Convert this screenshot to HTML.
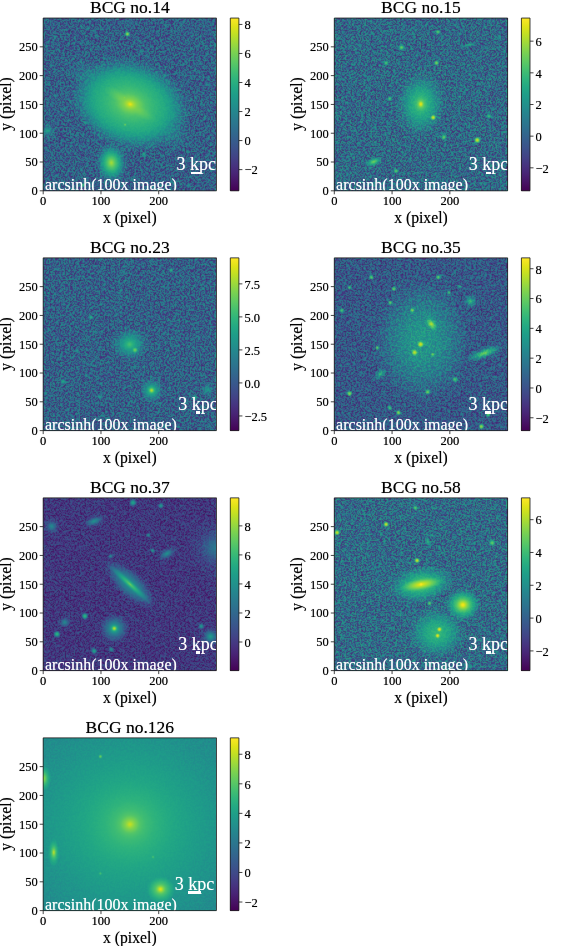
<!DOCTYPE html>
<html><head><meta charset="utf-8"><title>BCG</title><style>
*{margin:0;padding:0;box-sizing:border-box}
html,body{width:561px;height:946px;background:#fff;overflow:hidden}
body{position:relative;font-family:"Liberation Serif","DejaVu Serif",serif;color:#000}
.title,.ytl,.xtl,.ctl,.xl,.yl{text-shadow:0 0 0.7px rgba(0,0,0,0.55)}
.ann,.kpc{text-shadow:0 0 0.7px rgba(255,255,255,0.6)}
div,svg{position:absolute}
.title{font-size:17.5px;line-height:20px;text-align:center;white-space:nowrap}
.frame{border:0.8px solid #333}
.axclip{overflow:hidden}
.ann{font-size:16px;line-height:18px;color:#fff;white-space:nowrap}
.kpc{font-size:18px;line-height:20px;width:100px;text-align:center;color:#fff;white-space:nowrap}
.bar{height:2.6px;background:#fff}
.yt{width:3.5px;height:0.8px;background:#333}
.xt{width:0.8px;height:3.5px;background:#333}
.ct{width:3.5px;height:0.8px;background:#333}
.ytl{width:50px;text-align:right;font-size:12.5px;line-height:14px;white-space:nowrap}
.xtl{width:60px;text-align:center;font-size:12.5px;line-height:14px;white-space:nowrap}
.ctl{font-size:12.5px;line-height:14px;white-space:nowrap}
.xl{font-size:15.7px;line-height:18px;text-align:center;white-space:nowrap}
.yl{font-size:15.7px;line-height:18px;white-space:nowrap;transform:translate(-50%,-50%) rotate(-90deg)}
</style></head><body>
<div class="title" style="left:43.20px;top:-3.15px;width:173.30px">BCG no.14</div>
<svg class="im" style="left:43.20px;top:18.05px" width="173.30" height="172.75" viewBox="0 0 173.30 173.30" preserveAspectRatio="none"><defs><filter id="f0" x="0" y="0" width="173.30" height="173.30" filterUnits="userSpaceOnUse" color-interpolation-filters="sRGB">
<feTurbulence type="fractalNoise" baseFrequency="0.8" numOctaves="2" seed="3" result="t"/>
<feColorMatrix in="t" type="matrix" values="1 0 0 0 0  1 0 0 0 0  1 0 0 0 0  0 0 0 0 1" result="n0"/>
<feComponentTransfer in="n0" result="n"><feFuncR type="table" tableValues="0.0000 0.0042 0.0086 0.0131 0.0178 0.0227 0.0277 0.0330 0.0384 0.0441 0.0500 0.0562 0.0627 0.0696 0.0768 0.0844 0.0925 0.1011 0.1102 0.1201 0.1307 0.1423 0.1549 0.1688 0.1843 0.2018 0.2218 0.2453 0.2736 0.3088 0.3547 0.4175 0.5000 0.5825 0.6453 0.6912 0.7264 0.7547 0.7782 0.7982 0.8157 0.8312 0.8451 0.8577 0.8693 0.8799 0.8898 0.8989 0.9075 0.9156 0.9232 0.9304 0.9373 0.9438 0.9500 0.9559 0.9616 0.9670 0.9723 0.9773 0.9822 0.9869 0.9914 0.9958 1.0000"/><feFuncG type="table" tableValues="0.0000 0.0042 0.0086 0.0131 0.0178 0.0227 0.0277 0.0330 0.0384 0.0441 0.0500 0.0562 0.0627 0.0696 0.0768 0.0844 0.0925 0.1011 0.1102 0.1201 0.1307 0.1423 0.1549 0.1688 0.1843 0.2018 0.2218 0.2453 0.2736 0.3088 0.3547 0.4175 0.5000 0.5825 0.6453 0.6912 0.7264 0.7547 0.7782 0.7982 0.8157 0.8312 0.8451 0.8577 0.8693 0.8799 0.8898 0.8989 0.9075 0.9156 0.9232 0.9304 0.9373 0.9438 0.9500 0.9559 0.9616 0.9670 0.9723 0.9773 0.9822 0.9869 0.9914 0.9958 1.0000"/><feFuncB type="table" tableValues="0.0000 0.0042 0.0086 0.0131 0.0178 0.0227 0.0277 0.0330 0.0384 0.0441 0.0500 0.0562 0.0627 0.0696 0.0768 0.0844 0.0925 0.1011 0.1102 0.1201 0.1307 0.1423 0.1549 0.1688 0.1843 0.2018 0.2218 0.2453 0.2736 0.3088 0.3547 0.4175 0.5000 0.5825 0.6453 0.6912 0.7264 0.7547 0.7782 0.7982 0.8157 0.8312 0.8451 0.8577 0.8693 0.8799 0.8898 0.8989 0.9075 0.9156 0.9232 0.9304 0.9373 0.9438 0.9500 0.9559 0.9616 0.9670 0.9723 0.9773 0.9822 0.9869 0.9914 0.9958 1.0000"/></feComponentTransfer>
<feComponentTransfer in="SourceGraphic" result="a"><feFuncR type="table" tableValues="0.1336 0.1598 0.1905 0.2262 0.2673 0.3139 0.3658 0.4224 0.4832 0.5469 0.6123 0.6781 0.7427 0.8045 0.8614 0.9114 0.9521 0.9813 0.9973 0.9989 0.9860 0.9595 0.9211 0.8729 0.8173 0.7564 0.6923 0.6266 0.5609 0.4968 0.4353 0.3777 0.3247 0.2770 0.2347 0.1978 0.1660 0.1390 0.1160 0.0967 0.0805 0.0670 0.0557 0.0463 0.0385 0.0319 0.0265 0.0220 0.0183 0.0152 0.0126 0.0105 0.0087 0.0072 0.0060 0.0050 0.0041 0.0034 0.0029 0.0024 0.0020 0.0016 0.0014 0.0011 0.0009"/><feFuncG type="table" tableValues="0.1336 0.1598 0.1905 0.2262 0.2673 0.3139 0.3658 0.4224 0.4832 0.5469 0.6123 0.6781 0.7427 0.8045 0.8614 0.9114 0.9521 0.9813 0.9973 0.9989 0.9860 0.9595 0.9211 0.8729 0.8173 0.7564 0.6923 0.6266 0.5609 0.4968 0.4353 0.3777 0.3247 0.2770 0.2347 0.1978 0.1660 0.1390 0.1160 0.0967 0.0805 0.0670 0.0557 0.0463 0.0385 0.0319 0.0265 0.0220 0.0183 0.0152 0.0126 0.0105 0.0087 0.0072 0.0060 0.0050 0.0041 0.0034 0.0029 0.0024 0.0020 0.0016 0.0014 0.0011 0.0009"/><feFuncB type="table" tableValues="0.1336 0.1598 0.1905 0.2262 0.2673 0.3139 0.3658 0.4224 0.4832 0.5469 0.6123 0.6781 0.7427 0.8045 0.8614 0.9114 0.9521 0.9813 0.9973 0.9989 0.9860 0.9595 0.9211 0.8729 0.8173 0.7564 0.6923 0.6266 0.5609 0.4968 0.4353 0.3777 0.3247 0.2770 0.2347 0.1978 0.1660 0.1390 0.1160 0.0967 0.0805 0.0670 0.0557 0.0463 0.0385 0.0319 0.0265 0.0220 0.0183 0.0152 0.0126 0.0105 0.0087 0.0072 0.0060 0.0050 0.0041 0.0034 0.0029 0.0024 0.0020 0.0016 0.0014 0.0011 0.0009"/><feFuncA type="linear" slope="0" intercept="1"/></feComponentTransfer>
<feComposite in="a" in2="n" operator="arithmetic" k1="1" k2="-0.5" k3="0" k4="0.5" result="p"/>
<feComposite in="SourceGraphic" in2="p" operator="arithmetic" k1="0" k2="1" k3="0.6283" k4="-0.3142" result="d"/>
<feComponentTransfer in="d"><feFuncR type="table" tableValues="0.2670 0.2726 0.2770 0.2803 0.2823 0.2832 0.2829 0.2814 0.2788 0.2752 0.2706 0.2651 0.2590 0.2522 0.2450 0.2374 0.2278 0.2201 0.2124 0.2049 0.1976 0.1906 0.1839 0.1774 0.1712 0.1651 0.1592 0.1534 0.1476 0.1419 0.1364 0.1312 0.1254 0.1218 0.1197 0.1197 0.1223 0.1281 0.1373 0.1501 0.1664 0.1858 0.2080 0.2328 0.2599 0.2889 0.3198 0.3524 0.3952 0.4310 0.4681 0.5063 0.5455 0.5857 0.6266 0.6681 0.7099 0.7519 0.7938 0.8353 0.8762 0.9162 0.9553 0.9932"/><feFuncG type="table" tableValues="0.0049 0.0256 0.0503 0.0734 0.0950 0.1157 0.1359 0.1558 0.1755 0.1949 0.2141 0.2330 0.2515 0.2698 0.2877 0.3052 0.3266 0.3433 0.3597 0.3757 0.3915 0.4071 0.4224 0.4375 0.4525 0.4674 0.4822 0.4970 0.5117 0.5265 0.5412 0.5559 0.5743 0.5891 0.6038 0.6185 0.6332 0.6477 0.6623 0.6766 0.6909 0.7049 0.7187 0.7322 0.7455 0.7584 0.7709 0.7830 0.7975 0.8085 0.8189 0.8288 0.8380 0.8467 0.8546 0.8620 0.8688 0.8750 0.8807 0.8860 0.8911 0.8961 0.9011 0.9062"/><feFuncB type="table" tableValues="0.3294 0.3531 0.3757 0.3972 0.4173 0.4361 0.4534 0.4692 0.4834 0.4960 0.5071 0.5166 0.5247 0.5316 0.5373 0.5419 0.5465 0.5494 0.5517 0.5535 0.5550 0.5561 0.5569 0.5576 0.5580 0.5581 0.5581 0.5577 0.5570 0.5560 0.5545 0.5525 0.5491 0.5456 0.5414 0.5363 0.5304 0.5235 0.5156 0.5066 0.4965 0.4853 0.4729 0.4593 0.4445 0.4284 0.4112 0.3926 0.3678 0.3465 0.3240 0.3004 0.2756 0.2499 0.2234 0.1963 0.1693 0.1432 0.1200 0.1026 0.0953 0.1007 0.1181 0.1439"/><feFuncA type="linear" slope="0" intercept="1"/></feComponentTransfer>
<feConvolveMatrix order="3" kernelMatrix="1 2 1 2 12 2 1 2 1" edgeMode="duplicate"/>
</filter><radialGradient id="g0_0"><stop offset="0.000" stop-color="rgb(254,254,254)"/><stop offset="0.043" stop-color="rgb(224,224,224)"/><stop offset="0.100" stop-color="rgb(205,205,205)"/><stop offset="0.214" stop-color="rgb(183,183,183)"/><stop offset="0.357" stop-color="rgb(168,168,168)"/><stop offset="0.500" stop-color="rgb(156,156,156)"/><stop offset="0.600" stop-color="rgb(141,141,141)"/><stop offset="0.686" stop-color="rgb(119,119,119)"/><stop offset="0.786" stop-color="rgb(96,96,96)"/><stop offset="0.886" stop-color="rgb(81,81,81)"/><stop offset="1.000" stop-color="rgb(80,80,80)"/></radialGradient><radialGradient id="g0_1"><stop offset="0.000" stop-color="rgb(213,213,213)"/><stop offset="0.011" stop-color="rgb(213,213,213)"/><stop offset="0.033" stop-color="rgb(211,211,211)"/><stop offset="0.062" stop-color="rgb(207,207,207)"/><stop offset="0.099" stop-color="rgb(202,202,202)"/><stop offset="0.141" stop-color="rgb(196,196,196)"/><stop offset="0.189" stop-color="rgb(188,188,188)"/><stop offset="0.242" stop-color="rgb(179,179,179)"/><stop offset="0.299" stop-color="rgb(168,168,168)"/><stop offset="0.361" stop-color="rgb(156,156,156)"/><stop offset="0.428" stop-color="rgb(143,143,143)"/><stop offset="0.498" stop-color="rgb(128,128,128)"/><stop offset="0.573" stop-color="rgb(112,112,112)"/><stop offset="0.651" stop-color="rgb(97,97,97)"/><stop offset="0.733" stop-color="rgb(85,85,85)"/><stop offset="0.819" stop-color="rgb(80,80,80)"/><stop offset="0.908" stop-color="rgb(80,80,80)"/><stop offset="1.000" stop-color="rgb(80,80,80)"/></radialGradient><radialGradient id="g0_2"><stop offset="0.000" stop-color="rgb(224,224,224)"/><stop offset="0.083" stop-color="rgb(209,209,209)"/><stop offset="0.167" stop-color="rgb(192,192,192)"/><stop offset="0.292" stop-color="rgb(173,173,173)"/><stop offset="0.417" stop-color="rgb(151,151,151)"/><stop offset="0.542" stop-color="rgb(128,128,128)"/><stop offset="0.667" stop-color="rgb(104,104,104)"/><stop offset="0.833" stop-color="rgb(83,83,83)"/><stop offset="1.000" stop-color="rgb(80,80,80)"/></radialGradient><radialGradient id="g0_3"><stop offset="0.000" stop-color="rgb(220,220,220)"/><stop offset="0.011" stop-color="rgb(220,220,220)"/><stop offset="0.033" stop-color="rgb(220,220,220)"/><stop offset="0.062" stop-color="rgb(219,219,219)"/><stop offset="0.099" stop-color="rgb(218,218,218)"/><stop offset="0.141" stop-color="rgb(216,216,216)"/><stop offset="0.189" stop-color="rgb(213,213,213)"/><stop offset="0.242" stop-color="rgb(208,208,208)"/><stop offset="0.299" stop-color="rgb(202,202,202)"/><stop offset="0.361" stop-color="rgb(193,193,193)"/><stop offset="0.428" stop-color="rgb(183,183,183)"/><stop offset="0.498" stop-color="rgb(170,170,170)"/><stop offset="0.573" stop-color="rgb(154,154,154)"/><stop offset="0.651" stop-color="rgb(134,134,134)"/><stop offset="0.733" stop-color="rgb(112,112,112)"/><stop offset="0.819" stop-color="rgb(90,90,90)"/><stop offset="0.908" stop-color="rgb(80,80,80)"/><stop offset="1.000" stop-color="rgb(80,80,80)"/></radialGradient><radialGradient id="g0_4"><stop offset="0.000" stop-color="rgb(149,149,149)"/><stop offset="0.011" stop-color="rgb(148,148,148)"/><stop offset="0.033" stop-color="rgb(145,145,145)"/><stop offset="0.062" stop-color="rgb(141,141,141)"/><stop offset="0.099" stop-color="rgb(136,136,136)"/><stop offset="0.141" stop-color="rgb(131,131,131)"/><stop offset="0.189" stop-color="rgb(125,125,125)"/><stop offset="0.242" stop-color="rgb(118,118,118)"/><stop offset="0.299" stop-color="rgb(111,111,111)"/><stop offset="0.361" stop-color="rgb(103,103,103)"/><stop offset="0.428" stop-color="rgb(96,96,96)"/><stop offset="0.498" stop-color="rgb(90,90,90)"/><stop offset="0.573" stop-color="rgb(85,85,85)"/><stop offset="0.651" stop-color="rgb(81,81,81)"/><stop offset="0.733" stop-color="rgb(80,80,80)"/><stop offset="0.819" stop-color="rgb(80,80,80)"/><stop offset="0.908" stop-color="rgb(80,80,80)"/><stop offset="1.000" stop-color="rgb(80,80,80)"/></radialGradient><radialGradient id="g0_5"><stop offset="0.000" stop-color="rgb(216,216,216)"/><stop offset="0.011" stop-color="rgb(216,216,216)"/><stop offset="0.033" stop-color="rgb(215,215,215)"/><stop offset="0.062" stop-color="rgb(215,215,215)"/><stop offset="0.099" stop-color="rgb(214,214,214)"/><stop offset="0.141" stop-color="rgb(212,212,212)"/><stop offset="0.189" stop-color="rgb(208,208,208)"/><stop offset="0.242" stop-color="rgb(204,204,204)"/><stop offset="0.299" stop-color="rgb(197,197,197)"/><stop offset="0.361" stop-color="rgb(189,189,189)"/><stop offset="0.428" stop-color="rgb(179,179,179)"/><stop offset="0.498" stop-color="rgb(165,165,165)"/><stop offset="0.573" stop-color="rgb(149,149,149)"/><stop offset="0.651" stop-color="rgb(130,130,130)"/><stop offset="0.733" stop-color="rgb(108,108,108)"/><stop offset="0.819" stop-color="rgb(87,87,87)"/><stop offset="0.908" stop-color="rgb(80,80,80)"/><stop offset="1.000" stop-color="rgb(80,80,80)"/></radialGradient><radialGradient id="g0_6"><stop offset="0.000" stop-color="rgb(207,207,207)"/><stop offset="0.011" stop-color="rgb(207,207,207)"/><stop offset="0.033" stop-color="rgb(207,207,207)"/><stop offset="0.062" stop-color="rgb(206,206,206)"/><stop offset="0.099" stop-color="rgb(205,205,205)"/><stop offset="0.141" stop-color="rgb(203,203,203)"/><stop offset="0.189" stop-color="rgb(200,200,200)"/><stop offset="0.242" stop-color="rgb(195,195,195)"/><stop offset="0.299" stop-color="rgb(189,189,189)"/><stop offset="0.361" stop-color="rgb(181,181,181)"/><stop offset="0.428" stop-color="rgb(170,170,170)"/><stop offset="0.498" stop-color="rgb(157,157,157)"/><stop offset="0.573" stop-color="rgb(141,141,141)"/><stop offset="0.651" stop-color="rgb(122,122,122)"/><stop offset="0.733" stop-color="rgb(100,100,100)"/><stop offset="0.819" stop-color="rgb(83,83,83)"/><stop offset="0.908" stop-color="rgb(80,80,80)"/><stop offset="1.000" stop-color="rgb(80,80,80)"/></radialGradient><radialGradient id="g0_7"><stop offset="0.000" stop-color="rgb(160,160,160)"/><stop offset="0.011" stop-color="rgb(160,160,160)"/><stop offset="0.033" stop-color="rgb(160,160,160)"/><stop offset="0.062" stop-color="rgb(159,159,159)"/><stop offset="0.099" stop-color="rgb(158,158,158)"/><stop offset="0.141" stop-color="rgb(157,157,157)"/><stop offset="0.189" stop-color="rgb(154,154,154)"/><stop offset="0.242" stop-color="rgb(151,151,151)"/><stop offset="0.299" stop-color="rgb(146,146,146)"/><stop offset="0.361" stop-color="rgb(140,140,140)"/><stop offset="0.428" stop-color="rgb(132,132,132)"/><stop offset="0.498" stop-color="rgb(123,123,123)"/><stop offset="0.573" stop-color="rgb(111,111,111)"/><stop offset="0.651" stop-color="rgb(98,98,98)"/><stop offset="0.733" stop-color="rgb(87,87,87)"/><stop offset="0.819" stop-color="rgb(80,80,80)"/><stop offset="0.908" stop-color="rgb(80,80,80)"/><stop offset="1.000" stop-color="rgb(80,80,80)"/></radialGradient><radialGradient id="g0_8"><stop offset="0.000" stop-color="rgb(181,181,181)"/><stop offset="0.011" stop-color="rgb(181,181,181)"/><stop offset="0.033" stop-color="rgb(181,181,181)"/><stop offset="0.062" stop-color="rgb(181,181,181)"/><stop offset="0.099" stop-color="rgb(180,180,180)"/><stop offset="0.141" stop-color="rgb(178,178,178)"/><stop offset="0.189" stop-color="rgb(175,175,175)"/><stop offset="0.242" stop-color="rgb(172,172,172)"/><stop offset="0.299" stop-color="rgb(166,166,166)"/><stop offset="0.361" stop-color="rgb(160,160,160)"/><stop offset="0.428" stop-color="rgb(151,151,151)"/><stop offset="0.498" stop-color="rgb(140,140,140)"/><stop offset="0.573" stop-color="rgb(127,127,127)"/><stop offset="0.651" stop-color="rgb(111,111,111)"/><stop offset="0.733" stop-color="rgb(95,95,95)"/><stop offset="0.819" stop-color="rgb(83,83,83)"/><stop offset="0.908" stop-color="rgb(80,80,80)"/><stop offset="1.000" stop-color="rgb(80,80,80)"/></radialGradient></defs><g filter="url(#f0)" style="isolation:isolate"><rect x="0" y="0" width="173.30" height="173.30" fill="rgb(80,80,80)"/><ellipse cx="87.20" cy="86.50" rx="70.00" ry="51.80" transform="rotate(18.0 87.20 86.50)" fill="url(#g0_0)" style="mix-blend-mode:lighten"/><ellipse cx="87.20" cy="86.50" rx="91.22" ry="32.84" transform="rotate(33.0 87.20 86.50)" fill="url(#g0_1)" style="mix-blend-mode:lighten"/><ellipse cx="68.40" cy="145.30" rx="24.00" ry="18.72" transform="rotate(85.0 68.40 145.30)" fill="url(#g0_2)" style="mix-blend-mode:lighten"/><ellipse cx="84.40" cy="16.10" rx="3.32" ry="3.32" transform="rotate(0.0 84.40 16.10)" fill="url(#g0_3)" style="mix-blend-mode:lighten"/><ellipse cx="4.70" cy="113.00" rx="12.16" ry="12.16" transform="rotate(0.0 4.70 113.00)" fill="url(#g0_4)" style="mix-blend-mode:lighten"/><ellipse cx="81.30" cy="80.00" rx="2.90" ry="2.90" transform="rotate(0.0 81.30 80.00)" fill="url(#g0_5)" style="mix-blend-mode:lighten"/><ellipse cx="82.20" cy="107.00" rx="2.90" ry="2.90" transform="rotate(0.0 82.20 107.00)" fill="url(#g0_6)" style="mix-blend-mode:lighten"/><ellipse cx="100.80" cy="136.50" rx="2.87" ry="2.87" transform="rotate(0.0 100.80 136.50)" fill="url(#g0_7)" style="mix-blend-mode:lighten"/><ellipse cx="40.30" cy="167.50" rx="2.63" ry="2.63" transform="rotate(0.0 40.30 167.50)" fill="url(#g0_8)" style="mix-blend-mode:lighten"/></g></svg>
<div class="axclip" style="left:43.20px;top:18.05px;width:173.30px;height:172.75px"><div class="ann" style="left:1.80px;top:158.30px">arcsinh(100x image)</div><div class="kpc" style="left:103.00px;top:135.80px">3 kpc</div><div class="bar" style="left:148.00px;top:153.50px;width:10.00px"></div></div>
<div class="ytl" style="left:-12.30px;top:184.10px">0</div>
<div class="ytl" style="left:-12.30px;top:155.31px">50</div>
<div class="ytl" style="left:-12.30px;top:126.52px">100</div>
<div class="ytl" style="left:-12.30px;top:97.73px">150</div>
<div class="ytl" style="left:-12.30px;top:68.93px">200</div>
<div class="ytl" style="left:-12.30px;top:40.14px">250</div>
<div class="xtl" style="left:13.20px;top:193.80px">0</div>
<div class="xtl" style="left:70.97px;top:193.80px">100</div>
<div class="xtl" style="left:128.73px;top:193.80px">200</div>
<div class="xl" style="left:43.20px;top:209.10px;width:173.30px">x (pixel)</div>
<div class="yl" style="left:6.20px;top:104.42px">y (pixel)</div>
<div class="cb" style="left:230.30px;top:18.05px;width:8.60px;height:172.75px;background:linear-gradient(to top,#440154 0.0%,#471365 5.0%,#482475 10.0%,#463480 15.0%,#414487 20.0%,#3b528b 25.0%,#355f8d 30.0%,#2f6c8e 35.0%,#2a788e 40.0%,#25848e 45.0%,#21918c 50.0%,#1e9c89 55.0%,#22a884 60.0%,#2fb47c 65.0%,#44bf70 70.0%,#5ec962 75.0%,#7ad151 80.0%,#9bd93c 85.0%,#bddf26 90.0%,#dfe318 95.0%,#fde725 100.0%)"></div>
<div class="ctl" style="left:244.40px;top:163.41px">−2</div>
<div class="ctl" style="left:244.40px;top:134.37px">0</div>
<div class="ctl" style="left:244.40px;top:105.34px">2</div>
<div class="ctl" style="left:244.40px;top:76.30px">4</div>
<div class="ctl" style="left:244.40px;top:47.27px">6</div>
<div class="ctl" style="left:244.40px;top:18.24px">8</div>
<div class="title" style="left:334.30px;top:-3.15px;width:173.30px">BCG no.15</div>
<svg class="im" style="left:334.30px;top:18.05px" width="173.30" height="172.75" viewBox="0 0 173.30 173.30" preserveAspectRatio="none"><defs><filter id="f1" x="0" y="0" width="173.30" height="173.30" filterUnits="userSpaceOnUse" color-interpolation-filters="sRGB">
<feTurbulence type="fractalNoise" baseFrequency="0.8" numOctaves="2" seed="10" result="t"/>
<feColorMatrix in="t" type="matrix" values="1 0 0 0 0  1 0 0 0 0  1 0 0 0 0  0 0 0 0 1" result="n0"/>
<feComponentTransfer in="n0" result="n"><feFuncR type="table" tableValues="0.0000 0.0042 0.0086 0.0131 0.0178 0.0227 0.0277 0.0330 0.0384 0.0441 0.0500 0.0562 0.0627 0.0696 0.0768 0.0844 0.0925 0.1011 0.1102 0.1201 0.1307 0.1423 0.1549 0.1688 0.1843 0.2018 0.2218 0.2453 0.2736 0.3088 0.3547 0.4175 0.5000 0.5825 0.6453 0.6912 0.7264 0.7547 0.7782 0.7982 0.8157 0.8312 0.8451 0.8577 0.8693 0.8799 0.8898 0.8989 0.9075 0.9156 0.9232 0.9304 0.9373 0.9438 0.9500 0.9559 0.9616 0.9670 0.9723 0.9773 0.9822 0.9869 0.9914 0.9958 1.0000"/><feFuncG type="table" tableValues="0.0000 0.0042 0.0086 0.0131 0.0178 0.0227 0.0277 0.0330 0.0384 0.0441 0.0500 0.0562 0.0627 0.0696 0.0768 0.0844 0.0925 0.1011 0.1102 0.1201 0.1307 0.1423 0.1549 0.1688 0.1843 0.2018 0.2218 0.2453 0.2736 0.3088 0.3547 0.4175 0.5000 0.5825 0.6453 0.6912 0.7264 0.7547 0.7782 0.7982 0.8157 0.8312 0.8451 0.8577 0.8693 0.8799 0.8898 0.8989 0.9075 0.9156 0.9232 0.9304 0.9373 0.9438 0.9500 0.9559 0.9616 0.9670 0.9723 0.9773 0.9822 0.9869 0.9914 0.9958 1.0000"/><feFuncB type="table" tableValues="0.0000 0.0042 0.0086 0.0131 0.0178 0.0227 0.0277 0.0330 0.0384 0.0441 0.0500 0.0562 0.0627 0.0696 0.0768 0.0844 0.0925 0.1011 0.1102 0.1201 0.1307 0.1423 0.1549 0.1688 0.1843 0.2018 0.2218 0.2453 0.2736 0.3088 0.3547 0.4175 0.5000 0.5825 0.6453 0.6912 0.7264 0.7547 0.7782 0.7982 0.8157 0.8312 0.8451 0.8577 0.8693 0.8799 0.8898 0.8989 0.9075 0.9156 0.9232 0.9304 0.9373 0.9438 0.9500 0.9559 0.9616 0.9670 0.9723 0.9773 0.9822 0.9869 0.9914 0.9958 1.0000"/></feComponentTransfer>
<feComponentTransfer in="SourceGraphic" result="a"><feFuncR type="table" tableValues="0.1349 0.1590 0.1868 0.2188 0.2553 0.2964 0.3420 0.3919 0.4456 0.5023 0.5613 0.6214 0.6817 0.7410 0.7978 0.8508 0.8983 0.9386 0.9699 0.9906 0.9997 0.9964 0.9812 0.9547 0.9186 0.8743 0.8237 0.7685 0.7102 0.6502 0.5899 0.5302 0.4723 0.4171 0.3653 0.3176 0.2743 0.2357 0.2015 0.1717 0.1459 0.1238 0.1048 0.0886 0.0749 0.0633 0.0534 0.0451 0.0380 0.0321 0.0271 0.0228 0.0192 0.0162 0.0137 0.0115 0.0097 0.0082 0.0069 0.0058 0.0049 0.0042 0.0035 0.0030 0.0025"/><feFuncG type="table" tableValues="0.1349 0.1590 0.1868 0.2188 0.2553 0.2964 0.3420 0.3919 0.4456 0.5023 0.5613 0.6214 0.6817 0.7410 0.7978 0.8508 0.8983 0.9386 0.9699 0.9906 0.9997 0.9964 0.9812 0.9547 0.9186 0.8743 0.8237 0.7685 0.7102 0.6502 0.5899 0.5302 0.4723 0.4171 0.3653 0.3176 0.2743 0.2357 0.2015 0.1717 0.1459 0.1238 0.1048 0.0886 0.0749 0.0633 0.0534 0.0451 0.0380 0.0321 0.0271 0.0228 0.0192 0.0162 0.0137 0.0115 0.0097 0.0082 0.0069 0.0058 0.0049 0.0042 0.0035 0.0030 0.0025"/><feFuncB type="table" tableValues="0.1349 0.1590 0.1868 0.2188 0.2553 0.2964 0.3420 0.3919 0.4456 0.5023 0.5613 0.6214 0.6817 0.7410 0.7978 0.8508 0.8983 0.9386 0.9699 0.9906 0.9997 0.9964 0.9812 0.9547 0.9186 0.8743 0.8237 0.7685 0.7102 0.6502 0.5899 0.5302 0.4723 0.4171 0.3653 0.3176 0.2743 0.2357 0.2015 0.1717 0.1459 0.1238 0.1048 0.0886 0.0749 0.0633 0.0534 0.0451 0.0380 0.0321 0.0271 0.0228 0.0192 0.0162 0.0137 0.0115 0.0097 0.0082 0.0069 0.0058 0.0049 0.0042 0.0035 0.0030 0.0025"/><feFuncA type="linear" slope="0" intercept="1"/></feComponentTransfer>
<feComposite in="a" in2="n" operator="arithmetic" k1="1" k2="-0.5" k3="0" k4="0.5" result="p"/>
<feComposite in="SourceGraphic" in2="p" operator="arithmetic" k1="0" k2="1" k3="0.6854" k4="-0.3427" result="d"/>
<feComponentTransfer in="d"><feFuncR type="table" tableValues="0.2670 0.2726 0.2770 0.2803 0.2823 0.2832 0.2829 0.2814 0.2788 0.2752 0.2706 0.2651 0.2590 0.2522 0.2450 0.2374 0.2278 0.2201 0.2124 0.2049 0.1976 0.1906 0.1839 0.1774 0.1712 0.1651 0.1592 0.1534 0.1476 0.1419 0.1364 0.1312 0.1254 0.1218 0.1197 0.1197 0.1223 0.1281 0.1373 0.1501 0.1664 0.1858 0.2080 0.2328 0.2599 0.2889 0.3198 0.3524 0.3952 0.4310 0.4681 0.5063 0.5455 0.5857 0.6266 0.6681 0.7099 0.7519 0.7938 0.8353 0.8762 0.9162 0.9553 0.9932"/><feFuncG type="table" tableValues="0.0049 0.0256 0.0503 0.0734 0.0950 0.1157 0.1359 0.1558 0.1755 0.1949 0.2141 0.2330 0.2515 0.2698 0.2877 0.3052 0.3266 0.3433 0.3597 0.3757 0.3915 0.4071 0.4224 0.4375 0.4525 0.4674 0.4822 0.4970 0.5117 0.5265 0.5412 0.5559 0.5743 0.5891 0.6038 0.6185 0.6332 0.6477 0.6623 0.6766 0.6909 0.7049 0.7187 0.7322 0.7455 0.7584 0.7709 0.7830 0.7975 0.8085 0.8189 0.8288 0.8380 0.8467 0.8546 0.8620 0.8688 0.8750 0.8807 0.8860 0.8911 0.8961 0.9011 0.9062"/><feFuncB type="table" tableValues="0.3294 0.3531 0.3757 0.3972 0.4173 0.4361 0.4534 0.4692 0.4834 0.4960 0.5071 0.5166 0.5247 0.5316 0.5373 0.5419 0.5465 0.5494 0.5517 0.5535 0.5550 0.5561 0.5569 0.5576 0.5580 0.5581 0.5581 0.5577 0.5570 0.5560 0.5545 0.5525 0.5491 0.5456 0.5414 0.5363 0.5304 0.5235 0.5156 0.5066 0.4965 0.4853 0.4729 0.4593 0.4445 0.4284 0.4112 0.3926 0.3678 0.3465 0.3240 0.3004 0.2756 0.2499 0.2234 0.1963 0.1693 0.1432 0.1200 0.1026 0.0953 0.1007 0.1181 0.1439"/><feFuncA type="linear" slope="0" intercept="1"/></feComponentTransfer>
<feConvolveMatrix order="3" kernelMatrix="1 2 1 2 12 2 1 2 1" edgeMode="duplicate"/>
</filter><radialGradient id="g1_0"><stop offset="0.000" stop-color="rgb(255,255,255)"/><stop offset="0.042" stop-color="rgb(235,235,235)"/><stop offset="0.083" stop-color="rgb(198,198,198)"/><stop offset="0.167" stop-color="rgb(174,174,174)"/><stop offset="0.278" stop-color="rgb(158,158,158)"/><stop offset="0.417" stop-color="rgb(145,145,145)"/><stop offset="0.556" stop-color="rgb(127,127,127)"/><stop offset="0.694" stop-color="rgb(109,109,109)"/><stop offset="0.833" stop-color="rgb(92,92,92)"/><stop offset="1.000" stop-color="rgb(88,88,88)"/></radialGradient><radialGradient id="g1_1"><stop offset="0.000" stop-color="rgb(244,244,244)"/><stop offset="0.011" stop-color="rgb(244,244,244)"/><stop offset="0.033" stop-color="rgb(244,244,244)"/><stop offset="0.062" stop-color="rgb(243,243,243)"/><stop offset="0.099" stop-color="rgb(242,242,242)"/><stop offset="0.141" stop-color="rgb(239,239,239)"/><stop offset="0.189" stop-color="rgb(236,236,236)"/><stop offset="0.242" stop-color="rgb(230,230,230)"/><stop offset="0.299" stop-color="rgb(222,222,222)"/><stop offset="0.361" stop-color="rgb(212,212,212)"/><stop offset="0.428" stop-color="rgb(200,200,200)"/><stop offset="0.498" stop-color="rgb(184,184,184)"/><stop offset="0.573" stop-color="rgb(165,165,165)"/><stop offset="0.651" stop-color="rgb(141,141,141)"/><stop offset="0.733" stop-color="rgb(115,115,115)"/><stop offset="0.819" stop-color="rgb(92,92,92)"/><stop offset="0.908" stop-color="rgb(88,88,88)"/><stop offset="1.000" stop-color="rgb(88,88,88)"/></radialGradient><radialGradient id="g1_2"><stop offset="0.000" stop-color="rgb(240,240,240)"/><stop offset="0.011" stop-color="rgb(240,240,240)"/><stop offset="0.033" stop-color="rgb(239,239,239)"/><stop offset="0.062" stop-color="rgb(239,239,239)"/><stop offset="0.099" stop-color="rgb(237,237,237)"/><stop offset="0.141" stop-color="rgb(235,235,235)"/><stop offset="0.189" stop-color="rgb(232,232,232)"/><stop offset="0.242" stop-color="rgb(227,227,227)"/><stop offset="0.299" stop-color="rgb(220,220,220)"/><stop offset="0.361" stop-color="rgb(211,211,211)"/><stop offset="0.428" stop-color="rgb(199,199,199)"/><stop offset="0.498" stop-color="rgb(185,185,185)"/><stop offset="0.573" stop-color="rgb(167,167,167)"/><stop offset="0.651" stop-color="rgb(146,146,146)"/><stop offset="0.733" stop-color="rgb(122,122,122)"/><stop offset="0.819" stop-color="rgb(98,98,98)"/><stop offset="0.908" stop-color="rgb(88,88,88)"/><stop offset="1.000" stop-color="rgb(88,88,88)"/></radialGradient><radialGradient id="g1_3"><stop offset="0.000" stop-color="rgb(198,198,198)"/><stop offset="0.011" stop-color="rgb(197,197,197)"/><stop offset="0.033" stop-color="rgb(197,197,197)"/><stop offset="0.062" stop-color="rgb(197,197,197)"/><stop offset="0.099" stop-color="rgb(196,196,196)"/><stop offset="0.141" stop-color="rgb(194,194,194)"/><stop offset="0.189" stop-color="rgb(191,191,191)"/><stop offset="0.242" stop-color="rgb(187,187,187)"/><stop offset="0.299" stop-color="rgb(181,181,181)"/><stop offset="0.361" stop-color="rgb(174,174,174)"/><stop offset="0.428" stop-color="rgb(164,164,164)"/><stop offset="0.498" stop-color="rgb(153,153,153)"/><stop offset="0.573" stop-color="rgb(138,138,138)"/><stop offset="0.651" stop-color="rgb(121,121,121)"/><stop offset="0.733" stop-color="rgb(104,104,104)"/><stop offset="0.819" stop-color="rgb(90,90,90)"/><stop offset="0.908" stop-color="rgb(88,88,88)"/><stop offset="1.000" stop-color="rgb(88,88,88)"/></radialGradient><radialGradient id="g1_4"><stop offset="0.000" stop-color="rgb(212,212,212)"/><stop offset="0.011" stop-color="rgb(209,209,209)"/><stop offset="0.033" stop-color="rgb(205,205,205)"/><stop offset="0.062" stop-color="rgb(200,200,200)"/><stop offset="0.099" stop-color="rgb(193,193,193)"/><stop offset="0.141" stop-color="rgb(185,185,185)"/><stop offset="0.189" stop-color="rgb(176,176,176)"/><stop offset="0.242" stop-color="rgb(165,165,165)"/><stop offset="0.299" stop-color="rgb(155,155,155)"/><stop offset="0.361" stop-color="rgb(143,143,143)"/><stop offset="0.428" stop-color="rgb(130,130,130)"/><stop offset="0.498" stop-color="rgb(118,118,118)"/><stop offset="0.573" stop-color="rgb(105,105,105)"/><stop offset="0.651" stop-color="rgb(95,95,95)"/><stop offset="0.733" stop-color="rgb(89,89,89)"/><stop offset="0.819" stop-color="rgb(88,88,88)"/><stop offset="0.908" stop-color="rgb(88,88,88)"/><stop offset="1.000" stop-color="rgb(88,88,88)"/></radialGradient><radialGradient id="g1_5"><stop offset="0.000" stop-color="rgb(205,205,205)"/><stop offset="0.011" stop-color="rgb(204,204,204)"/><stop offset="0.033" stop-color="rgb(204,204,204)"/><stop offset="0.062" stop-color="rgb(204,204,204)"/><stop offset="0.099" stop-color="rgb(203,203,203)"/><stop offset="0.141" stop-color="rgb(201,201,201)"/><stop offset="0.189" stop-color="rgb(197,197,197)"/><stop offset="0.242" stop-color="rgb(193,193,193)"/><stop offset="0.299" stop-color="rgb(187,187,187)"/><stop offset="0.361" stop-color="rgb(178,178,178)"/><stop offset="0.428" stop-color="rgb(168,168,168)"/><stop offset="0.498" stop-color="rgb(155,155,155)"/><stop offset="0.573" stop-color="rgb(139,139,139)"/><stop offset="0.651" stop-color="rgb(121,121,121)"/><stop offset="0.733" stop-color="rgb(101,101,101)"/><stop offset="0.819" stop-color="rgb(88,88,88)"/><stop offset="0.908" stop-color="rgb(88,88,88)"/><stop offset="1.000" stop-color="rgb(88,88,88)"/></radialGradient><radialGradient id="g1_6"><stop offset="0.000" stop-color="rgb(209,209,209)"/><stop offset="0.011" stop-color="rgb(209,209,209)"/><stop offset="0.033" stop-color="rgb(209,209,209)"/><stop offset="0.062" stop-color="rgb(208,208,208)"/><stop offset="0.099" stop-color="rgb(207,207,207)"/><stop offset="0.141" stop-color="rgb(205,205,205)"/><stop offset="0.189" stop-color="rgb(202,202,202)"/><stop offset="0.242" stop-color="rgb(197,197,197)"/><stop offset="0.299" stop-color="rgb(191,191,191)"/><stop offset="0.361" stop-color="rgb(183,183,183)"/><stop offset="0.428" stop-color="rgb(173,173,173)"/><stop offset="0.498" stop-color="rgb(160,160,160)"/><stop offset="0.573" stop-color="rgb(144,144,144)"/><stop offset="0.651" stop-color="rgb(125,125,125)"/><stop offset="0.733" stop-color="rgb(105,105,105)"/><stop offset="0.819" stop-color="rgb(90,90,90)"/><stop offset="0.908" stop-color="rgb(88,88,88)"/><stop offset="1.000" stop-color="rgb(88,88,88)"/></radialGradient><radialGradient id="g1_7"><stop offset="0.000" stop-color="rgb(188,188,188)"/><stop offset="0.011" stop-color="rgb(188,188,188)"/><stop offset="0.033" stop-color="rgb(188,188,188)"/><stop offset="0.062" stop-color="rgb(187,187,187)"/><stop offset="0.099" stop-color="rgb(186,186,186)"/><stop offset="0.141" stop-color="rgb(185,185,185)"/><stop offset="0.189" stop-color="rgb(182,182,182)"/><stop offset="0.242" stop-color="rgb(178,178,178)"/><stop offset="0.299" stop-color="rgb(172,172,172)"/><stop offset="0.361" stop-color="rgb(164,164,164)"/><stop offset="0.428" stop-color="rgb(155,155,155)"/><stop offset="0.498" stop-color="rgb(143,143,143)"/><stop offset="0.573" stop-color="rgb(129,129,129)"/><stop offset="0.651" stop-color="rgb(113,113,113)"/><stop offset="0.733" stop-color="rgb(97,97,97)"/><stop offset="0.819" stop-color="rgb(88,88,88)"/><stop offset="0.908" stop-color="rgb(88,88,88)"/><stop offset="1.000" stop-color="rgb(88,88,88)"/></radialGradient><radialGradient id="g1_8"><stop offset="0.000" stop-color="rgb(188,188,188)"/><stop offset="0.011" stop-color="rgb(188,188,188)"/><stop offset="0.033" stop-color="rgb(188,188,188)"/><stop offset="0.062" stop-color="rgb(187,187,187)"/><stop offset="0.099" stop-color="rgb(186,186,186)"/><stop offset="0.141" stop-color="rgb(185,185,185)"/><stop offset="0.189" stop-color="rgb(182,182,182)"/><stop offset="0.242" stop-color="rgb(178,178,178)"/><stop offset="0.299" stop-color="rgb(172,172,172)"/><stop offset="0.361" stop-color="rgb(164,164,164)"/><stop offset="0.428" stop-color="rgb(155,155,155)"/><stop offset="0.498" stop-color="rgb(143,143,143)"/><stop offset="0.573" stop-color="rgb(129,129,129)"/><stop offset="0.651" stop-color="rgb(113,113,113)"/><stop offset="0.733" stop-color="rgb(97,97,97)"/><stop offset="0.819" stop-color="rgb(88,88,88)"/><stop offset="0.908" stop-color="rgb(88,88,88)"/><stop offset="1.000" stop-color="rgb(88,88,88)"/></radialGradient><radialGradient id="g1_9"><stop offset="0.000" stop-color="rgb(193,193,193)"/><stop offset="0.011" stop-color="rgb(193,193,193)"/><stop offset="0.033" stop-color="rgb(193,193,193)"/><stop offset="0.062" stop-color="rgb(192,192,192)"/><stop offset="0.099" stop-color="rgb(191,191,191)"/><stop offset="0.141" stop-color="rgb(189,189,189)"/><stop offset="0.189" stop-color="rgb(186,186,186)"/><stop offset="0.242" stop-color="rgb(182,182,182)"/><stop offset="0.299" stop-color="rgb(177,177,177)"/><stop offset="0.361" stop-color="rgb(169,169,169)"/><stop offset="0.428" stop-color="rgb(160,160,160)"/><stop offset="0.498" stop-color="rgb(148,148,148)"/><stop offset="0.573" stop-color="rgb(134,134,134)"/><stop offset="0.651" stop-color="rgb(117,117,117)"/><stop offset="0.733" stop-color="rgb(100,100,100)"/><stop offset="0.819" stop-color="rgb(88,88,88)"/><stop offset="0.908" stop-color="rgb(88,88,88)"/><stop offset="1.000" stop-color="rgb(88,88,88)"/></radialGradient><radialGradient id="g1_10"><stop offset="0.000" stop-color="rgb(165,165,165)"/><stop offset="0.011" stop-color="rgb(163,163,163)"/><stop offset="0.033" stop-color="rgb(160,160,160)"/><stop offset="0.062" stop-color="rgb(155,155,155)"/><stop offset="0.099" stop-color="rgb(150,150,150)"/><stop offset="0.141" stop-color="rgb(144,144,144)"/><stop offset="0.189" stop-color="rgb(137,137,137)"/><stop offset="0.242" stop-color="rgb(129,129,129)"/><stop offset="0.299" stop-color="rgb(121,121,121)"/><stop offset="0.361" stop-color="rgb(112,112,112)"/><stop offset="0.428" stop-color="rgb(104,104,104)"/><stop offset="0.498" stop-color="rgb(97,97,97)"/><stop offset="0.573" stop-color="rgb(91,91,91)"/><stop offset="0.651" stop-color="rgb(88,88,88)"/><stop offset="0.733" stop-color="rgb(88,88,88)"/><stop offset="0.819" stop-color="rgb(88,88,88)"/><stop offset="0.908" stop-color="rgb(88,88,88)"/><stop offset="1.000" stop-color="rgb(88,88,88)"/></radialGradient><radialGradient id="g1_11"><stop offset="0.000" stop-color="rgb(193,193,193)"/><stop offset="0.011" stop-color="rgb(193,193,193)"/><stop offset="0.033" stop-color="rgb(193,193,193)"/><stop offset="0.062" stop-color="rgb(192,192,192)"/><stop offset="0.099" stop-color="rgb(191,191,191)"/><stop offset="0.141" stop-color="rgb(189,189,189)"/><stop offset="0.189" stop-color="rgb(186,186,186)"/><stop offset="0.242" stop-color="rgb(182,182,182)"/><stop offset="0.299" stop-color="rgb(177,177,177)"/><stop offset="0.361" stop-color="rgb(169,169,169)"/><stop offset="0.428" stop-color="rgb(160,160,160)"/><stop offset="0.498" stop-color="rgb(148,148,148)"/><stop offset="0.573" stop-color="rgb(134,134,134)"/><stop offset="0.651" stop-color="rgb(117,117,117)"/><stop offset="0.733" stop-color="rgb(100,100,100)"/><stop offset="0.819" stop-color="rgb(88,88,88)"/><stop offset="0.908" stop-color="rgb(88,88,88)"/><stop offset="1.000" stop-color="rgb(88,88,88)"/></radialGradient><radialGradient id="g1_12"><stop offset="0.000" stop-color="rgb(183,183,183)"/><stop offset="0.011" stop-color="rgb(183,183,183)"/><stop offset="0.033" stop-color="rgb(183,183,183)"/><stop offset="0.062" stop-color="rgb(183,183,183)"/><stop offset="0.099" stop-color="rgb(182,182,182)"/><stop offset="0.141" stop-color="rgb(180,180,180)"/><stop offset="0.189" stop-color="rgb(178,178,178)"/><stop offset="0.242" stop-color="rgb(174,174,174)"/><stop offset="0.299" stop-color="rgb(169,169,169)"/><stop offset="0.361" stop-color="rgb(162,162,162)"/><stop offset="0.428" stop-color="rgb(153,153,153)"/><stop offset="0.498" stop-color="rgb(143,143,143)"/><stop offset="0.573" stop-color="rgb(130,130,130)"/><stop offset="0.651" stop-color="rgb(115,115,115)"/><stop offset="0.733" stop-color="rgb(100,100,100)"/><stop offset="0.819" stop-color="rgb(89,89,89)"/><stop offset="0.908" stop-color="rgb(88,88,88)"/><stop offset="1.000" stop-color="rgb(88,88,88)"/></radialGradient><radialGradient id="g1_13"><stop offset="0.000" stop-color="rgb(193,193,193)"/><stop offset="0.011" stop-color="rgb(193,193,193)"/><stop offset="0.033" stop-color="rgb(193,193,193)"/><stop offset="0.062" stop-color="rgb(192,192,192)"/><stop offset="0.099" stop-color="rgb(191,191,191)"/><stop offset="0.141" stop-color="rgb(189,189,189)"/><stop offset="0.189" stop-color="rgb(186,186,186)"/><stop offset="0.242" stop-color="rgb(182,182,182)"/><stop offset="0.299" stop-color="rgb(177,177,177)"/><stop offset="0.361" stop-color="rgb(169,169,169)"/><stop offset="0.428" stop-color="rgb(160,160,160)"/><stop offset="0.498" stop-color="rgb(148,148,148)"/><stop offset="0.573" stop-color="rgb(134,134,134)"/><stop offset="0.651" stop-color="rgb(117,117,117)"/><stop offset="0.733" stop-color="rgb(100,100,100)"/><stop offset="0.819" stop-color="rgb(88,88,88)"/><stop offset="0.908" stop-color="rgb(88,88,88)"/><stop offset="1.000" stop-color="rgb(88,88,88)"/></radialGradient></defs><g filter="url(#f1)" style="isolation:isolate"><rect x="0" y="0" width="173.30" height="173.30" fill="rgb(88,88,88)"/><ellipse cx="86.80" cy="86.40" rx="36.00" ry="28.08" transform="rotate(90.0 86.80 86.40)" fill="url(#g1_0)" style="mix-blend-mode:lighten"/><ellipse cx="99.20" cy="99.80" rx="3.92" ry="3.92" transform="rotate(0.0 99.20 99.80)" fill="url(#g1_1)" style="mix-blend-mode:lighten"/><ellipse cx="143.30" cy="122.50" rx="4.15" ry="4.15" transform="rotate(0.0 143.30 122.50)" fill="url(#g1_2)" style="mix-blend-mode:lighten"/><ellipse cx="110.10" cy="119.40" rx="3.38" ry="3.38" transform="rotate(0.0 110.10 119.40)" fill="url(#g1_3)" style="mix-blend-mode:lighten"/><ellipse cx="39.70" cy="144.20" rx="14.67" ry="6.60" transform="rotate(-20.0 39.70 144.20)" fill="url(#g1_4)" style="mix-blend-mode:lighten"/><ellipse cx="67.60" cy="29.50" rx="3.55" ry="3.55" transform="rotate(0.0 67.60 29.50)" fill="url(#g1_5)" style="mix-blend-mode:lighten"/><ellipse cx="102.50" cy="45.10" rx="3.55" ry="3.55" transform="rotate(0.0 102.50 45.10)" fill="url(#g1_6)" style="mix-blend-mode:lighten"/><ellipse cx="52.10" cy="45.10" rx="3.38" ry="3.38" transform="rotate(0.0 52.10 45.10)" fill="url(#g1_7)" style="mix-blend-mode:lighten"/><ellipse cx="55.70" cy="80.80" rx="3.38" ry="3.38" transform="rotate(0.0 55.70 80.80)" fill="url(#g1_8)" style="mix-blend-mode:lighten"/><ellipse cx="103.90" cy="14.00" rx="3.38" ry="3.38" transform="rotate(0.0 103.90 14.00)" fill="url(#g1_9)" style="mix-blend-mode:lighten"/><ellipse cx="135.90" cy="27.00" rx="12.77" ry="3.83" transform="rotate(-15.0 135.90 27.00)" fill="url(#g1_10)" style="mix-blend-mode:lighten"/><ellipse cx="62.00" cy="153.50" rx="3.38" ry="3.38" transform="rotate(0.0 62.00 153.50)" fill="url(#g1_11)" style="mix-blend-mode:lighten"/><ellipse cx="155.00" cy="98.60" rx="3.22" ry="3.22" transform="rotate(0.0 155.00 98.60)" fill="url(#g1_12)" style="mix-blend-mode:lighten"/><ellipse cx="109.60" cy="120.00" rx="3.38" ry="3.38" transform="rotate(0.0 109.60 120.00)" fill="url(#g1_13)" style="mix-blend-mode:lighten"/></g></svg>
<div class="axclip" style="left:334.30px;top:18.05px;width:173.30px;height:172.75px"><div class="ann" style="left:1.80px;top:158.30px">arcsinh(100x image)</div><div class="kpc" style="left:104.10px;top:135.80px">3 kpc</div><div class="bar" style="left:151.50px;top:153.50px;width:5.20px"></div></div>
<div class="ytl" style="left:278.80px;top:184.10px">0</div>
<div class="ytl" style="left:278.80px;top:155.31px">50</div>
<div class="ytl" style="left:278.80px;top:126.52px">100</div>
<div class="ytl" style="left:278.80px;top:97.73px">150</div>
<div class="ytl" style="left:278.80px;top:68.93px">200</div>
<div class="ytl" style="left:278.80px;top:40.14px">250</div>
<div class="xtl" style="left:304.30px;top:193.80px">0</div>
<div class="xtl" style="left:362.07px;top:193.80px">100</div>
<div class="xtl" style="left:419.83px;top:193.80px">200</div>
<div class="xl" style="left:334.30px;top:209.10px;width:173.30px">x (pixel)</div>
<div class="yl" style="left:297.30px;top:104.42px">y (pixel)</div>
<div class="cb" style="left:521.40px;top:18.05px;width:8.60px;height:172.75px;background:linear-gradient(to top,#440154 0.0%,#471365 5.0%,#482475 10.0%,#463480 15.0%,#414487 20.0%,#3b528b 25.0%,#355f8d 30.0%,#2f6c8e 35.0%,#2a788e 40.0%,#25848e 45.0%,#21918c 50.0%,#1e9c89 55.0%,#22a884 60.0%,#2fb47c 65.0%,#44bf70 70.0%,#5ec962 75.0%,#7ad151 80.0%,#9bd93c 85.0%,#bddf26 90.0%,#dfe318 95.0%,#fde725 100.0%)"></div>
<div class="ctl" style="left:535.50px;top:161.64px">−2</div>
<div class="ctl" style="left:535.50px;top:129.97px">0</div>
<div class="ctl" style="left:535.50px;top:98.30px">2</div>
<div class="ctl" style="left:535.50px;top:66.64px">4</div>
<div class="ctl" style="left:535.50px;top:34.97px">6</div>
<div class="title" style="left:43.20px;top:236.65px;width:173.30px">BCG no.23</div>
<svg class="im" style="left:43.20px;top:257.85px" width="173.30" height="172.75" viewBox="0 0 173.30 173.30" preserveAspectRatio="none"><defs><filter id="f2" x="0" y="0" width="173.30" height="173.30" filterUnits="userSpaceOnUse" color-interpolation-filters="sRGB">
<feTurbulence type="fractalNoise" baseFrequency="0.8" numOctaves="2" seed="17" result="t"/>
<feColorMatrix in="t" type="matrix" values="1 0 0 0 0  1 0 0 0 0  1 0 0 0 0  0 0 0 0 1" result="n0"/>
<feComponentTransfer in="n0" result="n"><feFuncR type="table" tableValues="0.0000 0.0039 0.0079 0.0121 0.0164 0.0208 0.0255 0.0303 0.0353 0.0405 0.0459 0.0516 0.0576 0.0639 0.0705 0.0775 0.0849 0.0928 0.1013 0.1104 0.1201 0.1308 0.1424 0.1552 0.1696 0.1858 0.2044 0.2264 0.2530 0.2866 0.3320 0.3990 0.5000 0.6010 0.6680 0.7134 0.7470 0.7736 0.7956 0.8142 0.8304 0.8448 0.8576 0.8692 0.8799 0.8896 0.8987 0.9072 0.9151 0.9225 0.9295 0.9361 0.9424 0.9484 0.9541 0.9595 0.9647 0.9697 0.9745 0.9792 0.9836 0.9879 0.9921 0.9961 1.0000"/><feFuncG type="table" tableValues="0.0000 0.0039 0.0079 0.0121 0.0164 0.0208 0.0255 0.0303 0.0353 0.0405 0.0459 0.0516 0.0576 0.0639 0.0705 0.0775 0.0849 0.0928 0.1013 0.1104 0.1201 0.1308 0.1424 0.1552 0.1696 0.1858 0.2044 0.2264 0.2530 0.2866 0.3320 0.3990 0.5000 0.6010 0.6680 0.7134 0.7470 0.7736 0.7956 0.8142 0.8304 0.8448 0.8576 0.8692 0.8799 0.8896 0.8987 0.9072 0.9151 0.9225 0.9295 0.9361 0.9424 0.9484 0.9541 0.9595 0.9647 0.9697 0.9745 0.9792 0.9836 0.9879 0.9921 0.9961 1.0000"/><feFuncB type="table" tableValues="0.0000 0.0039 0.0079 0.0121 0.0164 0.0208 0.0255 0.0303 0.0353 0.0405 0.0459 0.0516 0.0576 0.0639 0.0705 0.0775 0.0849 0.0928 0.1013 0.1104 0.1201 0.1308 0.1424 0.1552 0.1696 0.1858 0.2044 0.2264 0.2530 0.2866 0.3320 0.3990 0.5000 0.6010 0.6680 0.7134 0.7470 0.7736 0.7956 0.8142 0.8304 0.8448 0.8576 0.8692 0.8799 0.8896 0.8987 0.9072 0.9151 0.9225 0.9295 0.9361 0.9424 0.9484 0.9541 0.9595 0.9647 0.9697 0.9745 0.9792 0.9836 0.9879 0.9921 0.9961 1.0000"/></feComponentTransfer>
<feComponentTransfer in="SourceGraphic" result="a"><feFuncR type="table" tableValues="0.1399 0.1698 0.2050 0.2460 0.2930 0.3456 0.4032 0.4650 0.5298 0.5963 0.6632 0.7292 0.7926 0.8516 0.9039 0.9471 0.9788 0.9966 0.9991 0.9862 0.9589 0.9192 0.8695 0.8125 0.7503 0.6850 0.6182 0.5514 0.4859 0.4230 0.3639 0.3096 0.2608 0.2178 0.1807 0.1491 0.1226 0.1005 0.0823 0.0673 0.0549 0.0448 0.0366 0.0298 0.0243 0.0198 0.0162 0.0132 0.0107 0.0088 0.0071 0.0058 0.0047 0.0039 0.0032 0.0026 0.0021 0.0017 0.0014 0.0011 0.0009 0.0008 0.0006 0.0005 0.0004"/><feFuncG type="table" tableValues="0.1399 0.1698 0.2050 0.2460 0.2930 0.3456 0.4032 0.4650 0.5298 0.5963 0.6632 0.7292 0.7926 0.8516 0.9039 0.9471 0.9788 0.9966 0.9991 0.9862 0.9589 0.9192 0.8695 0.8125 0.7503 0.6850 0.6182 0.5514 0.4859 0.4230 0.3639 0.3096 0.2608 0.2178 0.1807 0.1491 0.1226 0.1005 0.0823 0.0673 0.0549 0.0448 0.0366 0.0298 0.0243 0.0198 0.0162 0.0132 0.0107 0.0088 0.0071 0.0058 0.0047 0.0039 0.0032 0.0026 0.0021 0.0017 0.0014 0.0011 0.0009 0.0008 0.0006 0.0005 0.0004"/><feFuncB type="table" tableValues="0.1399 0.1698 0.2050 0.2460 0.2930 0.3456 0.4032 0.4650 0.5298 0.5963 0.6632 0.7292 0.7926 0.8516 0.9039 0.9471 0.9788 0.9966 0.9991 0.9862 0.9589 0.9192 0.8695 0.8125 0.7503 0.6850 0.6182 0.5514 0.4859 0.4230 0.3639 0.3096 0.2608 0.2178 0.1807 0.1491 0.1226 0.1005 0.0823 0.0673 0.0549 0.0448 0.0366 0.0298 0.0243 0.0198 0.0162 0.0132 0.0107 0.0088 0.0071 0.0058 0.0047 0.0039 0.0032 0.0026 0.0021 0.0017 0.0014 0.0011 0.0009 0.0008 0.0006 0.0005 0.0004"/><feFuncA type="linear" slope="0" intercept="1"/></feComponentTransfer>
<feComposite in="a" in2="n" operator="arithmetic" k1="1" k2="-0.5" k3="0" k4="0.5" result="p"/>
<feComposite in="SourceGraphic" in2="p" operator="arithmetic" k1="0" k2="1" k3="0.6231" k4="-0.3115" result="d"/>
<feComponentTransfer in="d"><feFuncR type="table" tableValues="0.2670 0.2726 0.2770 0.2803 0.2823 0.2832 0.2829 0.2814 0.2788 0.2752 0.2706 0.2651 0.2590 0.2522 0.2450 0.2374 0.2278 0.2201 0.2124 0.2049 0.1976 0.1906 0.1839 0.1774 0.1712 0.1651 0.1592 0.1534 0.1476 0.1419 0.1364 0.1312 0.1254 0.1218 0.1197 0.1197 0.1223 0.1281 0.1373 0.1501 0.1664 0.1858 0.2080 0.2328 0.2599 0.2889 0.3198 0.3524 0.3952 0.4310 0.4681 0.5063 0.5455 0.5857 0.6266 0.6681 0.7099 0.7519 0.7938 0.8353 0.8762 0.9162 0.9553 0.9932"/><feFuncG type="table" tableValues="0.0049 0.0256 0.0503 0.0734 0.0950 0.1157 0.1359 0.1558 0.1755 0.1949 0.2141 0.2330 0.2515 0.2698 0.2877 0.3052 0.3266 0.3433 0.3597 0.3757 0.3915 0.4071 0.4224 0.4375 0.4525 0.4674 0.4822 0.4970 0.5117 0.5265 0.5412 0.5559 0.5743 0.5891 0.6038 0.6185 0.6332 0.6477 0.6623 0.6766 0.6909 0.7049 0.7187 0.7322 0.7455 0.7584 0.7709 0.7830 0.7975 0.8085 0.8189 0.8288 0.8380 0.8467 0.8546 0.8620 0.8688 0.8750 0.8807 0.8860 0.8911 0.8961 0.9011 0.9062"/><feFuncB type="table" tableValues="0.3294 0.3531 0.3757 0.3972 0.4173 0.4361 0.4534 0.4692 0.4834 0.4960 0.5071 0.5166 0.5247 0.5316 0.5373 0.5419 0.5465 0.5494 0.5517 0.5535 0.5550 0.5561 0.5569 0.5576 0.5580 0.5581 0.5581 0.5577 0.5570 0.5560 0.5545 0.5525 0.5491 0.5456 0.5414 0.5363 0.5304 0.5235 0.5156 0.5066 0.4965 0.4853 0.4729 0.4593 0.4445 0.4284 0.4112 0.3926 0.3678 0.3465 0.3240 0.3004 0.2756 0.2499 0.2234 0.1963 0.1693 0.1432 0.1200 0.1026 0.0953 0.1007 0.1181 0.1439"/><feFuncA type="linear" slope="0" intercept="1"/></feComponentTransfer>
<feConvolveMatrix order="3" kernelMatrix="1 2 1 2 12 2 1 2 1" edgeMode="duplicate"/>
</filter><radialGradient id="g2_0"><stop offset="0.000" stop-color="rgb(182,182,182)"/><stop offset="0.068" stop-color="rgb(174,174,174)"/><stop offset="0.136" stop-color="rgb(162,162,162)"/><stop offset="0.273" stop-color="rgb(144,144,144)"/><stop offset="0.409" stop-color="rgb(127,127,127)"/><stop offset="0.545" stop-color="rgb(109,109,109)"/><stop offset="0.682" stop-color="rgb(92,92,92)"/><stop offset="0.864" stop-color="rgb(80,80,80)"/><stop offset="1.000" stop-color="rgb(80,80,80)"/></radialGradient><radialGradient id="g2_1"><stop offset="0.000" stop-color="rgb(201,201,201)"/><stop offset="0.011" stop-color="rgb(201,201,201)"/><stop offset="0.033" stop-color="rgb(201,201,201)"/><stop offset="0.062" stop-color="rgb(200,200,200)"/><stop offset="0.099" stop-color="rgb(199,199,199)"/><stop offset="0.141" stop-color="rgb(197,197,197)"/><stop offset="0.189" stop-color="rgb(194,194,194)"/><stop offset="0.242" stop-color="rgb(190,190,190)"/><stop offset="0.299" stop-color="rgb(185,185,185)"/><stop offset="0.361" stop-color="rgb(177,177,177)"/><stop offset="0.428" stop-color="rgb(167,167,167)"/><stop offset="0.498" stop-color="rgb(155,155,155)"/><stop offset="0.573" stop-color="rgb(141,141,141)"/><stop offset="0.651" stop-color="rgb(123,123,123)"/><stop offset="0.733" stop-color="rgb(103,103,103)"/><stop offset="0.819" stop-color="rgb(84,84,84)"/><stop offset="0.908" stop-color="rgb(80,80,80)"/><stop offset="1.000" stop-color="rgb(80,80,80)"/></radialGradient><radialGradient id="g2_2"><stop offset="0.000" stop-color="rgb(236,236,236)"/><stop offset="0.071" stop-color="rgb(219,219,219)"/><stop offset="0.143" stop-color="rgb(185,185,185)"/><stop offset="0.214" stop-color="rgb(160,160,160)"/><stop offset="0.321" stop-color="rgb(141,141,141)"/><stop offset="0.464" stop-color="rgb(121,121,121)"/><stop offset="0.643" stop-color="rgb(102,102,102)"/><stop offset="0.857" stop-color="rgb(82,82,82)"/><stop offset="1.000" stop-color="rgb(80,80,80)"/></radialGradient><radialGradient id="g2_3"><stop offset="0.000" stop-color="rgb(168,168,168)"/><stop offset="0.011" stop-color="rgb(168,168,168)"/><stop offset="0.033" stop-color="rgb(168,168,168)"/><stop offset="0.062" stop-color="rgb(167,167,167)"/><stop offset="0.099" stop-color="rgb(166,166,166)"/><stop offset="0.141" stop-color="rgb(165,165,165)"/><stop offset="0.189" stop-color="rgb(162,162,162)"/><stop offset="0.242" stop-color="rgb(159,159,159)"/><stop offset="0.299" stop-color="rgb(154,154,154)"/><stop offset="0.361" stop-color="rgb(148,148,148)"/><stop offset="0.428" stop-color="rgb(140,140,140)"/><stop offset="0.498" stop-color="rgb(130,130,130)"/><stop offset="0.573" stop-color="rgb(118,118,118)"/><stop offset="0.651" stop-color="rgb(104,104,104)"/><stop offset="0.733" stop-color="rgb(90,90,90)"/><stop offset="0.819" stop-color="rgb(80,80,80)"/><stop offset="0.908" stop-color="rgb(80,80,80)"/><stop offset="1.000" stop-color="rgb(80,80,80)"/></radialGradient><radialGradient id="g2_4"><stop offset="0.000" stop-color="rgb(168,168,168)"/><stop offset="0.011" stop-color="rgb(168,168,168)"/><stop offset="0.033" stop-color="rgb(168,168,168)"/><stop offset="0.062" stop-color="rgb(167,167,167)"/><stop offset="0.099" stop-color="rgb(166,166,166)"/><stop offset="0.141" stop-color="rgb(165,165,165)"/><stop offset="0.189" stop-color="rgb(162,162,162)"/><stop offset="0.242" stop-color="rgb(159,159,159)"/><stop offset="0.299" stop-color="rgb(154,154,154)"/><stop offset="0.361" stop-color="rgb(148,148,148)"/><stop offset="0.428" stop-color="rgb(140,140,140)"/><stop offset="0.498" stop-color="rgb(130,130,130)"/><stop offset="0.573" stop-color="rgb(118,118,118)"/><stop offset="0.651" stop-color="rgb(104,104,104)"/><stop offset="0.733" stop-color="rgb(90,90,90)"/><stop offset="0.819" stop-color="rgb(80,80,80)"/><stop offset="0.908" stop-color="rgb(80,80,80)"/><stop offset="1.000" stop-color="rgb(80,80,80)"/></radialGradient><radialGradient id="g2_5"><stop offset="0.000" stop-color="rgb(139,139,139)"/><stop offset="0.011" stop-color="rgb(137,137,137)"/><stop offset="0.033" stop-color="rgb(135,135,135)"/><stop offset="0.062" stop-color="rgb(131,131,131)"/><stop offset="0.099" stop-color="rgb(127,127,127)"/><stop offset="0.141" stop-color="rgb(122,122,122)"/><stop offset="0.189" stop-color="rgb(116,116,116)"/><stop offset="0.242" stop-color="rgb(110,110,110)"/><stop offset="0.299" stop-color="rgb(104,104,104)"/><stop offset="0.361" stop-color="rgb(97,97,97)"/><stop offset="0.428" stop-color="rgb(91,91,91)"/><stop offset="0.498" stop-color="rgb(85,85,85)"/><stop offset="0.573" stop-color="rgb(80,80,80)"/><stop offset="0.651" stop-color="rgb(80,80,80)"/><stop offset="0.733" stop-color="rgb(80,80,80)"/><stop offset="0.819" stop-color="rgb(80,80,80)"/><stop offset="0.908" stop-color="rgb(80,80,80)"/><stop offset="1.000" stop-color="rgb(80,80,80)"/></radialGradient><radialGradient id="g2_6"><stop offset="0.000" stop-color="rgb(158,158,158)"/><stop offset="0.011" stop-color="rgb(158,158,158)"/><stop offset="0.033" stop-color="rgb(158,158,158)"/><stop offset="0.062" stop-color="rgb(158,158,158)"/><stop offset="0.099" stop-color="rgb(157,157,157)"/><stop offset="0.141" stop-color="rgb(155,155,155)"/><stop offset="0.189" stop-color="rgb(153,153,153)"/><stop offset="0.242" stop-color="rgb(150,150,150)"/><stop offset="0.299" stop-color="rgb(146,146,146)"/><stop offset="0.361" stop-color="rgb(140,140,140)"/><stop offset="0.428" stop-color="rgb(133,133,133)"/><stop offset="0.498" stop-color="rgb(124,124,124)"/><stop offset="0.573" stop-color="rgb(113,113,113)"/><stop offset="0.651" stop-color="rgb(101,101,101)"/><stop offset="0.733" stop-color="rgb(88,88,88)"/><stop offset="0.819" stop-color="rgb(80,80,80)"/><stop offset="0.908" stop-color="rgb(80,80,80)"/><stop offset="1.000" stop-color="rgb(80,80,80)"/></radialGradient><radialGradient id="g2_7"><stop offset="0.000" stop-color="rgb(148,148,148)"/><stop offset="0.011" stop-color="rgb(148,148,148)"/><stop offset="0.033" stop-color="rgb(148,148,148)"/><stop offset="0.062" stop-color="rgb(148,148,148)"/><stop offset="0.099" stop-color="rgb(147,147,147)"/><stop offset="0.141" stop-color="rgb(146,146,146)"/><stop offset="0.189" stop-color="rgb(143,143,143)"/><stop offset="0.242" stop-color="rgb(140,140,140)"/><stop offset="0.299" stop-color="rgb(136,136,136)"/><stop offset="0.361" stop-color="rgb(130,130,130)"/><stop offset="0.428" stop-color="rgb(123,123,123)"/><stop offset="0.498" stop-color="rgb(114,114,114)"/><stop offset="0.573" stop-color="rgb(104,104,104)"/><stop offset="0.651" stop-color="rgb(92,92,92)"/><stop offset="0.733" stop-color="rgb(82,82,82)"/><stop offset="0.819" stop-color="rgb(80,80,80)"/><stop offset="0.908" stop-color="rgb(80,80,80)"/><stop offset="1.000" stop-color="rgb(80,80,80)"/></radialGradient><radialGradient id="g2_8"><stop offset="0.000" stop-color="rgb(148,148,148)"/><stop offset="0.011" stop-color="rgb(148,148,148)"/><stop offset="0.033" stop-color="rgb(148,148,148)"/><stop offset="0.062" stop-color="rgb(148,148,148)"/><stop offset="0.099" stop-color="rgb(147,147,147)"/><stop offset="0.141" stop-color="rgb(146,146,146)"/><stop offset="0.189" stop-color="rgb(143,143,143)"/><stop offset="0.242" stop-color="rgb(140,140,140)"/><stop offset="0.299" stop-color="rgb(136,136,136)"/><stop offset="0.361" stop-color="rgb(130,130,130)"/><stop offset="0.428" stop-color="rgb(123,123,123)"/><stop offset="0.498" stop-color="rgb(114,114,114)"/><stop offset="0.573" stop-color="rgb(104,104,104)"/><stop offset="0.651" stop-color="rgb(92,92,92)"/><stop offset="0.733" stop-color="rgb(82,82,82)"/><stop offset="0.819" stop-color="rgb(80,80,80)"/><stop offset="0.908" stop-color="rgb(80,80,80)"/><stop offset="1.000" stop-color="rgb(80,80,80)"/></radialGradient><radialGradient id="g2_9"><stop offset="0.000" stop-color="rgb(139,139,139)"/><stop offset="0.011" stop-color="rgb(139,139,139)"/><stop offset="0.033" stop-color="rgb(138,138,138)"/><stop offset="0.062" stop-color="rgb(138,138,138)"/><stop offset="0.099" stop-color="rgb(137,137,137)"/><stop offset="0.141" stop-color="rgb(136,136,136)"/><stop offset="0.189" stop-color="rgb(134,134,134)"/><stop offset="0.242" stop-color="rgb(131,131,131)"/><stop offset="0.299" stop-color="rgb(127,127,127)"/><stop offset="0.361" stop-color="rgb(122,122,122)"/><stop offset="0.428" stop-color="rgb(116,116,116)"/><stop offset="0.498" stop-color="rgb(108,108,108)"/><stop offset="0.573" stop-color="rgb(99,99,99)"/><stop offset="0.651" stop-color="rgb(89,89,89)"/><stop offset="0.733" stop-color="rgb(80,80,80)"/><stop offset="0.819" stop-color="rgb(80,80,80)"/><stop offset="0.908" stop-color="rgb(80,80,80)"/><stop offset="1.000" stop-color="rgb(80,80,80)"/></radialGradient></defs><g filter="url(#f2)" style="isolation:isolate"><rect x="0" y="0" width="173.30" height="173.30" fill="rgb(80,80,80)"/><ellipse cx="86.70" cy="86.70" rx="22.00" ry="19.80" transform="rotate(0.0 86.70 86.70)" fill="url(#g2_0)" style="mix-blend-mode:lighten"/><ellipse cx="92.00" cy="92.30" rx="4.56" ry="4.56" transform="rotate(0.0 92.00 92.30)" fill="url(#g2_1)" style="mix-blend-mode:lighten"/><ellipse cx="108.60" cy="132.80" rx="14.00" ry="14.00" transform="rotate(0.0 108.60 132.80)" fill="url(#g2_2)" style="mix-blend-mode:lighten"/><ellipse cx="48.00" cy="59.50" rx="3.01" ry="3.01" transform="rotate(0.0 48.00 59.50)" fill="url(#g2_3)" style="mix-blend-mode:lighten"/><ellipse cx="128.00" cy="12.40" rx="3.01" ry="3.01" transform="rotate(0.0 128.00 12.40)" fill="url(#g2_4)" style="mix-blend-mode:lighten"/><ellipse cx="164.40" cy="131.80" rx="12.16" ry="12.16" transform="rotate(0.0 164.40 131.80)" fill="url(#g2_5)" style="mix-blend-mode:lighten"/><ellipse cx="152.00" cy="139.60" rx="3.58" ry="3.58" transform="rotate(0.0 152.00 139.60)" fill="url(#g2_6)" style="mix-blend-mode:lighten"/><ellipse cx="20.00" cy="124.00" rx="4.30" ry="4.30" transform="rotate(0.0 20.00 124.00)" fill="url(#g2_7)" style="mix-blend-mode:lighten"/><ellipse cx="34.00" cy="93.00" rx="2.87" ry="2.87" transform="rotate(0.0 34.00 93.00)" fill="url(#g2_8)" style="mix-blend-mode:lighten"/><ellipse cx="57.40" cy="139.60" rx="3.41" ry="3.41" transform="rotate(0.0 57.40 139.60)" fill="url(#g2_9)" style="mix-blend-mode:lighten"/></g></svg>
<div class="axclip" style="left:43.20px;top:257.85px;width:173.30px;height:172.75px"><div class="ann" style="left:1.80px;top:158.30px">arcsinh(100x image)</div><div class="kpc" style="left:104.85px;top:135.80px">3 kpc</div><div class="bar" style="left:152.60px;top:153.50px;width:4.50px"></div></div>
<div class="ytl" style="left:-12.30px;top:423.90px">0</div>
<div class="ytl" style="left:-12.30px;top:395.11px">50</div>
<div class="ytl" style="left:-12.30px;top:366.32px">100</div>
<div class="ytl" style="left:-12.30px;top:337.53px">150</div>
<div class="ytl" style="left:-12.30px;top:308.73px">200</div>
<div class="ytl" style="left:-12.30px;top:279.94px">250</div>
<div class="xtl" style="left:13.20px;top:433.60px">0</div>
<div class="xtl" style="left:70.97px;top:433.60px">100</div>
<div class="xtl" style="left:128.73px;top:433.60px">200</div>
<div class="xl" style="left:43.20px;top:448.90px;width:173.30px">x (pixel)</div>
<div class="yl" style="left:6.20px;top:344.23px">y (pixel)</div>
<div class="cb" style="left:230.30px;top:257.85px;width:8.60px;height:172.75px;background:linear-gradient(to top,#440154 0.0%,#471365 5.0%,#482475 10.0%,#463480 15.0%,#414487 20.0%,#3b528b 25.0%,#355f8d 30.0%,#2f6c8e 35.0%,#2a788e 40.0%,#25848e 45.0%,#21918c 50.0%,#1e9c89 55.0%,#22a884 60.0%,#2fb47c 65.0%,#44bf70 70.0%,#5ec962 75.0%,#7ad151 80.0%,#9bd93c 85.0%,#bddf26 90.0%,#dfe318 95.0%,#fde725 100.0%)"></div>
<div class="ctl" style="left:244.40px;top:409.74px">−2.5</div>
<div class="ctl" style="left:244.40px;top:376.72px">0.0</div>
<div class="ctl" style="left:244.40px;top:343.70px">2.5</div>
<div class="ctl" style="left:244.40px;top:310.69px">5.0</div>
<div class="ctl" style="left:244.40px;top:277.67px">7.5</div>
<div class="title" style="left:334.30px;top:236.65px;width:173.30px">BCG no.35</div>
<svg class="im" style="left:334.30px;top:257.85px" width="173.30" height="172.75" viewBox="0 0 173.30 173.30" preserveAspectRatio="none"><defs><filter id="f3" x="0" y="0" width="173.30" height="173.30" filterUnits="userSpaceOnUse" color-interpolation-filters="sRGB">
<feTurbulence type="fractalNoise" baseFrequency="0.8" numOctaves="2" seed="24" result="t"/>
<feColorMatrix in="t" type="matrix" values="1 0 0 0 0  1 0 0 0 0  1 0 0 0 0  0 0 0 0 1" result="n0"/>
<feComponentTransfer in="n0" result="n"><feFuncR type="table" tableValues="0.0000 0.0046 0.0094 0.0144 0.0195 0.0248 0.0304 0.0361 0.0420 0.0483 0.0548 0.0615 0.0687 0.0761 0.0840 0.0923 0.1011 0.1105 0.1205 0.1313 0.1428 0.1554 0.1691 0.1841 0.2009 0.2197 0.2412 0.2661 0.2957 0.3316 0.3765 0.4331 0.5000 0.5669 0.6235 0.6684 0.7043 0.7339 0.7588 0.7803 0.7991 0.8159 0.8309 0.8446 0.8572 0.8687 0.8795 0.8895 0.8989 0.9077 0.9160 0.9239 0.9313 0.9385 0.9452 0.9517 0.9580 0.9639 0.9696 0.9752 0.9805 0.9856 0.9906 0.9954 1.0000"/><feFuncG type="table" tableValues="0.0000 0.0046 0.0094 0.0144 0.0195 0.0248 0.0304 0.0361 0.0420 0.0483 0.0548 0.0615 0.0687 0.0761 0.0840 0.0923 0.1011 0.1105 0.1205 0.1313 0.1428 0.1554 0.1691 0.1841 0.2009 0.2197 0.2412 0.2661 0.2957 0.3316 0.3765 0.4331 0.5000 0.5669 0.6235 0.6684 0.7043 0.7339 0.7588 0.7803 0.7991 0.8159 0.8309 0.8446 0.8572 0.8687 0.8795 0.8895 0.8989 0.9077 0.9160 0.9239 0.9313 0.9385 0.9452 0.9517 0.9580 0.9639 0.9696 0.9752 0.9805 0.9856 0.9906 0.9954 1.0000"/><feFuncB type="table" tableValues="0.0000 0.0046 0.0094 0.0144 0.0195 0.0248 0.0304 0.0361 0.0420 0.0483 0.0548 0.0615 0.0687 0.0761 0.0840 0.0923 0.1011 0.1105 0.1205 0.1313 0.1428 0.1554 0.1691 0.1841 0.2009 0.2197 0.2412 0.2661 0.2957 0.3316 0.3765 0.4331 0.5000 0.5669 0.6235 0.6684 0.7043 0.7339 0.7588 0.7803 0.7991 0.8159 0.8309 0.8446 0.8572 0.8687 0.8795 0.8895 0.8989 0.9077 0.9160 0.9239 0.9313 0.9385 0.9452 0.9517 0.9580 0.9639 0.9696 0.9752 0.9805 0.9856 0.9906 0.9954 1.0000"/></feComponentTransfer>
<feComponentTransfer in="SourceGraphic" result="a"><feFuncR type="table" tableValues="0.6346 0.6691 0.7034 0.7373 0.7704 0.8025 0.8332 0.8624 0.8895 0.9144 0.9367 0.9560 0.9721 0.9847 0.9937 0.9988 0.9999 0.9971 0.9904 0.9799 0.9658 0.9484 0.9278 0.9044 0.8785 0.8505 0.8207 0.7893 0.7568 0.7233 0.6892 0.6548 0.6203 0.5859 0.5519 0.5184 0.4857 0.4539 0.4232 0.3937 0.3654 0.3386 0.3131 0.2891 0.2666 0.2454 0.2257 0.2074 0.1904 0.1747 0.1601 0.1467 0.1344 0.1230 0.1125 0.1030 0.0942 0.0861 0.0787 0.0720 0.0658 0.0601 0.0549 0.0502 0.0459"/><feFuncG type="table" tableValues="0.6346 0.6691 0.7034 0.7373 0.7704 0.8025 0.8332 0.8624 0.8895 0.9144 0.9367 0.9560 0.9721 0.9847 0.9937 0.9988 0.9999 0.9971 0.9904 0.9799 0.9658 0.9484 0.9278 0.9044 0.8785 0.8505 0.8207 0.7893 0.7568 0.7233 0.6892 0.6548 0.6203 0.5859 0.5519 0.5184 0.4857 0.4539 0.4232 0.3937 0.3654 0.3386 0.3131 0.2891 0.2666 0.2454 0.2257 0.2074 0.1904 0.1747 0.1601 0.1467 0.1344 0.1230 0.1125 0.1030 0.0942 0.0861 0.0787 0.0720 0.0658 0.0601 0.0549 0.0502 0.0459"/><feFuncB type="table" tableValues="0.6346 0.6691 0.7034 0.7373 0.7704 0.8025 0.8332 0.8624 0.8895 0.9144 0.9367 0.9560 0.9721 0.9847 0.9937 0.9988 0.9999 0.9971 0.9904 0.9799 0.9658 0.9484 0.9278 0.9044 0.8785 0.8505 0.8207 0.7893 0.7568 0.7233 0.6892 0.6548 0.6203 0.5859 0.5519 0.5184 0.4857 0.4539 0.4232 0.3937 0.3654 0.3386 0.3131 0.2891 0.2666 0.2454 0.2257 0.2074 0.1904 0.1747 0.1601 0.1467 0.1344 0.1230 0.1125 0.1030 0.0942 0.0861 0.0787 0.0720 0.0658 0.0601 0.0549 0.0502 0.0459"/><feFuncA type="linear" slope="0" intercept="1"/></feComponentTransfer>
<feComposite in="a" in2="n" operator="arithmetic" k1="1" k2="-0.5" k3="0" k4="0.5" result="p"/>
<feComposite in="SourceGraphic" in2="p" operator="arithmetic" k1="0" k2="1" k3="0.5886" k4="-0.2943" result="d"/>
<feComponentTransfer in="d"><feFuncR type="table" tableValues="0.2670 0.2726 0.2770 0.2803 0.2823 0.2832 0.2829 0.2814 0.2788 0.2752 0.2706 0.2651 0.2590 0.2522 0.2450 0.2374 0.2278 0.2201 0.2124 0.2049 0.1976 0.1906 0.1839 0.1774 0.1712 0.1651 0.1592 0.1534 0.1476 0.1419 0.1364 0.1312 0.1254 0.1218 0.1197 0.1197 0.1223 0.1281 0.1373 0.1501 0.1664 0.1858 0.2080 0.2328 0.2599 0.2889 0.3198 0.3524 0.3952 0.4310 0.4681 0.5063 0.5455 0.5857 0.6266 0.6681 0.7099 0.7519 0.7938 0.8353 0.8762 0.9162 0.9553 0.9932"/><feFuncG type="table" tableValues="0.0049 0.0256 0.0503 0.0734 0.0950 0.1157 0.1359 0.1558 0.1755 0.1949 0.2141 0.2330 0.2515 0.2698 0.2877 0.3052 0.3266 0.3433 0.3597 0.3757 0.3915 0.4071 0.4224 0.4375 0.4525 0.4674 0.4822 0.4970 0.5117 0.5265 0.5412 0.5559 0.5743 0.5891 0.6038 0.6185 0.6332 0.6477 0.6623 0.6766 0.6909 0.7049 0.7187 0.7322 0.7455 0.7584 0.7709 0.7830 0.7975 0.8085 0.8189 0.8288 0.8380 0.8467 0.8546 0.8620 0.8688 0.8750 0.8807 0.8860 0.8911 0.8961 0.9011 0.9062"/><feFuncB type="table" tableValues="0.3294 0.3531 0.3757 0.3972 0.4173 0.4361 0.4534 0.4692 0.4834 0.4960 0.5071 0.5166 0.5247 0.5316 0.5373 0.5419 0.5465 0.5494 0.5517 0.5535 0.5550 0.5561 0.5569 0.5576 0.5580 0.5581 0.5581 0.5577 0.5570 0.5560 0.5545 0.5525 0.5491 0.5456 0.5414 0.5363 0.5304 0.5235 0.5156 0.5066 0.4965 0.4853 0.4729 0.4593 0.4445 0.4284 0.4112 0.3926 0.3678 0.3465 0.3240 0.3004 0.2756 0.2499 0.2234 0.1963 0.1693 0.1432 0.1200 0.1026 0.0953 0.1007 0.1181 0.1439"/><feFuncA type="linear" slope="0" intercept="1"/></feComponentTransfer>
<feConvolveMatrix order="3" kernelMatrix="1 2 1 2 12 2 1 2 1" edgeMode="duplicate"/>
</filter><radialGradient id="g3_0"><stop offset="0.000" stop-color="rgb(138,138,138)"/><stop offset="0.143" stop-color="rgb(133,133,133)"/><stop offset="0.286" stop-color="rgb(125,125,125)"/><stop offset="0.429" stop-color="rgb(114,114,114)"/><stop offset="0.571" stop-color="rgb(100,100,100)"/><stop offset="0.714" stop-color="rgb(87,87,87)"/><stop offset="0.857" stop-color="rgb(74,74,74)"/><stop offset="1.000" stop-color="rgb(72,72,72)"/></radialGradient><radialGradient id="g3_1"><stop offset="0.000" stop-color="rgb(241,241,241)"/><stop offset="0.011" stop-color="rgb(241,241,241)"/><stop offset="0.033" stop-color="rgb(241,241,241)"/><stop offset="0.062" stop-color="rgb(240,240,240)"/><stop offset="0.099" stop-color="rgb(239,239,239)"/><stop offset="0.141" stop-color="rgb(236,236,236)"/><stop offset="0.189" stop-color="rgb(232,232,232)"/><stop offset="0.242" stop-color="rgb(226,226,226)"/><stop offset="0.299" stop-color="rgb(219,219,219)"/><stop offset="0.361" stop-color="rgb(208,208,208)"/><stop offset="0.428" stop-color="rgb(195,195,195)"/><stop offset="0.498" stop-color="rgb(178,178,178)"/><stop offset="0.573" stop-color="rgb(158,158,158)"/><stop offset="0.651" stop-color="rgb(134,134,134)"/><stop offset="0.733" stop-color="rgb(106,106,106)"/><stop offset="0.819" stop-color="rgb(78,78,78)"/><stop offset="0.908" stop-color="rgb(72,72,72)"/><stop offset="1.000" stop-color="rgb(72,72,72)"/></radialGradient><radialGradient id="g3_2"><stop offset="0.000" stop-color="rgb(235,235,235)"/><stop offset="0.011" stop-color="rgb(235,235,235)"/><stop offset="0.033" stop-color="rgb(234,234,234)"/><stop offset="0.062" stop-color="rgb(234,234,234)"/><stop offset="0.099" stop-color="rgb(232,232,232)"/><stop offset="0.141" stop-color="rgb(230,230,230)"/><stop offset="0.189" stop-color="rgb(226,226,226)"/><stop offset="0.242" stop-color="rgb(221,221,221)"/><stop offset="0.299" stop-color="rgb(214,214,214)"/><stop offset="0.361" stop-color="rgb(205,205,205)"/><stop offset="0.428" stop-color="rgb(193,193,193)"/><stop offset="0.498" stop-color="rgb(178,178,178)"/><stop offset="0.573" stop-color="rgb(159,159,159)"/><stop offset="0.651" stop-color="rgb(138,138,138)"/><stop offset="0.733" stop-color="rgb(112,112,112)"/><stop offset="0.819" stop-color="rgb(85,85,85)"/><stop offset="0.908" stop-color="rgb(72,72,72)"/><stop offset="1.000" stop-color="rgb(72,72,72)"/></radialGradient><radialGradient id="g3_3"><stop offset="0.000" stop-color="rgb(237,237,237)"/><stop offset="0.011" stop-color="rgb(234,234,234)"/><stop offset="0.033" stop-color="rgb(229,229,229)"/><stop offset="0.062" stop-color="rgb(222,222,222)"/><stop offset="0.099" stop-color="rgb(213,213,213)"/><stop offset="0.141" stop-color="rgb(203,203,203)"/><stop offset="0.189" stop-color="rgb(191,191,191)"/><stop offset="0.242" stop-color="rgb(179,179,179)"/><stop offset="0.299" stop-color="rgb(165,165,165)"/><stop offset="0.361" stop-color="rgb(150,150,150)"/><stop offset="0.428" stop-color="rgb(134,134,134)"/><stop offset="0.498" stop-color="rgb(117,117,117)"/><stop offset="0.573" stop-color="rgb(100,100,100)"/><stop offset="0.651" stop-color="rgb(84,84,84)"/><stop offset="0.733" stop-color="rgb(73,73,73)"/><stop offset="0.819" stop-color="rgb(72,72,72)"/><stop offset="0.908" stop-color="rgb(72,72,72)"/><stop offset="1.000" stop-color="rgb(72,72,72)"/></radialGradient><radialGradient id="g3_4"><stop offset="0.000" stop-color="rgb(206,206,206)"/><stop offset="0.011" stop-color="rgb(206,206,206)"/><stop offset="0.033" stop-color="rgb(206,206,206)"/><stop offset="0.062" stop-color="rgb(205,205,205)"/><stop offset="0.099" stop-color="rgb(204,204,204)"/><stop offset="0.141" stop-color="rgb(202,202,202)"/><stop offset="0.189" stop-color="rgb(199,199,199)"/><stop offset="0.242" stop-color="rgb(194,194,194)"/><stop offset="0.299" stop-color="rgb(187,187,187)"/><stop offset="0.361" stop-color="rgb(179,179,179)"/><stop offset="0.428" stop-color="rgb(168,168,168)"/><stop offset="0.498" stop-color="rgb(154,154,154)"/><stop offset="0.573" stop-color="rgb(138,138,138)"/><stop offset="0.651" stop-color="rgb(118,118,118)"/><stop offset="0.733" stop-color="rgb(96,96,96)"/><stop offset="0.819" stop-color="rgb(75,75,75)"/><stop offset="0.908" stop-color="rgb(72,72,72)"/><stop offset="1.000" stop-color="rgb(72,72,72)"/></radialGradient><radialGradient id="g3_5"><stop offset="0.000" stop-color="rgb(208,208,208)"/><stop offset="0.011" stop-color="rgb(206,206,206)"/><stop offset="0.033" stop-color="rgb(201,201,201)"/><stop offset="0.062" stop-color="rgb(195,195,195)"/><stop offset="0.099" stop-color="rgb(188,188,188)"/><stop offset="0.141" stop-color="rgb(179,179,179)"/><stop offset="0.189" stop-color="rgb(169,169,169)"/><stop offset="0.242" stop-color="rgb(158,158,158)"/><stop offset="0.299" stop-color="rgb(146,146,146)"/><stop offset="0.361" stop-color="rgb(133,133,133)"/><stop offset="0.428" stop-color="rgb(119,119,119)"/><stop offset="0.498" stop-color="rgb(105,105,105)"/><stop offset="0.573" stop-color="rgb(91,91,91)"/><stop offset="0.651" stop-color="rgb(79,79,79)"/><stop offset="0.733" stop-color="rgb(72,72,72)"/><stop offset="0.819" stop-color="rgb(72,72,72)"/><stop offset="0.908" stop-color="rgb(72,72,72)"/><stop offset="1.000" stop-color="rgb(72,72,72)"/></radialGradient><radialGradient id="g3_6"><stop offset="0.000" stop-color="rgb(199,199,199)"/><stop offset="0.011" stop-color="rgb(199,199,199)"/><stop offset="0.033" stop-color="rgb(199,199,199)"/><stop offset="0.062" stop-color="rgb(199,199,199)"/><stop offset="0.099" stop-color="rgb(197,197,197)"/><stop offset="0.141" stop-color="rgb(195,195,195)"/><stop offset="0.189" stop-color="rgb(192,192,192)"/><stop offset="0.242" stop-color="rgb(187,187,187)"/><stop offset="0.299" stop-color="rgb(181,181,181)"/><stop offset="0.361" stop-color="rgb(172,172,172)"/><stop offset="0.428" stop-color="rgb(161,161,161)"/><stop offset="0.498" stop-color="rgb(148,148,148)"/><stop offset="0.573" stop-color="rgb(131,131,131)"/><stop offset="0.651" stop-color="rgb(112,112,112)"/><stop offset="0.733" stop-color="rgb(90,90,90)"/><stop offset="0.819" stop-color="rgb(72,72,72)"/><stop offset="0.908" stop-color="rgb(72,72,72)"/><stop offset="1.000" stop-color="rgb(72,72,72)"/></radialGradient><radialGradient id="g3_7"><stop offset="0.000" stop-color="rgb(199,199,199)"/><stop offset="0.011" stop-color="rgb(199,199,199)"/><stop offset="0.033" stop-color="rgb(199,199,199)"/><stop offset="0.062" stop-color="rgb(199,199,199)"/><stop offset="0.099" stop-color="rgb(197,197,197)"/><stop offset="0.141" stop-color="rgb(195,195,195)"/><stop offset="0.189" stop-color="rgb(192,192,192)"/><stop offset="0.242" stop-color="rgb(187,187,187)"/><stop offset="0.299" stop-color="rgb(181,181,181)"/><stop offset="0.361" stop-color="rgb(172,172,172)"/><stop offset="0.428" stop-color="rgb(161,161,161)"/><stop offset="0.498" stop-color="rgb(148,148,148)"/><stop offset="0.573" stop-color="rgb(131,131,131)"/><stop offset="0.651" stop-color="rgb(112,112,112)"/><stop offset="0.733" stop-color="rgb(90,90,90)"/><stop offset="0.819" stop-color="rgb(72,72,72)"/><stop offset="0.908" stop-color="rgb(72,72,72)"/><stop offset="1.000" stop-color="rgb(72,72,72)"/></radialGradient><radialGradient id="g3_8"><stop offset="0.000" stop-color="rgb(199,199,199)"/><stop offset="0.011" stop-color="rgb(199,199,199)"/><stop offset="0.033" stop-color="rgb(199,199,199)"/><stop offset="0.062" stop-color="rgb(199,199,199)"/><stop offset="0.099" stop-color="rgb(197,197,197)"/><stop offset="0.141" stop-color="rgb(195,195,195)"/><stop offset="0.189" stop-color="rgb(192,192,192)"/><stop offset="0.242" stop-color="rgb(187,187,187)"/><stop offset="0.299" stop-color="rgb(181,181,181)"/><stop offset="0.361" stop-color="rgb(172,172,172)"/><stop offset="0.428" stop-color="rgb(161,161,161)"/><stop offset="0.498" stop-color="rgb(148,148,148)"/><stop offset="0.573" stop-color="rgb(131,131,131)"/><stop offset="0.651" stop-color="rgb(112,112,112)"/><stop offset="0.733" stop-color="rgb(90,90,90)"/><stop offset="0.819" stop-color="rgb(72,72,72)"/><stop offset="0.908" stop-color="rgb(72,72,72)"/><stop offset="1.000" stop-color="rgb(72,72,72)"/></radialGradient><radialGradient id="g3_9"><stop offset="0.000" stop-color="rgb(184,184,184)"/><stop offset="0.011" stop-color="rgb(184,184,184)"/><stop offset="0.033" stop-color="rgb(184,184,184)"/><stop offset="0.062" stop-color="rgb(183,183,183)"/><stop offset="0.099" stop-color="rgb(182,182,182)"/><stop offset="0.141" stop-color="rgb(180,180,180)"/><stop offset="0.189" stop-color="rgb(177,177,177)"/><stop offset="0.242" stop-color="rgb(173,173,173)"/><stop offset="0.299" stop-color="rgb(167,167,167)"/><stop offset="0.361" stop-color="rgb(159,159,159)"/><stop offset="0.428" stop-color="rgb(149,149,149)"/><stop offset="0.498" stop-color="rgb(137,137,137)"/><stop offset="0.573" stop-color="rgb(122,122,122)"/><stop offset="0.651" stop-color="rgb(105,105,105)"/><stop offset="0.733" stop-color="rgb(86,86,86)"/><stop offset="0.819" stop-color="rgb(72,72,72)"/><stop offset="0.908" stop-color="rgb(72,72,72)"/><stop offset="1.000" stop-color="rgb(72,72,72)"/></radialGradient><radialGradient id="g3_10"><stop offset="0.000" stop-color="rgb(213,213,213)"/><stop offset="0.011" stop-color="rgb(213,213,213)"/><stop offset="0.033" stop-color="rgb(212,212,212)"/><stop offset="0.062" stop-color="rgb(212,212,212)"/><stop offset="0.099" stop-color="rgb(211,211,211)"/><stop offset="0.141" stop-color="rgb(208,208,208)"/><stop offset="0.189" stop-color="rgb(205,205,205)"/><stop offset="0.242" stop-color="rgb(200,200,200)"/><stop offset="0.299" stop-color="rgb(194,194,194)"/><stop offset="0.361" stop-color="rgb(185,185,185)"/><stop offset="0.428" stop-color="rgb(175,175,175)"/><stop offset="0.498" stop-color="rgb(161,161,161)"/><stop offset="0.573" stop-color="rgb(144,144,144)"/><stop offset="0.651" stop-color="rgb(125,125,125)"/><stop offset="0.733" stop-color="rgb(102,102,102)"/><stop offset="0.819" stop-color="rgb(79,79,79)"/><stop offset="0.908" stop-color="rgb(72,72,72)"/><stop offset="1.000" stop-color="rgb(72,72,72)"/></radialGradient><radialGradient id="g3_11"><stop offset="0.000" stop-color="rgb(195,195,195)"/><stop offset="0.011" stop-color="rgb(195,195,195)"/><stop offset="0.033" stop-color="rgb(195,195,195)"/><stop offset="0.062" stop-color="rgb(194,194,194)"/><stop offset="0.099" stop-color="rgb(193,193,193)"/><stop offset="0.141" stop-color="rgb(191,191,191)"/><stop offset="0.189" stop-color="rgb(188,188,188)"/><stop offset="0.242" stop-color="rgb(184,184,184)"/><stop offset="0.299" stop-color="rgb(178,178,178)"/><stop offset="0.361" stop-color="rgb(170,170,170)"/><stop offset="0.428" stop-color="rgb(160,160,160)"/><stop offset="0.498" stop-color="rgb(148,148,148)"/><stop offset="0.573" stop-color="rgb(133,133,133)"/><stop offset="0.651" stop-color="rgb(115,115,115)"/><stop offset="0.733" stop-color="rgb(95,95,95)"/><stop offset="0.819" stop-color="rgb(76,76,76)"/><stop offset="0.908" stop-color="rgb(72,72,72)"/><stop offset="1.000" stop-color="rgb(72,72,72)"/></radialGradient><radialGradient id="g3_12"><stop offset="0.000" stop-color="rgb(195,195,195)"/><stop offset="0.011" stop-color="rgb(195,195,195)"/><stop offset="0.033" stop-color="rgb(195,195,195)"/><stop offset="0.062" stop-color="rgb(194,194,194)"/><stop offset="0.099" stop-color="rgb(193,193,193)"/><stop offset="0.141" stop-color="rgb(191,191,191)"/><stop offset="0.189" stop-color="rgb(188,188,188)"/><stop offset="0.242" stop-color="rgb(184,184,184)"/><stop offset="0.299" stop-color="rgb(178,178,178)"/><stop offset="0.361" stop-color="rgb(170,170,170)"/><stop offset="0.428" stop-color="rgb(160,160,160)"/><stop offset="0.498" stop-color="rgb(148,148,148)"/><stop offset="0.573" stop-color="rgb(133,133,133)"/><stop offset="0.651" stop-color="rgb(115,115,115)"/><stop offset="0.733" stop-color="rgb(95,95,95)"/><stop offset="0.819" stop-color="rgb(76,76,76)"/><stop offset="0.908" stop-color="rgb(72,72,72)"/><stop offset="1.000" stop-color="rgb(72,72,72)"/></radialGradient><radialGradient id="g3_13"><stop offset="0.000" stop-color="rgb(184,184,184)"/><stop offset="0.011" stop-color="rgb(184,184,184)"/><stop offset="0.033" stop-color="rgb(184,184,184)"/><stop offset="0.062" stop-color="rgb(183,183,183)"/><stop offset="0.099" stop-color="rgb(182,182,182)"/><stop offset="0.141" stop-color="rgb(180,180,180)"/><stop offset="0.189" stop-color="rgb(177,177,177)"/><stop offset="0.242" stop-color="rgb(173,173,173)"/><stop offset="0.299" stop-color="rgb(167,167,167)"/><stop offset="0.361" stop-color="rgb(159,159,159)"/><stop offset="0.428" stop-color="rgb(149,149,149)"/><stop offset="0.498" stop-color="rgb(137,137,137)"/><stop offset="0.573" stop-color="rgb(122,122,122)"/><stop offset="0.651" stop-color="rgb(105,105,105)"/><stop offset="0.733" stop-color="rgb(86,86,86)"/><stop offset="0.819" stop-color="rgb(72,72,72)"/><stop offset="0.908" stop-color="rgb(72,72,72)"/><stop offset="1.000" stop-color="rgb(72,72,72)"/></radialGradient><radialGradient id="g3_14"><stop offset="0.000" stop-color="rgb(169,169,169)"/><stop offset="0.011" stop-color="rgb(167,167,167)"/><stop offset="0.033" stop-color="rgb(163,163,163)"/><stop offset="0.062" stop-color="rgb(158,158,158)"/><stop offset="0.099" stop-color="rgb(152,152,152)"/><stop offset="0.141" stop-color="rgb(146,146,146)"/><stop offset="0.189" stop-color="rgb(138,138,138)"/><stop offset="0.242" stop-color="rgb(129,129,129)"/><stop offset="0.299" stop-color="rgb(120,120,120)"/><stop offset="0.361" stop-color="rgb(110,110,110)"/><stop offset="0.428" stop-color="rgb(100,100,100)"/><stop offset="0.498" stop-color="rgb(90,90,90)"/><stop offset="0.573" stop-color="rgb(80,80,80)"/><stop offset="0.651" stop-color="rgb(73,73,73)"/><stop offset="0.733" stop-color="rgb(72,72,72)"/><stop offset="0.819" stop-color="rgb(72,72,72)"/><stop offset="0.908" stop-color="rgb(72,72,72)"/><stop offset="1.000" stop-color="rgb(72,72,72)"/></radialGradient><radialGradient id="g3_15"><stop offset="0.000" stop-color="rgb(173,173,173)"/><stop offset="0.011" stop-color="rgb(173,173,173)"/><stop offset="0.033" stop-color="rgb(173,173,173)"/><stop offset="0.062" stop-color="rgb(172,172,172)"/><stop offset="0.099" stop-color="rgb(171,171,171)"/><stop offset="0.141" stop-color="rgb(170,170,170)"/><stop offset="0.189" stop-color="rgb(167,167,167)"/><stop offset="0.242" stop-color="rgb(163,163,163)"/><stop offset="0.299" stop-color="rgb(158,158,158)"/><stop offset="0.361" stop-color="rgb(151,151,151)"/><stop offset="0.428" stop-color="rgb(142,142,142)"/><stop offset="0.498" stop-color="rgb(131,131,131)"/><stop offset="0.573" stop-color="rgb(117,117,117)"/><stop offset="0.651" stop-color="rgb(101,101,101)"/><stop offset="0.733" stop-color="rgb(85,85,85)"/><stop offset="0.819" stop-color="rgb(72,72,72)"/><stop offset="0.908" stop-color="rgb(72,72,72)"/><stop offset="1.000" stop-color="rgb(72,72,72)"/></radialGradient><radialGradient id="g3_16"><stop offset="0.000" stop-color="rgb(195,195,195)"/><stop offset="0.011" stop-color="rgb(195,195,195)"/><stop offset="0.033" stop-color="rgb(195,195,195)"/><stop offset="0.062" stop-color="rgb(194,194,194)"/><stop offset="0.099" stop-color="rgb(193,193,193)"/><stop offset="0.141" stop-color="rgb(191,191,191)"/><stop offset="0.189" stop-color="rgb(188,188,188)"/><stop offset="0.242" stop-color="rgb(184,184,184)"/><stop offset="0.299" stop-color="rgb(178,178,178)"/><stop offset="0.361" stop-color="rgb(170,170,170)"/><stop offset="0.428" stop-color="rgb(160,160,160)"/><stop offset="0.498" stop-color="rgb(148,148,148)"/><stop offset="0.573" stop-color="rgb(133,133,133)"/><stop offset="0.651" stop-color="rgb(115,115,115)"/><stop offset="0.733" stop-color="rgb(95,95,95)"/><stop offset="0.819" stop-color="rgb(76,76,76)"/><stop offset="0.908" stop-color="rgb(72,72,72)"/><stop offset="1.000" stop-color="rgb(72,72,72)"/></radialGradient><radialGradient id="g3_17"><stop offset="0.000" stop-color="rgb(177,177,177)"/><stop offset="0.011" stop-color="rgb(175,175,175)"/><stop offset="0.033" stop-color="rgb(172,172,172)"/><stop offset="0.062" stop-color="rgb(167,167,167)"/><stop offset="0.099" stop-color="rgb(160,160,160)"/><stop offset="0.141" stop-color="rgb(153,153,153)"/><stop offset="0.189" stop-color="rgb(145,145,145)"/><stop offset="0.242" stop-color="rgb(136,136,136)"/><stop offset="0.299" stop-color="rgb(126,126,126)"/><stop offset="0.361" stop-color="rgb(116,116,116)"/><stop offset="0.428" stop-color="rgb(105,105,105)"/><stop offset="0.498" stop-color="rgb(94,94,94)"/><stop offset="0.573" stop-color="rgb(83,83,83)"/><stop offset="0.651" stop-color="rgb(75,75,75)"/><stop offset="0.733" stop-color="rgb(72,72,72)"/><stop offset="0.819" stop-color="rgb(72,72,72)"/><stop offset="0.908" stop-color="rgb(72,72,72)"/><stop offset="1.000" stop-color="rgb(72,72,72)"/></radialGradient><radialGradient id="g3_18"><stop offset="0.000" stop-color="rgb(184,184,184)"/><stop offset="0.011" stop-color="rgb(184,184,184)"/><stop offset="0.033" stop-color="rgb(184,184,184)"/><stop offset="0.062" stop-color="rgb(183,183,183)"/><stop offset="0.099" stop-color="rgb(182,182,182)"/><stop offset="0.141" stop-color="rgb(180,180,180)"/><stop offset="0.189" stop-color="rgb(177,177,177)"/><stop offset="0.242" stop-color="rgb(173,173,173)"/><stop offset="0.299" stop-color="rgb(167,167,167)"/><stop offset="0.361" stop-color="rgb(159,159,159)"/><stop offset="0.428" stop-color="rgb(149,149,149)"/><stop offset="0.498" stop-color="rgb(137,137,137)"/><stop offset="0.573" stop-color="rgb(122,122,122)"/><stop offset="0.651" stop-color="rgb(105,105,105)"/><stop offset="0.733" stop-color="rgb(86,86,86)"/><stop offset="0.819" stop-color="rgb(72,72,72)"/><stop offset="0.908" stop-color="rgb(72,72,72)"/><stop offset="1.000" stop-color="rgb(72,72,72)"/></radialGradient><radialGradient id="g3_19"><stop offset="0.000" stop-color="rgb(213,213,213)"/><stop offset="0.011" stop-color="rgb(213,213,213)"/><stop offset="0.033" stop-color="rgb(212,212,212)"/><stop offset="0.062" stop-color="rgb(212,212,212)"/><stop offset="0.099" stop-color="rgb(211,211,211)"/><stop offset="0.141" stop-color="rgb(208,208,208)"/><stop offset="0.189" stop-color="rgb(205,205,205)"/><stop offset="0.242" stop-color="rgb(200,200,200)"/><stop offset="0.299" stop-color="rgb(194,194,194)"/><stop offset="0.361" stop-color="rgb(185,185,185)"/><stop offset="0.428" stop-color="rgb(175,175,175)"/><stop offset="0.498" stop-color="rgb(161,161,161)"/><stop offset="0.573" stop-color="rgb(144,144,144)"/><stop offset="0.651" stop-color="rgb(125,125,125)"/><stop offset="0.733" stop-color="rgb(102,102,102)"/><stop offset="0.819" stop-color="rgb(79,79,79)"/><stop offset="0.908" stop-color="rgb(72,72,72)"/><stop offset="1.000" stop-color="rgb(72,72,72)"/></radialGradient><radialGradient id="g3_20"><stop offset="0.000" stop-color="rgb(208,208,208)"/><stop offset="0.011" stop-color="rgb(208,208,208)"/><stop offset="0.033" stop-color="rgb(208,208,208)"/><stop offset="0.062" stop-color="rgb(207,207,207)"/><stop offset="0.099" stop-color="rgb(206,206,206)"/><stop offset="0.141" stop-color="rgb(204,204,204)"/><stop offset="0.189" stop-color="rgb(201,201,201)"/><stop offset="0.242" stop-color="rgb(196,196,196)"/><stop offset="0.299" stop-color="rgb(190,190,190)"/><stop offset="0.361" stop-color="rgb(181,181,181)"/><stop offset="0.428" stop-color="rgb(170,170,170)"/><stop offset="0.498" stop-color="rgb(157,157,157)"/><stop offset="0.573" stop-color="rgb(140,140,140)"/><stop offset="0.651" stop-color="rgb(120,120,120)"/><stop offset="0.733" stop-color="rgb(98,98,98)"/><stop offset="0.819" stop-color="rgb(77,77,77)"/><stop offset="0.908" stop-color="rgb(72,72,72)"/><stop offset="1.000" stop-color="rgb(72,72,72)"/></radialGradient><radialGradient id="g3_21"><stop offset="0.000" stop-color="rgb(195,195,195)"/><stop offset="0.011" stop-color="rgb(195,195,195)"/><stop offset="0.033" stop-color="rgb(195,195,195)"/><stop offset="0.062" stop-color="rgb(194,194,194)"/><stop offset="0.099" stop-color="rgb(193,193,193)"/><stop offset="0.141" stop-color="rgb(191,191,191)"/><stop offset="0.189" stop-color="rgb(188,188,188)"/><stop offset="0.242" stop-color="rgb(184,184,184)"/><stop offset="0.299" stop-color="rgb(178,178,178)"/><stop offset="0.361" stop-color="rgb(170,170,170)"/><stop offset="0.428" stop-color="rgb(160,160,160)"/><stop offset="0.498" stop-color="rgb(148,148,148)"/><stop offset="0.573" stop-color="rgb(133,133,133)"/><stop offset="0.651" stop-color="rgb(115,115,115)"/><stop offset="0.733" stop-color="rgb(95,95,95)"/><stop offset="0.819" stop-color="rgb(76,76,76)"/><stop offset="0.908" stop-color="rgb(72,72,72)"/><stop offset="1.000" stop-color="rgb(72,72,72)"/></radialGradient><radialGradient id="g3_22"><stop offset="0.000" stop-color="rgb(213,213,213)"/><stop offset="0.011" stop-color="rgb(213,213,213)"/><stop offset="0.033" stop-color="rgb(212,212,212)"/><stop offset="0.062" stop-color="rgb(212,212,212)"/><stop offset="0.099" stop-color="rgb(211,211,211)"/><stop offset="0.141" stop-color="rgb(208,208,208)"/><stop offset="0.189" stop-color="rgb(205,205,205)"/><stop offset="0.242" stop-color="rgb(200,200,200)"/><stop offset="0.299" stop-color="rgb(194,194,194)"/><stop offset="0.361" stop-color="rgb(185,185,185)"/><stop offset="0.428" stop-color="rgb(175,175,175)"/><stop offset="0.498" stop-color="rgb(161,161,161)"/><stop offset="0.573" stop-color="rgb(144,144,144)"/><stop offset="0.651" stop-color="rgb(125,125,125)"/><stop offset="0.733" stop-color="rgb(102,102,102)"/><stop offset="0.819" stop-color="rgb(79,79,79)"/><stop offset="0.908" stop-color="rgb(72,72,72)"/><stop offset="1.000" stop-color="rgb(72,72,72)"/></radialGradient><radialGradient id="g3_23"><stop offset="0.000" stop-color="rgb(195,195,195)"/><stop offset="0.011" stop-color="rgb(195,195,195)"/><stop offset="0.033" stop-color="rgb(195,195,195)"/><stop offset="0.062" stop-color="rgb(194,194,194)"/><stop offset="0.099" stop-color="rgb(193,193,193)"/><stop offset="0.141" stop-color="rgb(191,191,191)"/><stop offset="0.189" stop-color="rgb(188,188,188)"/><stop offset="0.242" stop-color="rgb(184,184,184)"/><stop offset="0.299" stop-color="rgb(178,178,178)"/><stop offset="0.361" stop-color="rgb(170,170,170)"/><stop offset="0.428" stop-color="rgb(160,160,160)"/><stop offset="0.498" stop-color="rgb(148,148,148)"/><stop offset="0.573" stop-color="rgb(133,133,133)"/><stop offset="0.651" stop-color="rgb(115,115,115)"/><stop offset="0.733" stop-color="rgb(95,95,95)"/><stop offset="0.819" stop-color="rgb(76,76,76)"/><stop offset="0.908" stop-color="rgb(72,72,72)"/><stop offset="1.000" stop-color="rgb(72,72,72)"/></radialGradient><radialGradient id="g3_24"><stop offset="0.000" stop-color="rgb(221,221,221)"/><stop offset="0.011" stop-color="rgb(221,221,221)"/><stop offset="0.033" stop-color="rgb(221,221,221)"/><stop offset="0.062" stop-color="rgb(220,220,220)"/><stop offset="0.099" stop-color="rgb(219,219,219)"/><stop offset="0.141" stop-color="rgb(217,217,217)"/><stop offset="0.189" stop-color="rgb(213,213,213)"/><stop offset="0.242" stop-color="rgb(208,208,208)"/><stop offset="0.299" stop-color="rgb(201,201,201)"/><stop offset="0.361" stop-color="rgb(191,191,191)"/><stop offset="0.428" stop-color="rgb(179,179,179)"/><stop offset="0.498" stop-color="rgb(165,165,165)"/><stop offset="0.573" stop-color="rgb(146,146,146)"/><stop offset="0.651" stop-color="rgb(124,124,124)"/><stop offset="0.733" stop-color="rgb(99,99,99)"/><stop offset="0.819" stop-color="rgb(76,76,76)"/><stop offset="0.908" stop-color="rgb(72,72,72)"/><stop offset="1.000" stop-color="rgb(72,72,72)"/></radialGradient></defs><g filter="url(#f3)" style="isolation:isolate"><rect x="0" y="0" width="173.30" height="173.30" fill="rgb(72,72,72)"/><ellipse cx="88.00" cy="83.00" rx="70.00" ry="56.00" transform="rotate(90.0 88.00 83.00)" fill="url(#g3_0)" style="mix-blend-mode:lighten"/><ellipse cx="86.60" cy="86.60" rx="5.03" ry="5.03" transform="rotate(0.0 86.60 86.60)" fill="url(#g3_1)" style="mix-blend-mode:lighten"/><ellipse cx="80.60" cy="94.80" rx="4.79" ry="4.79" transform="rotate(0.0 80.60 94.80)" fill="url(#g3_2)" style="mix-blend-mode:lighten"/><ellipse cx="97.30" cy="66.20" rx="16.38" ry="9.83" transform="rotate(50.0 97.30 66.20)" fill="url(#g3_3)" style="mix-blend-mode:lighten"/><ellipse cx="98.70" cy="96.90" rx="3.11" ry="3.11" transform="rotate(0.0 98.70 96.90)" fill="url(#g3_4)" style="mix-blend-mode:lighten"/><ellipse cx="150.40" cy="95.50" rx="30.19" ry="8.15" transform="rotate(-20.0 150.40 95.50)" fill="url(#g3_5)" style="mix-blend-mode:lighten"/><ellipse cx="37.20" cy="19.20" rx="3.32" ry="3.32" transform="rotate(0.0 37.20 19.20)" fill="url(#g3_6)" style="mix-blend-mode:lighten"/><ellipse cx="104.50" cy="19.20" rx="3.32" ry="3.32" transform="rotate(0.0 104.50 19.20)" fill="url(#g3_7)" style="mix-blend-mode:lighten"/><ellipse cx="59.90" cy="31.00" rx="3.32" ry="3.32" transform="rotate(0.0 59.90 31.00)" fill="url(#g3_8)" style="mix-blend-mode:lighten"/><ellipse cx="15.50" cy="29.50" rx="2.96" ry="2.96" transform="rotate(0.0 15.50 29.50)" fill="url(#g3_9)" style="mix-blend-mode:lighten"/><ellipse cx="78.20" cy="52.40" rx="3.32" ry="3.32" transform="rotate(0.0 78.20 52.40)" fill="url(#g3_10)" style="mix-blend-mode:lighten"/><ellipse cx="56.40" cy="44.80" rx="3.16" ry="3.16" transform="rotate(0.0 56.40 44.80)" fill="url(#g3_11)" style="mix-blend-mode:lighten"/><ellipse cx="7.80" cy="52.70" rx="3.16" ry="3.16" transform="rotate(0.0 7.80 52.70)" fill="url(#g3_12)" style="mix-blend-mode:lighten"/><ellipse cx="114.80" cy="34.70" rx="2.96" ry="2.96" transform="rotate(0.0 114.80 34.70)" fill="url(#g3_13)" style="mix-blend-mode:lighten"/><ellipse cx="136.50" cy="43.40" rx="11.83" ry="11.83" transform="rotate(0.0 136.50 43.40)" fill="url(#g3_14)" style="mix-blend-mode:lighten"/><ellipse cx="125.60" cy="28.50" rx="2.82" ry="2.82" transform="rotate(0.0 125.60 28.50)" fill="url(#g3_15)" style="mix-blend-mode:lighten"/><ellipse cx="43.40" cy="90.00" rx="2.96" ry="2.96" transform="rotate(0.0 43.40 90.00)" fill="url(#g3_16)" style="mix-blend-mode:lighten"/><ellipse cx="46.50" cy="116.30" rx="11.64" ry="6.99" transform="rotate(-40.0 46.50 116.30)" fill="url(#g3_17)" style="mix-blend-mode:lighten"/><ellipse cx="121.00" cy="121.90" rx="4.34" ry="4.34" transform="rotate(0.0 121.00 121.90)" fill="url(#g3_18)" style="mix-blend-mode:lighten"/><ellipse cx="15.50" cy="135.90" rx="3.52" ry="3.52" transform="rotate(0.0 15.50 135.90)" fill="url(#g3_19)" style="mix-blend-mode:lighten"/><ellipse cx="93.70" cy="134.30" rx="3.52" ry="3.52" transform="rotate(0.0 93.70 134.30)" fill="url(#g3_20)" style="mix-blend-mode:lighten"/><ellipse cx="55.80" cy="150.40" rx="3.16" ry="3.16" transform="rotate(0.0 55.80 150.40)" fill="url(#g3_21)" style="mix-blend-mode:lighten"/><ellipse cx="64.50" cy="155.10" rx="3.52" ry="3.52" transform="rotate(0.0 64.50 155.10)" fill="url(#g3_22)" style="mix-blend-mode:lighten"/><ellipse cx="154.20" cy="156.60" rx="3.36" ry="3.36" transform="rotate(0.0 154.20 156.60)" fill="url(#g3_23)" style="mix-blend-mode:lighten"/><ellipse cx="147.30" cy="169.00" rx="3.70" ry="3.70" transform="rotate(0.0 147.30 169.00)" fill="url(#g3_24)" style="mix-blend-mode:lighten"/></g></svg>
<div class="axclip" style="left:334.30px;top:257.85px;width:173.30px;height:172.75px"><div class="ann" style="left:1.80px;top:158.30px">arcsinh(100x image)</div><div class="kpc" style="left:103.95px;top:135.80px">3 kpc</div><div class="bar" style="left:151.20px;top:153.50px;width:5.50px"></div></div>
<div class="ytl" style="left:278.80px;top:423.90px">0</div>
<div class="ytl" style="left:278.80px;top:395.11px">50</div>
<div class="ytl" style="left:278.80px;top:366.32px">100</div>
<div class="ytl" style="left:278.80px;top:337.53px">150</div>
<div class="ytl" style="left:278.80px;top:308.73px">200</div>
<div class="ytl" style="left:278.80px;top:279.94px">250</div>
<div class="xtl" style="left:304.30px;top:433.60px">0</div>
<div class="xtl" style="left:362.07px;top:433.60px">100</div>
<div class="xtl" style="left:419.83px;top:433.60px">200</div>
<div class="xl" style="left:334.30px;top:448.90px;width:173.30px">x (pixel)</div>
<div class="yl" style="left:297.30px;top:344.23px">y (pixel)</div>
<div class="cb" style="left:521.40px;top:257.85px;width:8.60px;height:172.75px;background:linear-gradient(to top,#440154 0.0%,#471365 5.0%,#482475 10.0%,#463480 15.0%,#414487 20.0%,#3b528b 25.0%,#355f8d 30.0%,#2f6c8e 35.0%,#2a788e 40.0%,#25848e 45.0%,#21918c 50.0%,#1e9c89 55.0%,#22a884 60.0%,#2fb47c 65.0%,#44bf70 70.0%,#5ec962 75.0%,#7ad151 80.0%,#9bd93c 85.0%,#bddf26 90.0%,#dfe318 95.0%,#fde725 100.0%)"></div>
<div class="ctl" style="left:535.50px;top:411.58px">−2</div>
<div class="ctl" style="left:535.50px;top:381.77px">0</div>
<div class="ctl" style="left:535.50px;top:351.96px">2</div>
<div class="ctl" style="left:535.50px;top:322.15px">4</div>
<div class="ctl" style="left:535.50px;top:292.34px">6</div>
<div class="ctl" style="left:535.50px;top:262.53px">8</div>
<div class="title" style="left:43.20px;top:476.65px;width:173.30px">BCG no.37</div>
<svg class="im" style="left:43.20px;top:497.85px" width="173.30" height="172.75" viewBox="0 0 173.30 173.30" preserveAspectRatio="none"><defs><filter id="f4" x="0" y="0" width="173.30" height="173.30" filterUnits="userSpaceOnUse" color-interpolation-filters="sRGB">
<feTurbulence type="fractalNoise" baseFrequency="0.8" numOctaves="2" seed="31" result="t"/>
<feColorMatrix in="t" type="matrix" values="1 0 0 0 0  1 0 0 0 0  1 0 0 0 0  0 0 0 0 1" result="n0"/>
<feComponentTransfer in="n0" result="n"><feFuncR type="table" tableValues="0.0000 0.0058 0.0118 0.0179 0.0243 0.0309 0.0378 0.0449 0.0523 0.0600 0.0680 0.0764 0.0851 0.0944 0.1040 0.1143 0.1250 0.1365 0.1487 0.1617 0.1756 0.1906 0.2068 0.2245 0.2439 0.2652 0.2889 0.3155 0.3452 0.3787 0.4161 0.4570 0.5000 0.5430 0.5839 0.6213 0.6548 0.6845 0.7111 0.7348 0.7561 0.7755 0.7932 0.8094 0.8244 0.8383 0.8513 0.8635 0.8750 0.8857 0.8960 0.9056 0.9149 0.9236 0.9320 0.9400 0.9477 0.9551 0.9622 0.9691 0.9757 0.9821 0.9882 0.9942 1.0000"/><feFuncG type="table" tableValues="0.0000 0.0058 0.0118 0.0179 0.0243 0.0309 0.0378 0.0449 0.0523 0.0600 0.0680 0.0764 0.0851 0.0944 0.1040 0.1143 0.1250 0.1365 0.1487 0.1617 0.1756 0.1906 0.2068 0.2245 0.2439 0.2652 0.2889 0.3155 0.3452 0.3787 0.4161 0.4570 0.5000 0.5430 0.5839 0.6213 0.6548 0.6845 0.7111 0.7348 0.7561 0.7755 0.7932 0.8094 0.8244 0.8383 0.8513 0.8635 0.8750 0.8857 0.8960 0.9056 0.9149 0.9236 0.9320 0.9400 0.9477 0.9551 0.9622 0.9691 0.9757 0.9821 0.9882 0.9942 1.0000"/><feFuncB type="table" tableValues="0.0000 0.0058 0.0118 0.0179 0.0243 0.0309 0.0378 0.0449 0.0523 0.0600 0.0680 0.0764 0.0851 0.0944 0.1040 0.1143 0.1250 0.1365 0.1487 0.1617 0.1756 0.1906 0.2068 0.2245 0.2439 0.2652 0.2889 0.3155 0.3452 0.3787 0.4161 0.4570 0.5000 0.5430 0.5839 0.6213 0.6548 0.6845 0.7111 0.7348 0.7561 0.7755 0.7932 0.8094 0.8244 0.8383 0.8513 0.8635 0.8750 0.8857 0.8960 0.9056 0.9149 0.9236 0.9320 0.9400 0.9477 0.9551 0.9622 0.9691 0.9757 0.9821 0.9882 0.9942 1.0000"/></feComponentTransfer>
<feComponentTransfer in="SourceGraphic" result="a"><feFuncR type="table" tableValues="0.3513 0.4136 0.4830 0.5585 0.6382 0.7190 0.7973 0.8686 0.9284 0.9721 0.9961 0.9982 0.9782 0.9381 0.8810 0.8115 0.7342 0.6535 0.5734 0.4970 0.4263 0.3626 0.3064 0.2577 0.2159 0.1804 0.1505 0.1253 0.1043 0.0867 0.0721 0.0599 0.0498 0.0413 0.0343 0.0285 0.0237 0.0197 0.0163 0.0136 0.0113 0.0093 0.0078 0.0064 0.0053 0.0044 0.0037 0.0031 0.0025 0.0021 0.0018 0.0015 0.0012 0.0010 0.0008 0.0007 0.0006 0.0005 0.0004 0.0003 0.0003 0.0002 0.0002 0.0002 0.0001"/><feFuncG type="table" tableValues="0.3513 0.4136 0.4830 0.5585 0.6382 0.7190 0.7973 0.8686 0.9284 0.9721 0.9961 0.9982 0.9782 0.9381 0.8810 0.8115 0.7342 0.6535 0.5734 0.4970 0.4263 0.3626 0.3064 0.2577 0.2159 0.1804 0.1505 0.1253 0.1043 0.0867 0.0721 0.0599 0.0498 0.0413 0.0343 0.0285 0.0237 0.0197 0.0163 0.0136 0.0113 0.0093 0.0078 0.0064 0.0053 0.0044 0.0037 0.0031 0.0025 0.0021 0.0018 0.0015 0.0012 0.0010 0.0008 0.0007 0.0006 0.0005 0.0004 0.0003 0.0003 0.0002 0.0002 0.0002 0.0001"/><feFuncB type="table" tableValues="0.3513 0.4136 0.4830 0.5585 0.6382 0.7190 0.7973 0.8686 0.9284 0.9721 0.9961 0.9982 0.9782 0.9381 0.8810 0.8115 0.7342 0.6535 0.5734 0.4970 0.4263 0.3626 0.3064 0.2577 0.2159 0.1804 0.1505 0.1253 0.1043 0.0867 0.0721 0.0599 0.0498 0.0413 0.0343 0.0285 0.0237 0.0197 0.0163 0.0136 0.0113 0.0093 0.0078 0.0064 0.0053 0.0044 0.0037 0.0031 0.0025 0.0021 0.0018 0.0015 0.0012 0.0010 0.0008 0.0007 0.0006 0.0005 0.0004 0.0003 0.0003 0.0002 0.0002 0.0002 0.0001"/><feFuncA type="linear" slope="0" intercept="1"/></feComponentTransfer>
<feComposite in="a" in2="n" operator="arithmetic" k1="1" k2="-0.5" k3="0" k4="0.5" result="p"/>
<feComposite in="SourceGraphic" in2="p" operator="arithmetic" k1="0" k2="1" k3="0.4573" k4="-0.2286" result="d"/>
<feComponentTransfer in="d"><feFuncR type="table" tableValues="0.2670 0.2726 0.2770 0.2803 0.2823 0.2832 0.2829 0.2814 0.2788 0.2752 0.2706 0.2651 0.2590 0.2522 0.2450 0.2374 0.2278 0.2201 0.2124 0.2049 0.1976 0.1906 0.1839 0.1774 0.1712 0.1651 0.1592 0.1534 0.1476 0.1419 0.1364 0.1312 0.1254 0.1218 0.1197 0.1197 0.1223 0.1281 0.1373 0.1501 0.1664 0.1858 0.2080 0.2328 0.2599 0.2889 0.3198 0.3524 0.3952 0.4310 0.4681 0.5063 0.5455 0.5857 0.6266 0.6681 0.7099 0.7519 0.7938 0.8353 0.8762 0.9162 0.9553 0.9932"/><feFuncG type="table" tableValues="0.0049 0.0256 0.0503 0.0734 0.0950 0.1157 0.1359 0.1558 0.1755 0.1949 0.2141 0.2330 0.2515 0.2698 0.2877 0.3052 0.3266 0.3433 0.3597 0.3757 0.3915 0.4071 0.4224 0.4375 0.4525 0.4674 0.4822 0.4970 0.5117 0.5265 0.5412 0.5559 0.5743 0.5891 0.6038 0.6185 0.6332 0.6477 0.6623 0.6766 0.6909 0.7049 0.7187 0.7322 0.7455 0.7584 0.7709 0.7830 0.7975 0.8085 0.8189 0.8288 0.8380 0.8467 0.8546 0.8620 0.8688 0.8750 0.8807 0.8860 0.8911 0.8961 0.9011 0.9062"/><feFuncB type="table" tableValues="0.3294 0.3531 0.3757 0.3972 0.4173 0.4361 0.4534 0.4692 0.4834 0.4960 0.5071 0.5166 0.5247 0.5316 0.5373 0.5419 0.5465 0.5494 0.5517 0.5535 0.5550 0.5561 0.5569 0.5576 0.5580 0.5581 0.5581 0.5577 0.5570 0.5560 0.5545 0.5525 0.5491 0.5456 0.5414 0.5363 0.5304 0.5235 0.5156 0.5066 0.4965 0.4853 0.4729 0.4593 0.4445 0.4284 0.4112 0.3926 0.3678 0.3465 0.3240 0.3004 0.2756 0.2499 0.2234 0.1963 0.1693 0.1432 0.1200 0.1026 0.0953 0.1007 0.1181 0.1439"/><feFuncA type="linear" slope="0" intercept="1"/></feComponentTransfer>
<feConvolveMatrix order="3" kernelMatrix="1 2 1 2 12 2 1 2 1" edgeMode="duplicate"/>
</filter><radialGradient id="g4_0"><stop offset="0.000" stop-color="rgb(220,220,220)"/><stop offset="0.059" stop-color="rgb(192,192,192)"/><stop offset="0.147" stop-color="rgb(175,175,175)"/><stop offset="0.294" stop-color="rgb(156,156,156)"/><stop offset="0.441" stop-color="rgb(134,134,134)"/><stop offset="0.588" stop-color="rgb(111,111,111)"/><stop offset="0.735" stop-color="rgb(85,85,85)"/><stop offset="0.882" stop-color="rgb(59,59,59)"/><stop offset="1.000" stop-color="rgb(42,42,42)"/></radialGradient><radialGradient id="g4_1"><stop offset="0.000" stop-color="rgb(134,134,134)"/><stop offset="0.250" stop-color="rgb(119,119,119)"/><stop offset="0.469" stop-color="rgb(98,98,98)"/><stop offset="0.688" stop-color="rgb(74,74,74)"/><stop offset="0.875" stop-color="rgb(53,53,53)"/><stop offset="1.000" stop-color="rgb(42,42,42)"/></radialGradient><radialGradient id="g4_2"><stop offset="0.000" stop-color="rgb(242,242,242)"/><stop offset="0.067" stop-color="rgb(220,220,220)"/><stop offset="0.133" stop-color="rgb(177,177,177)"/><stop offset="0.200" stop-color="rgb(145,145,145)"/><stop offset="0.300" stop-color="rgb(122,122,122)"/><stop offset="0.433" stop-color="rgb(102,102,102)"/><stop offset="0.600" stop-color="rgb(81,81,81)"/><stop offset="0.800" stop-color="rgb(62,62,62)"/><stop offset="1.000" stop-color="rgb(42,42,42)"/></radialGradient><radialGradient id="g4_3"><stop offset="0.000" stop-color="rgb(171,171,171)"/><stop offset="0.011" stop-color="rgb(171,171,171)"/><stop offset="0.033" stop-color="rgb(171,171,171)"/><stop offset="0.062" stop-color="rgb(170,170,170)"/><stop offset="0.099" stop-color="rgb(169,169,169)"/><stop offset="0.141" stop-color="rgb(167,167,167)"/><stop offset="0.189" stop-color="rgb(164,164,164)"/><stop offset="0.242" stop-color="rgb(160,160,160)"/><stop offset="0.299" stop-color="rgb(154,154,154)"/><stop offset="0.361" stop-color="rgb(147,147,147)"/><stop offset="0.428" stop-color="rgb(137,137,137)"/><stop offset="0.498" stop-color="rgb(125,125,125)"/><stop offset="0.573" stop-color="rgb(111,111,111)"/><stop offset="0.651" stop-color="rgb(93,93,93)"/><stop offset="0.733" stop-color="rgb(73,73,73)"/><stop offset="0.819" stop-color="rgb(55,55,55)"/><stop offset="0.908" stop-color="rgb(46,46,46)"/><stop offset="1.000" stop-color="rgb(43,43,43)"/></radialGradient><radialGradient id="g4_4"><stop offset="0.000" stop-color="rgb(128,128,128)"/><stop offset="0.011" stop-color="rgb(126,126,126)"/><stop offset="0.033" stop-color="rgb(123,123,123)"/><stop offset="0.062" stop-color="rgb(119,119,119)"/><stop offset="0.099" stop-color="rgb(114,114,114)"/><stop offset="0.141" stop-color="rgb(108,108,108)"/><stop offset="0.189" stop-color="rgb(101,101,101)"/><stop offset="0.242" stop-color="rgb(93,93,93)"/><stop offset="0.299" stop-color="rgb(85,85,85)"/><stop offset="0.361" stop-color="rgb(77,77,77)"/><stop offset="0.428" stop-color="rgb(68,68,68)"/><stop offset="0.498" stop-color="rgb(61,61,61)"/><stop offset="0.573" stop-color="rgb(54,54,54)"/><stop offset="0.651" stop-color="rgb(50,50,50)"/><stop offset="0.733" stop-color="rgb(46,46,46)"/><stop offset="0.819" stop-color="rgb(45,45,45)"/><stop offset="0.908" stop-color="rgb(44,44,44)"/><stop offset="1.000" stop-color="rgb(43,43,43)"/></radialGradient><radialGradient id="g4_5"><stop offset="0.000" stop-color="rgb(171,171,171)"/><stop offset="0.011" stop-color="rgb(171,171,171)"/><stop offset="0.033" stop-color="rgb(171,171,171)"/><stop offset="0.062" stop-color="rgb(170,170,170)"/><stop offset="0.099" stop-color="rgb(169,169,169)"/><stop offset="0.141" stop-color="rgb(167,167,167)"/><stop offset="0.189" stop-color="rgb(164,164,164)"/><stop offset="0.242" stop-color="rgb(160,160,160)"/><stop offset="0.299" stop-color="rgb(154,154,154)"/><stop offset="0.361" stop-color="rgb(147,147,147)"/><stop offset="0.428" stop-color="rgb(137,137,137)"/><stop offset="0.498" stop-color="rgb(125,125,125)"/><stop offset="0.573" stop-color="rgb(111,111,111)"/><stop offset="0.651" stop-color="rgb(93,93,93)"/><stop offset="0.733" stop-color="rgb(73,73,73)"/><stop offset="0.819" stop-color="rgb(55,55,55)"/><stop offset="0.908" stop-color="rgb(46,46,46)"/><stop offset="1.000" stop-color="rgb(43,43,43)"/></radialGradient><radialGradient id="g4_6"><stop offset="0.000" stop-color="rgb(139,139,139)"/><stop offset="0.011" stop-color="rgb(137,137,137)"/><stop offset="0.033" stop-color="rgb(134,134,134)"/><stop offset="0.062" stop-color="rgb(129,129,129)"/><stop offset="0.099" stop-color="rgb(124,124,124)"/><stop offset="0.141" stop-color="rgb(117,117,117)"/><stop offset="0.189" stop-color="rgb(110,110,110)"/><stop offset="0.242" stop-color="rgb(102,102,102)"/><stop offset="0.299" stop-color="rgb(94,94,94)"/><stop offset="0.361" stop-color="rgb(85,85,85)"/><stop offset="0.428" stop-color="rgb(75,75,75)"/><stop offset="0.498" stop-color="rgb(66,66,66)"/><stop offset="0.573" stop-color="rgb(58,58,58)"/><stop offset="0.651" stop-color="rgb(52,52,52)"/><stop offset="0.733" stop-color="rgb(48,48,48)"/><stop offset="0.819" stop-color="rgb(45,45,45)"/><stop offset="0.908" stop-color="rgb(44,44,44)"/><stop offset="1.000" stop-color="rgb(43,43,43)"/></radialGradient><radialGradient id="g4_7"><stop offset="0.000" stop-color="rgb(128,128,128)"/><stop offset="0.011" stop-color="rgb(126,126,126)"/><stop offset="0.033" stop-color="rgb(123,123,123)"/><stop offset="0.062" stop-color="rgb(119,119,119)"/><stop offset="0.099" stop-color="rgb(114,114,114)"/><stop offset="0.141" stop-color="rgb(108,108,108)"/><stop offset="0.189" stop-color="rgb(101,101,101)"/><stop offset="0.242" stop-color="rgb(93,93,93)"/><stop offset="0.299" stop-color="rgb(85,85,85)"/><stop offset="0.361" stop-color="rgb(77,77,77)"/><stop offset="0.428" stop-color="rgb(68,68,68)"/><stop offset="0.498" stop-color="rgb(61,61,61)"/><stop offset="0.573" stop-color="rgb(54,54,54)"/><stop offset="0.651" stop-color="rgb(50,50,50)"/><stop offset="0.733" stop-color="rgb(46,46,46)"/><stop offset="0.819" stop-color="rgb(45,45,45)"/><stop offset="0.908" stop-color="rgb(44,44,44)"/><stop offset="1.000" stop-color="rgb(43,43,43)"/></radialGradient><radialGradient id="g4_8"><stop offset="0.000" stop-color="rgb(149,149,149)"/><stop offset="0.011" stop-color="rgb(149,149,149)"/><stop offset="0.033" stop-color="rgb(149,149,149)"/><stop offset="0.062" stop-color="rgb(149,149,149)"/><stop offset="0.099" stop-color="rgb(148,148,148)"/><stop offset="0.141" stop-color="rgb(146,146,146)"/><stop offset="0.189" stop-color="rgb(143,143,143)"/><stop offset="0.242" stop-color="rgb(140,140,140)"/><stop offset="0.299" stop-color="rgb(134,134,134)"/><stop offset="0.361" stop-color="rgb(128,128,128)"/><stop offset="0.428" stop-color="rgb(119,119,119)"/><stop offset="0.498" stop-color="rgb(108,108,108)"/><stop offset="0.573" stop-color="rgb(95,95,95)"/><stop offset="0.651" stop-color="rgb(80,80,80)"/><stop offset="0.733" stop-color="rgb(63,63,63)"/><stop offset="0.819" stop-color="rgb(51,51,51)"/><stop offset="0.908" stop-color="rgb(45,45,45)"/><stop offset="1.000" stop-color="rgb(43,43,43)"/></radialGradient><radialGradient id="g4_9"><stop offset="0.000" stop-color="rgb(139,139,139)"/><stop offset="0.011" stop-color="rgb(139,139,139)"/><stop offset="0.033" stop-color="rgb(138,138,138)"/><stop offset="0.062" stop-color="rgb(138,138,138)"/><stop offset="0.099" stop-color="rgb(137,137,137)"/><stop offset="0.141" stop-color="rgb(136,136,136)"/><stop offset="0.189" stop-color="rgb(133,133,133)"/><stop offset="0.242" stop-color="rgb(130,130,130)"/><stop offset="0.299" stop-color="rgb(125,125,125)"/><stop offset="0.361" stop-color="rgb(119,119,119)"/><stop offset="0.428" stop-color="rgb(111,111,111)"/><stop offset="0.498" stop-color="rgb(101,101,101)"/><stop offset="0.573" stop-color="rgb(89,89,89)"/><stop offset="0.651" stop-color="rgb(76,76,76)"/><stop offset="0.733" stop-color="rgb(61,61,61)"/><stop offset="0.819" stop-color="rgb(51,51,51)"/><stop offset="0.908" stop-color="rgb(45,45,45)"/><stop offset="1.000" stop-color="rgb(43,43,43)"/></radialGradient><radialGradient id="g4_10"><stop offset="0.000" stop-color="rgb(139,139,139)"/><stop offset="0.011" stop-color="rgb(137,137,137)"/><stop offset="0.033" stop-color="rgb(134,134,134)"/><stop offset="0.062" stop-color="rgb(129,129,129)"/><stop offset="0.099" stop-color="rgb(124,124,124)"/><stop offset="0.141" stop-color="rgb(117,117,117)"/><stop offset="0.189" stop-color="rgb(110,110,110)"/><stop offset="0.242" stop-color="rgb(102,102,102)"/><stop offset="0.299" stop-color="rgb(94,94,94)"/><stop offset="0.361" stop-color="rgb(85,85,85)"/><stop offset="0.428" stop-color="rgb(75,75,75)"/><stop offset="0.498" stop-color="rgb(66,66,66)"/><stop offset="0.573" stop-color="rgb(58,58,58)"/><stop offset="0.651" stop-color="rgb(52,52,52)"/><stop offset="0.733" stop-color="rgb(48,48,48)"/><stop offset="0.819" stop-color="rgb(45,45,45)"/><stop offset="0.908" stop-color="rgb(44,44,44)"/><stop offset="1.000" stop-color="rgb(43,43,43)"/></radialGradient><radialGradient id="g4_11"><stop offset="0.000" stop-color="rgb(139,139,139)"/><stop offset="0.011" stop-color="rgb(139,139,139)"/><stop offset="0.033" stop-color="rgb(138,138,138)"/><stop offset="0.062" stop-color="rgb(138,138,138)"/><stop offset="0.099" stop-color="rgb(137,137,137)"/><stop offset="0.141" stop-color="rgb(136,136,136)"/><stop offset="0.189" stop-color="rgb(133,133,133)"/><stop offset="0.242" stop-color="rgb(130,130,130)"/><stop offset="0.299" stop-color="rgb(125,125,125)"/><stop offset="0.361" stop-color="rgb(119,119,119)"/><stop offset="0.428" stop-color="rgb(111,111,111)"/><stop offset="0.498" stop-color="rgb(101,101,101)"/><stop offset="0.573" stop-color="rgb(89,89,89)"/><stop offset="0.651" stop-color="rgb(76,76,76)"/><stop offset="0.733" stop-color="rgb(61,61,61)"/><stop offset="0.819" stop-color="rgb(51,51,51)"/><stop offset="0.908" stop-color="rgb(45,45,45)"/><stop offset="1.000" stop-color="rgb(43,43,43)"/></radialGradient><radialGradient id="g4_12"><stop offset="0.000" stop-color="rgb(128,128,128)"/><stop offset="0.011" stop-color="rgb(128,128,128)"/><stop offset="0.033" stop-color="rgb(128,128,128)"/><stop offset="0.062" stop-color="rgb(127,127,127)"/><stop offset="0.099" stop-color="rgb(126,126,126)"/><stop offset="0.141" stop-color="rgb(125,125,125)"/><stop offset="0.189" stop-color="rgb(123,123,123)"/><stop offset="0.242" stop-color="rgb(119,119,119)"/><stop offset="0.299" stop-color="rgb(114,114,114)"/><stop offset="0.361" stop-color="rgb(108,108,108)"/><stop offset="0.428" stop-color="rgb(100,100,100)"/><stop offset="0.498" stop-color="rgb(91,91,91)"/><stop offset="0.573" stop-color="rgb(79,79,79)"/><stop offset="0.651" stop-color="rgb(66,66,66)"/><stop offset="0.733" stop-color="rgb(55,55,55)"/><stop offset="0.819" stop-color="rgb(47,47,47)"/><stop offset="0.908" stop-color="rgb(44,44,44)"/><stop offset="1.000" stop-color="rgb(43,43,43)"/></radialGradient><radialGradient id="g4_13"><stop offset="0.000" stop-color="rgb(109,109,109)"/><stop offset="0.011" stop-color="rgb(107,107,107)"/><stop offset="0.033" stop-color="rgb(105,105,105)"/><stop offset="0.062" stop-color="rgb(101,101,101)"/><stop offset="0.099" stop-color="rgb(96,96,96)"/><stop offset="0.141" stop-color="rgb(91,91,91)"/><stop offset="0.189" stop-color="rgb(86,86,86)"/><stop offset="0.242" stop-color="rgb(79,79,79)"/><stop offset="0.299" stop-color="rgb(73,73,73)"/><stop offset="0.361" stop-color="rgb(66,66,66)"/><stop offset="0.428" stop-color="rgb(60,60,60)"/><stop offset="0.498" stop-color="rgb(55,55,55)"/><stop offset="0.573" stop-color="rgb(51,51,51)"/><stop offset="0.651" stop-color="rgb(48,48,48)"/><stop offset="0.733" stop-color="rgb(46,46,46)"/><stop offset="0.819" stop-color="rgb(44,44,44)"/><stop offset="0.908" stop-color="rgb(43,43,43)"/><stop offset="1.000" stop-color="rgb(43,43,43)"/></radialGradient><radialGradient id="g4_14"><stop offset="0.000" stop-color="rgb(149,149,149)"/><stop offset="0.011" stop-color="rgb(148,148,148)"/><stop offset="0.033" stop-color="rgb(144,144,144)"/><stop offset="0.062" stop-color="rgb(139,139,139)"/><stop offset="0.099" stop-color="rgb(133,133,133)"/><stop offset="0.141" stop-color="rgb(126,126,126)"/><stop offset="0.189" stop-color="rgb(118,118,118)"/><stop offset="0.242" stop-color="rgb(109,109,109)"/><stop offset="0.299" stop-color="rgb(100,100,100)"/><stop offset="0.361" stop-color="rgb(89,89,89)"/><stop offset="0.428" stop-color="rgb(79,79,79)"/><stop offset="0.498" stop-color="rgb(68,68,68)"/><stop offset="0.573" stop-color="rgb(59,59,59)"/><stop offset="0.651" stop-color="rgb(52,52,52)"/><stop offset="0.733" stop-color="rgb(48,48,48)"/><stop offset="0.819" stop-color="rgb(45,45,45)"/><stop offset="0.908" stop-color="rgb(44,44,44)"/><stop offset="1.000" stop-color="rgb(43,43,43)"/></radialGradient><radialGradient id="g4_15"><stop offset="0.000" stop-color="rgb(139,139,139)"/><stop offset="0.011" stop-color="rgb(139,139,139)"/><stop offset="0.033" stop-color="rgb(138,138,138)"/><stop offset="0.062" stop-color="rgb(138,138,138)"/><stop offset="0.099" stop-color="rgb(137,137,137)"/><stop offset="0.141" stop-color="rgb(136,136,136)"/><stop offset="0.189" stop-color="rgb(133,133,133)"/><stop offset="0.242" stop-color="rgb(130,130,130)"/><stop offset="0.299" stop-color="rgb(125,125,125)"/><stop offset="0.361" stop-color="rgb(119,119,119)"/><stop offset="0.428" stop-color="rgb(111,111,111)"/><stop offset="0.498" stop-color="rgb(101,101,101)"/><stop offset="0.573" stop-color="rgb(89,89,89)"/><stop offset="0.651" stop-color="rgb(76,76,76)"/><stop offset="0.733" stop-color="rgb(61,61,61)"/><stop offset="0.819" stop-color="rgb(51,51,51)"/><stop offset="0.908" stop-color="rgb(45,45,45)"/><stop offset="1.000" stop-color="rgb(43,43,43)"/></radialGradient><radialGradient id="g4_16"><stop offset="0.000" stop-color="rgb(149,149,149)"/><stop offset="0.011" stop-color="rgb(149,149,149)"/><stop offset="0.033" stop-color="rgb(149,149,149)"/><stop offset="0.062" stop-color="rgb(149,149,149)"/><stop offset="0.099" stop-color="rgb(148,148,148)"/><stop offset="0.141" stop-color="rgb(146,146,146)"/><stop offset="0.189" stop-color="rgb(143,143,143)"/><stop offset="0.242" stop-color="rgb(140,140,140)"/><stop offset="0.299" stop-color="rgb(134,134,134)"/><stop offset="0.361" stop-color="rgb(128,128,128)"/><stop offset="0.428" stop-color="rgb(119,119,119)"/><stop offset="0.498" stop-color="rgb(108,108,108)"/><stop offset="0.573" stop-color="rgb(95,95,95)"/><stop offset="0.651" stop-color="rgb(80,80,80)"/><stop offset="0.733" stop-color="rgb(63,63,63)"/><stop offset="0.819" stop-color="rgb(51,51,51)"/><stop offset="0.908" stop-color="rgb(45,45,45)"/><stop offset="1.000" stop-color="rgb(43,43,43)"/></radialGradient><radialGradient id="g4_17"><stop offset="0.000" stop-color="rgb(128,128,128)"/><stop offset="0.011" stop-color="rgb(128,128,128)"/><stop offset="0.033" stop-color="rgb(128,128,128)"/><stop offset="0.062" stop-color="rgb(127,127,127)"/><stop offset="0.099" stop-color="rgb(126,126,126)"/><stop offset="0.141" stop-color="rgb(125,125,125)"/><stop offset="0.189" stop-color="rgb(123,123,123)"/><stop offset="0.242" stop-color="rgb(119,119,119)"/><stop offset="0.299" stop-color="rgb(114,114,114)"/><stop offset="0.361" stop-color="rgb(108,108,108)"/><stop offset="0.428" stop-color="rgb(100,100,100)"/><stop offset="0.498" stop-color="rgb(91,91,91)"/><stop offset="0.573" stop-color="rgb(79,79,79)"/><stop offset="0.651" stop-color="rgb(66,66,66)"/><stop offset="0.733" stop-color="rgb(55,55,55)"/><stop offset="0.819" stop-color="rgb(47,47,47)"/><stop offset="0.908" stop-color="rgb(44,44,44)"/><stop offset="1.000" stop-color="rgb(43,43,43)"/></radialGradient><radialGradient id="g4_18"><stop offset="0.000" stop-color="rgb(128,128,128)"/><stop offset="0.011" stop-color="rgb(128,128,128)"/><stop offset="0.033" stop-color="rgb(128,128,128)"/><stop offset="0.062" stop-color="rgb(127,127,127)"/><stop offset="0.099" stop-color="rgb(126,126,126)"/><stop offset="0.141" stop-color="rgb(125,125,125)"/><stop offset="0.189" stop-color="rgb(123,123,123)"/><stop offset="0.242" stop-color="rgb(119,119,119)"/><stop offset="0.299" stop-color="rgb(114,114,114)"/><stop offset="0.361" stop-color="rgb(108,108,108)"/><stop offset="0.428" stop-color="rgb(100,100,100)"/><stop offset="0.498" stop-color="rgb(91,91,91)"/><stop offset="0.573" stop-color="rgb(79,79,79)"/><stop offset="0.651" stop-color="rgb(66,66,66)"/><stop offset="0.733" stop-color="rgb(55,55,55)"/><stop offset="0.819" stop-color="rgb(47,47,47)"/><stop offset="0.908" stop-color="rgb(44,44,44)"/><stop offset="1.000" stop-color="rgb(43,43,43)"/></radialGradient></defs><g filter="url(#f4)" style="isolation:isolate"><rect x="0" y="0" width="173.30" height="173.30" fill="rgb(42,42,42)"/><ellipse cx="87.00" cy="86.50" rx="34.00" ry="6.12" transform="rotate(42.7 87.00 86.50)" fill="url(#g4_0)" style="mix-blend-mode:lighten"/><ellipse cx="87.00" cy="86.50" rx="32.00" ry="13.44" transform="rotate(42.7 87.00 86.50)" fill="url(#g4_1)" style="mix-blend-mode:lighten"/><ellipse cx="71.30" cy="130.90" rx="15.00" ry="15.00" transform="rotate(0.0 71.30 130.90)" fill="url(#g4_2)" style="mix-blend-mode:lighten"/><ellipse cx="41.90" cy="118.50" rx="3.95" ry="3.95" transform="rotate(0.0 41.90 118.50)" fill="url(#g4_3)" style="mix-blend-mode:lighten"/><ellipse cx="21.70" cy="124.70" rx="8.72" ry="8.72" transform="rotate(0.0 21.70 124.70)" fill="url(#g4_4)" style="mix-blend-mode:lighten"/><ellipse cx="14.00" cy="136.50" rx="3.95" ry="3.95" transform="rotate(0.0 14.00 136.50)" fill="url(#g4_5)" style="mix-blend-mode:lighten"/><ellipse cx="51.20" cy="23.30" rx="15.49" ry="6.97" transform="rotate(-20.0 51.20 23.30)" fill="url(#g4_6)" style="mix-blend-mode:lighten"/><ellipse cx="8.70" cy="28.50" rx="10.73" ry="10.73" transform="rotate(0.0 8.70 28.50)" fill="url(#g4_7)" style="mix-blend-mode:lighten"/><ellipse cx="90.00" cy="4.70" rx="4.51" ry="4.51" transform="rotate(0.0 90.00 4.70)" fill="url(#g4_8)" style="mix-blend-mode:lighten"/><ellipse cx="117.90" cy="7.80" rx="3.58" ry="3.58" transform="rotate(0.0 117.90 7.80)" fill="url(#g4_9)" style="mix-blend-mode:lighten"/><ellipse cx="124.00" cy="55.80" rx="14.08" ry="7.04" transform="rotate(-30.0 124.00 55.80)" fill="url(#g4_10)" style="mix-blend-mode:lighten"/><ellipse cx="109.50" cy="52.70" rx="2.87" ry="2.87" transform="rotate(0.0 109.50 52.70)" fill="url(#g4_11)" style="mix-blend-mode:lighten"/><ellipse cx="105.50" cy="37.20" rx="2.87" ry="2.87" transform="rotate(0.0 105.50 37.20)" fill="url(#g4_12)" style="mix-blend-mode:lighten"/><ellipse cx="173.00" cy="50.00" rx="34.75" ry="34.75" transform="rotate(0.0 173.00 50.00)" fill="url(#g4_13)" style="mix-blend-mode:lighten"/><ellipse cx="167.50" cy="139.00" rx="12.42" ry="12.42" transform="rotate(0.0 167.50 139.00)" fill="url(#g4_14)" style="mix-blend-mode:lighten"/><ellipse cx="158.20" cy="128.70" rx="3.58" ry="3.58" transform="rotate(0.0 158.20 128.70)" fill="url(#g4_15)" style="mix-blend-mode:lighten"/><ellipse cx="51.20" cy="153.50" rx="3.76" ry="3.76" transform="rotate(0.0 51.20 153.50)" fill="url(#g4_16)" style="mix-blend-mode:lighten"/><ellipse cx="68.20" cy="152.00" rx="3.58" ry="3.58" transform="rotate(0.0 68.20 152.00)" fill="url(#g4_17)" style="mix-blend-mode:lighten"/><ellipse cx="67.60" cy="58.30" rx="2.87" ry="2.87" transform="rotate(0.0 67.60 58.30)" fill="url(#g4_18)" style="mix-blend-mode:lighten"/></g></svg>
<div class="axclip" style="left:43.20px;top:497.85px;width:173.30px;height:172.75px"><div class="ann" style="left:1.80px;top:158.30px">arcsinh(100x image)</div><div class="kpc" style="left:104.75px;top:135.80px">3 kpc</div><div class="bar" style="left:152.60px;top:153.50px;width:4.30px"></div></div>
<div class="ytl" style="left:-12.30px;top:663.90px">0</div>
<div class="ytl" style="left:-12.30px;top:635.11px">50</div>
<div class="ytl" style="left:-12.30px;top:606.32px">100</div>
<div class="ytl" style="left:-12.30px;top:577.52px">150</div>
<div class="ytl" style="left:-12.30px;top:548.73px">200</div>
<div class="ytl" style="left:-12.30px;top:519.94px">250</div>
<div class="xtl" style="left:13.20px;top:673.60px">0</div>
<div class="xtl" style="left:70.97px;top:673.60px">100</div>
<div class="xtl" style="left:128.73px;top:673.60px">200</div>
<div class="xl" style="left:43.20px;top:688.90px;width:173.30px">x (pixel)</div>
<div class="yl" style="left:6.20px;top:584.23px">y (pixel)</div>
<div class="cb" style="left:230.30px;top:497.85px;width:8.60px;height:172.75px;background:linear-gradient(to top,#440154 0.0%,#471365 5.0%,#482475 10.0%,#463480 15.0%,#414487 20.0%,#3b528b 25.0%,#355f8d 30.0%,#2f6c8e 35.0%,#2a788e 40.0%,#25848e 45.0%,#21918c 50.0%,#1e9c89 55.0%,#22a884 60.0%,#2fb47c 65.0%,#44bf70 70.0%,#5ec962 75.0%,#7ad151 80.0%,#9bd93c 85.0%,#bddf26 90.0%,#dfe318 95.0%,#fde725 100.0%)"></div>
<div class="ctl" style="left:244.40px;top:635.80px">0</div>
<div class="ctl" style="left:244.40px;top:606.77px">2</div>
<div class="ctl" style="left:244.40px;top:577.73px">4</div>
<div class="ctl" style="left:244.40px;top:548.70px">6</div>
<div class="ctl" style="left:244.40px;top:519.67px">8</div>
<div class="title" style="left:334.30px;top:476.65px;width:173.30px">BCG no.58</div>
<svg class="im" style="left:334.30px;top:497.85px" width="173.30" height="172.75" viewBox="0 0 173.30 173.30" preserveAspectRatio="none"><defs><filter id="f5" x="0" y="0" width="173.30" height="173.30" filterUnits="userSpaceOnUse" color-interpolation-filters="sRGB">
<feTurbulence type="fractalNoise" baseFrequency="0.8" numOctaves="2" seed="38" result="t"/>
<feColorMatrix in="t" type="matrix" values="1 0 0 0 0  1 0 0 0 0  1 0 0 0 0  0 0 0 0 1" result="n0"/>
<feComponentTransfer in="n0" result="n"><feFuncR type="table" tableValues="0.0000 0.0042 0.0086 0.0131 0.0178 0.0227 0.0277 0.0330 0.0384 0.0441 0.0500 0.0562 0.0627 0.0696 0.0768 0.0844 0.0925 0.1011 0.1102 0.1201 0.1307 0.1423 0.1549 0.1688 0.1843 0.2018 0.2218 0.2453 0.2736 0.3088 0.3547 0.4175 0.5000 0.5825 0.6453 0.6912 0.7264 0.7547 0.7782 0.7982 0.8157 0.8312 0.8451 0.8577 0.8693 0.8799 0.8898 0.8989 0.9075 0.9156 0.9232 0.9304 0.9373 0.9438 0.9500 0.9559 0.9616 0.9670 0.9723 0.9773 0.9822 0.9869 0.9914 0.9958 1.0000"/><feFuncG type="table" tableValues="0.0000 0.0042 0.0086 0.0131 0.0178 0.0227 0.0277 0.0330 0.0384 0.0441 0.0500 0.0562 0.0627 0.0696 0.0768 0.0844 0.0925 0.1011 0.1102 0.1201 0.1307 0.1423 0.1549 0.1688 0.1843 0.2018 0.2218 0.2453 0.2736 0.3088 0.3547 0.4175 0.5000 0.5825 0.6453 0.6912 0.7264 0.7547 0.7782 0.7982 0.8157 0.8312 0.8451 0.8577 0.8693 0.8799 0.8898 0.8989 0.9075 0.9156 0.9232 0.9304 0.9373 0.9438 0.9500 0.9559 0.9616 0.9670 0.9723 0.9773 0.9822 0.9869 0.9914 0.9958 1.0000"/><feFuncB type="table" tableValues="0.0000 0.0042 0.0086 0.0131 0.0178 0.0227 0.0277 0.0330 0.0384 0.0441 0.0500 0.0562 0.0627 0.0696 0.0768 0.0844 0.0925 0.1011 0.1102 0.1201 0.1307 0.1423 0.1549 0.1688 0.1843 0.2018 0.2218 0.2453 0.2736 0.3088 0.3547 0.4175 0.5000 0.5825 0.6453 0.6912 0.7264 0.7547 0.7782 0.7982 0.8157 0.8312 0.8451 0.8577 0.8693 0.8799 0.8898 0.8989 0.9075 0.9156 0.9232 0.9304 0.9373 0.9438 0.9500 0.9559 0.9616 0.9670 0.9723 0.9773 0.9822 0.9869 0.9914 0.9958 1.0000"/></feComponentTransfer>
<feComponentTransfer in="SourceGraphic" result="a"><feFuncR type="table" tableValues="0.1715 0.2001 0.2328 0.2697 0.3108 0.3562 0.4054 0.4580 0.5133 0.5704 0.6286 0.6867 0.7438 0.7986 0.8498 0.8959 0.9353 0.9665 0.9881 0.9988 0.9983 0.9864 0.9638 0.9316 0.8915 0.8448 0.7932 0.7381 0.6809 0.6227 0.5646 0.5075 0.4525 0.4003 0.3514 0.3065 0.2657 0.2293 0.1970 0.1688 0.1442 0.1230 0.1047 0.0891 0.0757 0.0643 0.0546 0.0464 0.0394 0.0334 0.0284 0.0241 0.0204 0.0173 0.0147 0.0125 0.0106 0.0090 0.0076 0.0065 0.0055 0.0046 0.0039 0.0033 0.0028"/><feFuncG type="table" tableValues="0.1715 0.2001 0.2328 0.2697 0.3108 0.3562 0.4054 0.4580 0.5133 0.5704 0.6286 0.6867 0.7438 0.7986 0.8498 0.8959 0.9353 0.9665 0.9881 0.9988 0.9983 0.9864 0.9638 0.9316 0.8915 0.8448 0.7932 0.7381 0.6809 0.6227 0.5646 0.5075 0.4525 0.4003 0.3514 0.3065 0.2657 0.2293 0.1970 0.1688 0.1442 0.1230 0.1047 0.0891 0.0757 0.0643 0.0546 0.0464 0.0394 0.0334 0.0284 0.0241 0.0204 0.0173 0.0147 0.0125 0.0106 0.0090 0.0076 0.0065 0.0055 0.0046 0.0039 0.0033 0.0028"/><feFuncB type="table" tableValues="0.1715 0.2001 0.2328 0.2697 0.3108 0.3562 0.4054 0.4580 0.5133 0.5704 0.6286 0.6867 0.7438 0.7986 0.8498 0.8959 0.9353 0.9665 0.9881 0.9988 0.9983 0.9864 0.9638 0.9316 0.8915 0.8448 0.7932 0.7381 0.6809 0.6227 0.5646 0.5075 0.4525 0.4003 0.3514 0.3065 0.2657 0.2293 0.1970 0.1688 0.1442 0.1230 0.1047 0.0891 0.0757 0.0643 0.0546 0.0464 0.0394 0.0334 0.0284 0.0241 0.0204 0.0173 0.0147 0.0125 0.0106 0.0090 0.0076 0.0065 0.0055 0.0046 0.0039 0.0033 0.0028"/><feFuncA type="linear" slope="0" intercept="1"/></feComponentTransfer>
<feComposite in="a" in2="n" operator="arithmetic" k1="1" k2="-0.5" k3="0" k4="0.5" result="p"/>
<feComposite in="SourceGraphic" in2="p" operator="arithmetic" k1="0" k2="1" k3="0.7101" k4="-0.3550" result="d"/>
<feComponentTransfer in="d"><feFuncR type="table" tableValues="0.2670 0.2726 0.2770 0.2803 0.2823 0.2832 0.2829 0.2814 0.2788 0.2752 0.2706 0.2651 0.2590 0.2522 0.2450 0.2374 0.2278 0.2201 0.2124 0.2049 0.1976 0.1906 0.1839 0.1774 0.1712 0.1651 0.1592 0.1534 0.1476 0.1419 0.1364 0.1312 0.1254 0.1218 0.1197 0.1197 0.1223 0.1281 0.1373 0.1501 0.1664 0.1858 0.2080 0.2328 0.2599 0.2889 0.3198 0.3524 0.3952 0.4310 0.4681 0.5063 0.5455 0.5857 0.6266 0.6681 0.7099 0.7519 0.7938 0.8353 0.8762 0.9162 0.9553 0.9932"/><feFuncG type="table" tableValues="0.0049 0.0256 0.0503 0.0734 0.0950 0.1157 0.1359 0.1558 0.1755 0.1949 0.2141 0.2330 0.2515 0.2698 0.2877 0.3052 0.3266 0.3433 0.3597 0.3757 0.3915 0.4071 0.4224 0.4375 0.4525 0.4674 0.4822 0.4970 0.5117 0.5265 0.5412 0.5559 0.5743 0.5891 0.6038 0.6185 0.6332 0.6477 0.6623 0.6766 0.6909 0.7049 0.7187 0.7322 0.7455 0.7584 0.7709 0.7830 0.7975 0.8085 0.8189 0.8288 0.8380 0.8467 0.8546 0.8620 0.8688 0.8750 0.8807 0.8860 0.8911 0.8961 0.9011 0.9062"/><feFuncB type="table" tableValues="0.3294 0.3531 0.3757 0.3972 0.4173 0.4361 0.4534 0.4692 0.4834 0.4960 0.5071 0.5166 0.5247 0.5316 0.5373 0.5419 0.5465 0.5494 0.5517 0.5535 0.5550 0.5561 0.5569 0.5576 0.5580 0.5581 0.5581 0.5577 0.5570 0.5560 0.5545 0.5525 0.5491 0.5456 0.5414 0.5363 0.5304 0.5235 0.5156 0.5066 0.4965 0.4853 0.4729 0.4593 0.4445 0.4284 0.4112 0.3926 0.3678 0.3465 0.3240 0.3004 0.2756 0.2499 0.2234 0.1963 0.1693 0.1432 0.1200 0.1026 0.0953 0.1007 0.1181 0.1439"/><feFuncA type="linear" slope="0" intercept="1"/></feComponentTransfer>
<feConvolveMatrix order="3" kernelMatrix="1 2 1 2 12 2 1 2 1" edgeMode="duplicate"/>
</filter><radialGradient id="g5_0"><stop offset="0.000" stop-color="rgb(255,255,255)"/><stop offset="0.059" stop-color="rgb(245,245,245)"/><stop offset="0.147" stop-color="rgb(228,228,228)"/><stop offset="0.265" stop-color="rgb(211,211,211)"/><stop offset="0.382" stop-color="rgb(191,191,191)"/><stop offset="0.500" stop-color="rgb(170,170,170)"/><stop offset="0.647" stop-color="rgb(138,138,138)"/><stop offset="0.824" stop-color="rgb(102,102,102)"/><stop offset="1.000" stop-color="rgb(90,90,90)"/></radialGradient><radialGradient id="g5_1"><stop offset="0.000" stop-color="rgb(189,189,189)"/><stop offset="0.250" stop-color="rgb(170,170,170)"/><stop offset="0.450" stop-color="rgb(145,145,145)"/><stop offset="0.650" stop-color="rgb(114,114,114)"/><stop offset="0.850" stop-color="rgb(90,90,90)"/><stop offset="1.000" stop-color="rgb(90,90,90)"/></radialGradient><radialGradient id="g5_2"><stop offset="0.000" stop-color="rgb(255,255,255)"/><stop offset="0.011" stop-color="rgb(255,255,255)"/><stop offset="0.033" stop-color="rgb(255,255,255)"/><stop offset="0.062" stop-color="rgb(255,255,255)"/><stop offset="0.099" stop-color="rgb(255,255,255)"/><stop offset="0.141" stop-color="rgb(255,255,255)"/><stop offset="0.189" stop-color="rgb(253,253,253)"/><stop offset="0.242" stop-color="rgb(247,247,247)"/><stop offset="0.299" stop-color="rgb(239,239,239)"/><stop offset="0.361" stop-color="rgb(229,229,229)"/><stop offset="0.428" stop-color="rgb(215,215,215)"/><stop offset="0.498" stop-color="rgb(199,199,199)"/><stop offset="0.573" stop-color="rgb(179,179,179)"/><stop offset="0.651" stop-color="rgb(155,155,155)"/><stop offset="0.733" stop-color="rgb(127,127,127)"/><stop offset="0.819" stop-color="rgb(98,98,98)"/><stop offset="0.908" stop-color="rgb(90,90,90)"/><stop offset="1.000" stop-color="rgb(90,90,90)"/></radialGradient><radialGradient id="g5_3"><stop offset="0.000" stop-color="rgb(255,255,255)"/><stop offset="0.079" stop-color="rgb(245,245,245)"/><stop offset="0.158" stop-color="rgb(223,223,223)"/><stop offset="0.263" stop-color="rgb(201,201,201)"/><stop offset="0.368" stop-color="rgb(182,182,182)"/><stop offset="0.526" stop-color="rgb(157,157,157)"/><stop offset="0.684" stop-color="rgb(131,131,131)"/><stop offset="0.842" stop-color="rgb(102,102,102)"/><stop offset="1.000" stop-color="rgb(90,90,90)"/></radialGradient><radialGradient id="g5_4"><stop offset="0.000" stop-color="rgb(254,254,254)"/><stop offset="0.011" stop-color="rgb(254,254,254)"/><stop offset="0.033" stop-color="rgb(254,254,254)"/><stop offset="0.062" stop-color="rgb(253,253,253)"/><stop offset="0.099" stop-color="rgb(252,252,252)"/><stop offset="0.141" stop-color="rgb(249,249,249)"/><stop offset="0.189" stop-color="rgb(245,245,245)"/><stop offset="0.242" stop-color="rgb(240,240,240)"/><stop offset="0.299" stop-color="rgb(232,232,232)"/><stop offset="0.361" stop-color="rgb(221,221,221)"/><stop offset="0.428" stop-color="rgb(208,208,208)"/><stop offset="0.498" stop-color="rgb(192,192,192)"/><stop offset="0.573" stop-color="rgb(172,172,172)"/><stop offset="0.651" stop-color="rgb(148,148,148)"/><stop offset="0.733" stop-color="rgb(120,120,120)"/><stop offset="0.819" stop-color="rgb(93,93,93)"/><stop offset="0.908" stop-color="rgb(90,90,90)"/><stop offset="1.000" stop-color="rgb(90,90,90)"/></radialGradient><radialGradient id="g5_5"><stop offset="0.000" stop-color="rgb(254,254,254)"/><stop offset="0.011" stop-color="rgb(254,254,254)"/><stop offset="0.033" stop-color="rgb(254,254,254)"/><stop offset="0.062" stop-color="rgb(253,253,253)"/><stop offset="0.099" stop-color="rgb(252,252,252)"/><stop offset="0.141" stop-color="rgb(249,249,249)"/><stop offset="0.189" stop-color="rgb(245,245,245)"/><stop offset="0.242" stop-color="rgb(240,240,240)"/><stop offset="0.299" stop-color="rgb(232,232,232)"/><stop offset="0.361" stop-color="rgb(221,221,221)"/><stop offset="0.428" stop-color="rgb(208,208,208)"/><stop offset="0.498" stop-color="rgb(192,192,192)"/><stop offset="0.573" stop-color="rgb(172,172,172)"/><stop offset="0.651" stop-color="rgb(148,148,148)"/><stop offset="0.733" stop-color="rgb(120,120,120)"/><stop offset="0.819" stop-color="rgb(93,93,93)"/><stop offset="0.908" stop-color="rgb(90,90,90)"/><stop offset="1.000" stop-color="rgb(90,90,90)"/></radialGradient><radialGradient id="g5_6"><stop offset="0.000" stop-color="rgb(170,170,170)"/><stop offset="0.176" stop-color="rgb(162,162,162)"/><stop offset="0.353" stop-color="rgb(148,148,148)"/><stop offset="0.529" stop-color="rgb(126,126,126)"/><stop offset="0.706" stop-color="rgb(102,102,102)"/><stop offset="0.882" stop-color="rgb(90,90,90)"/><stop offset="1.000" stop-color="rgb(90,90,90)"/></radialGradient><radialGradient id="g5_7"><stop offset="0.000" stop-color="rgb(242,242,242)"/><stop offset="0.011" stop-color="rgb(242,242,242)"/><stop offset="0.033" stop-color="rgb(242,242,242)"/><stop offset="0.062" stop-color="rgb(241,241,241)"/><stop offset="0.099" stop-color="rgb(240,240,240)"/><stop offset="0.141" stop-color="rgb(238,238,238)"/><stop offset="0.189" stop-color="rgb(234,234,234)"/><stop offset="0.242" stop-color="rgb(229,229,229)"/><stop offset="0.299" stop-color="rgb(222,222,222)"/><stop offset="0.361" stop-color="rgb(212,212,212)"/><stop offset="0.428" stop-color="rgb(200,200,200)"/><stop offset="0.498" stop-color="rgb(185,185,185)"/><stop offset="0.573" stop-color="rgb(167,167,167)"/><stop offset="0.651" stop-color="rgb(145,145,145)"/><stop offset="0.733" stop-color="rgb(120,120,120)"/><stop offset="0.819" stop-color="rgb(95,95,95)"/><stop offset="0.908" stop-color="rgb(90,90,90)"/><stop offset="1.000" stop-color="rgb(90,90,90)"/></radialGradient><radialGradient id="g5_8"><stop offset="0.000" stop-color="rgb(242,242,242)"/><stop offset="0.011" stop-color="rgb(242,242,242)"/><stop offset="0.033" stop-color="rgb(242,242,242)"/><stop offset="0.062" stop-color="rgb(241,241,241)"/><stop offset="0.099" stop-color="rgb(240,240,240)"/><stop offset="0.141" stop-color="rgb(238,238,238)"/><stop offset="0.189" stop-color="rgb(234,234,234)"/><stop offset="0.242" stop-color="rgb(229,229,229)"/><stop offset="0.299" stop-color="rgb(222,222,222)"/><stop offset="0.361" stop-color="rgb(212,212,212)"/><stop offset="0.428" stop-color="rgb(200,200,200)"/><stop offset="0.498" stop-color="rgb(185,185,185)"/><stop offset="0.573" stop-color="rgb(167,167,167)"/><stop offset="0.651" stop-color="rgb(145,145,145)"/><stop offset="0.733" stop-color="rgb(120,120,120)"/><stop offset="0.819" stop-color="rgb(95,95,95)"/><stop offset="0.908" stop-color="rgb(90,90,90)"/><stop offset="1.000" stop-color="rgb(90,90,90)"/></radialGradient><radialGradient id="g5_9"><stop offset="0.000" stop-color="rgb(242,242,242)"/><stop offset="0.011" stop-color="rgb(242,242,242)"/><stop offset="0.033" stop-color="rgb(242,242,242)"/><stop offset="0.062" stop-color="rgb(241,241,241)"/><stop offset="0.099" stop-color="rgb(240,240,240)"/><stop offset="0.141" stop-color="rgb(238,238,238)"/><stop offset="0.189" stop-color="rgb(234,234,234)"/><stop offset="0.242" stop-color="rgb(229,229,229)"/><stop offset="0.299" stop-color="rgb(222,222,222)"/><stop offset="0.361" stop-color="rgb(212,212,212)"/><stop offset="0.428" stop-color="rgb(200,200,200)"/><stop offset="0.498" stop-color="rgb(185,185,185)"/><stop offset="0.573" stop-color="rgb(167,167,167)"/><stop offset="0.651" stop-color="rgb(145,145,145)"/><stop offset="0.733" stop-color="rgb(120,120,120)"/><stop offset="0.819" stop-color="rgb(95,95,95)"/><stop offset="0.908" stop-color="rgb(90,90,90)"/><stop offset="1.000" stop-color="rgb(90,90,90)"/></radialGradient><radialGradient id="g5_10"><stop offset="0.000" stop-color="rgb(179,179,179)"/><stop offset="0.011" stop-color="rgb(177,177,177)"/><stop offset="0.033" stop-color="rgb(174,174,174)"/><stop offset="0.062" stop-color="rgb(169,169,169)"/><stop offset="0.099" stop-color="rgb(162,162,162)"/><stop offset="0.141" stop-color="rgb(155,155,155)"/><stop offset="0.189" stop-color="rgb(147,147,147)"/><stop offset="0.242" stop-color="rgb(138,138,138)"/><stop offset="0.299" stop-color="rgb(129,129,129)"/><stop offset="0.361" stop-color="rgb(118,118,118)"/><stop offset="0.428" stop-color="rgb(108,108,108)"/><stop offset="0.498" stop-color="rgb(99,99,99)"/><stop offset="0.573" stop-color="rgb(91,91,91)"/><stop offset="0.651" stop-color="rgb(90,90,90)"/><stop offset="0.733" stop-color="rgb(90,90,90)"/><stop offset="0.819" stop-color="rgb(90,90,90)"/><stop offset="0.908" stop-color="rgb(90,90,90)"/><stop offset="1.000" stop-color="rgb(90,90,90)"/></radialGradient><radialGradient id="g5_11"><stop offset="0.000" stop-color="rgb(199,199,199)"/><stop offset="0.011" stop-color="rgb(199,199,199)"/><stop offset="0.033" stop-color="rgb(198,198,198)"/><stop offset="0.062" stop-color="rgb(198,198,198)"/><stop offset="0.099" stop-color="rgb(197,197,197)"/><stop offset="0.141" stop-color="rgb(195,195,195)"/><stop offset="0.189" stop-color="rgb(192,192,192)"/><stop offset="0.242" stop-color="rgb(188,188,188)"/><stop offset="0.299" stop-color="rgb(182,182,182)"/><stop offset="0.361" stop-color="rgb(174,174,174)"/><stop offset="0.428" stop-color="rgb(164,164,164)"/><stop offset="0.498" stop-color="rgb(152,152,152)"/><stop offset="0.573" stop-color="rgb(137,137,137)"/><stop offset="0.651" stop-color="rgb(120,120,120)"/><stop offset="0.733" stop-color="rgb(101,101,101)"/><stop offset="0.819" stop-color="rgb(90,90,90)"/><stop offset="0.908" stop-color="rgb(90,90,90)"/><stop offset="1.000" stop-color="rgb(90,90,90)"/></radialGradient><radialGradient id="g5_12"><stop offset="0.000" stop-color="rgb(199,199,199)"/><stop offset="0.011" stop-color="rgb(199,199,199)"/><stop offset="0.033" stop-color="rgb(198,198,198)"/><stop offset="0.062" stop-color="rgb(198,198,198)"/><stop offset="0.099" stop-color="rgb(197,197,197)"/><stop offset="0.141" stop-color="rgb(195,195,195)"/><stop offset="0.189" stop-color="rgb(192,192,192)"/><stop offset="0.242" stop-color="rgb(188,188,188)"/><stop offset="0.299" stop-color="rgb(182,182,182)"/><stop offset="0.361" stop-color="rgb(174,174,174)"/><stop offset="0.428" stop-color="rgb(164,164,164)"/><stop offset="0.498" stop-color="rgb(152,152,152)"/><stop offset="0.573" stop-color="rgb(137,137,137)"/><stop offset="0.651" stop-color="rgb(120,120,120)"/><stop offset="0.733" stop-color="rgb(101,101,101)"/><stop offset="0.819" stop-color="rgb(90,90,90)"/><stop offset="0.908" stop-color="rgb(90,90,90)"/><stop offset="1.000" stop-color="rgb(90,90,90)"/></radialGradient><radialGradient id="g5_13"><stop offset="0.000" stop-color="rgb(199,199,199)"/><stop offset="0.011" stop-color="rgb(199,199,199)"/><stop offset="0.033" stop-color="rgb(198,198,198)"/><stop offset="0.062" stop-color="rgb(198,198,198)"/><stop offset="0.099" stop-color="rgb(197,197,197)"/><stop offset="0.141" stop-color="rgb(195,195,195)"/><stop offset="0.189" stop-color="rgb(192,192,192)"/><stop offset="0.242" stop-color="rgb(188,188,188)"/><stop offset="0.299" stop-color="rgb(182,182,182)"/><stop offset="0.361" stop-color="rgb(174,174,174)"/><stop offset="0.428" stop-color="rgb(164,164,164)"/><stop offset="0.498" stop-color="rgb(152,152,152)"/><stop offset="0.573" stop-color="rgb(137,137,137)"/><stop offset="0.651" stop-color="rgb(120,120,120)"/><stop offset="0.733" stop-color="rgb(101,101,101)"/><stop offset="0.819" stop-color="rgb(90,90,90)"/><stop offset="0.908" stop-color="rgb(90,90,90)"/><stop offset="1.000" stop-color="rgb(90,90,90)"/></radialGradient></defs><g filter="url(#f5)" style="isolation:isolate"><rect x="0" y="0" width="173.30" height="173.30" fill="rgb(90,90,90)"/><ellipse cx="87.20" cy="86.70" rx="34.00" ry="11.22" transform="rotate(-10.0 87.20 86.70)" fill="url(#g5_0)" style="mix-blend-mode:lighten"/><ellipse cx="87.20" cy="86.70" rx="40.00" ry="22.00" transform="rotate(-10.0 87.20 86.70)" fill="url(#g5_1)" style="mix-blend-mode:lighten"/><ellipse cx="87.10" cy="86.70" rx="5.22" ry="5.22" transform="rotate(0.0 87.10 86.70)" fill="url(#g5_2)" style="mix-blend-mode:lighten"/><ellipse cx="128.90" cy="107.20" rx="19.00" ry="17.48" transform="rotate(0.0 128.90 107.20)" fill="url(#g5_3)" style="mix-blend-mode:lighten"/><ellipse cx="105.40" cy="131.80" rx="3.92" ry="3.92" transform="rotate(0.0 105.40 131.80)" fill="url(#g5_4)" style="mix-blend-mode:lighten"/><ellipse cx="103.60" cy="138.10" rx="3.92" ry="3.92" transform="rotate(0.0 103.60 138.10)" fill="url(#g5_5)" style="mix-blend-mode:lighten"/><ellipse cx="102.70" cy="135.40" rx="34.00" ry="30.60" transform="rotate(0.0 102.70 135.40)" fill="url(#g5_6)" style="mix-blend-mode:lighten"/><ellipse cx="52.10" cy="26.40" rx="3.52" ry="3.52" transform="rotate(0.0 52.10 26.40)" fill="url(#g5_7)" style="mix-blend-mode:lighten"/><ellipse cx="3.10" cy="34.70" rx="3.73" ry="3.73" transform="rotate(0.0 3.10 34.70)" fill="url(#g5_8)" style="mix-blend-mode:lighten"/><ellipse cx="83.10" cy="62.70" rx="3.52" ry="3.52" transform="rotate(0.0 83.10 62.70)" fill="url(#g5_9)" style="mix-blend-mode:lighten"/><ellipse cx="93.80" cy="43.60" rx="10.56" ry="4.75" transform="rotate(70.0 93.80 43.60)" fill="url(#g5_10)" style="mix-blend-mode:lighten"/><ellipse cx="81.30" cy="9.90" rx="3.20" ry="3.20" transform="rotate(0.0 81.30 9.90)" fill="url(#g5_11)" style="mix-blend-mode:lighten"/><ellipse cx="158.20" cy="45.00" rx="4.14" ry="4.14" transform="rotate(0.0 158.20 45.00)" fill="url(#g5_12)" style="mix-blend-mode:lighten"/><ellipse cx="95.50" cy="105.50" rx="3.20" ry="3.20" transform="rotate(0.0 95.50 105.50)" fill="url(#g5_13)" style="mix-blend-mode:lighten"/></g></svg>
<div class="axclip" style="left:334.30px;top:497.85px;width:173.30px;height:172.75px"><div class="ann" style="left:1.80px;top:158.30px">arcsinh(100x image)</div><div class="kpc" style="left:104.05px;top:135.80px">3 kpc</div><div class="bar" style="left:151.40px;top:153.50px;width:5.30px"></div></div>
<div class="ytl" style="left:278.80px;top:663.90px">0</div>
<div class="ytl" style="left:278.80px;top:635.11px">50</div>
<div class="ytl" style="left:278.80px;top:606.32px">100</div>
<div class="ytl" style="left:278.80px;top:577.52px">150</div>
<div class="ytl" style="left:278.80px;top:548.73px">200</div>
<div class="ytl" style="left:278.80px;top:519.94px">250</div>
<div class="xtl" style="left:304.30px;top:673.60px">0</div>
<div class="xtl" style="left:362.07px;top:673.60px">100</div>
<div class="xtl" style="left:419.83px;top:673.60px">200</div>
<div class="xl" style="left:334.30px;top:688.90px;width:173.30px">x (pixel)</div>
<div class="yl" style="left:297.30px;top:584.23px">y (pixel)</div>
<div class="cb" style="left:521.40px;top:497.85px;width:8.60px;height:172.75px;background:linear-gradient(to top,#440154 0.0%,#471365 5.0%,#482475 10.0%,#463480 15.0%,#414487 20.0%,#3b528b 25.0%,#355f8d 30.0%,#2f6c8e 35.0%,#2a788e 40.0%,#25848e 45.0%,#21918c 50.0%,#1e9c89 55.0%,#22a884 60.0%,#2fb47c 65.0%,#44bf70 70.0%,#5ec962 75.0%,#7ad151 80.0%,#9bd93c 85.0%,#bddf26 90.0%,#dfe318 95.0%,#fde725 100.0%)"></div>
<div class="ctl" style="left:535.50px;top:644.71px">−2</div>
<div class="ctl" style="left:535.50px;top:611.90px">0</div>
<div class="ctl" style="left:535.50px;top:579.09px">2</div>
<div class="ctl" style="left:535.50px;top:546.28px">4</div>
<div class="ctl" style="left:535.50px;top:513.47px">6</div>
<div class="title" style="left:43.20px;top:716.65px;width:173.30px">BCG no.126</div>
<svg class="im" style="left:43.20px;top:737.85px" width="173.30" height="172.75" viewBox="0 0 173.30 173.30" preserveAspectRatio="none"><defs><filter id="f6" x="0" y="0" width="173.30" height="173.30" filterUnits="userSpaceOnUse" color-interpolation-filters="sRGB">
<feTurbulence type="fractalNoise" baseFrequency="0.8" numOctaves="2" seed="45" result="t"/>
<feColorMatrix in="t" type="matrix" values="1 0 0 0 0  1 0 0 0 0  1 0 0 0 0  0 0 0 0 1" result="n0"/>
<feComponentTransfer in="n0" result="n"><feFuncR type="table" tableValues="0.0000 0.0042 0.0086 0.0131 0.0178 0.0227 0.0277 0.0330 0.0384 0.0441 0.0500 0.0562 0.0627 0.0696 0.0768 0.0844 0.0925 0.1011 0.1102 0.1201 0.1307 0.1423 0.1549 0.1688 0.1843 0.2018 0.2218 0.2453 0.2736 0.3088 0.3547 0.4175 0.5000 0.5825 0.6453 0.6912 0.7264 0.7547 0.7782 0.7982 0.8157 0.8312 0.8451 0.8577 0.8693 0.8799 0.8898 0.8989 0.9075 0.9156 0.9232 0.9304 0.9373 0.9438 0.9500 0.9559 0.9616 0.9670 0.9723 0.9773 0.9822 0.9869 0.9914 0.9958 1.0000"/><feFuncG type="table" tableValues="0.0000 0.0042 0.0086 0.0131 0.0178 0.0227 0.0277 0.0330 0.0384 0.0441 0.0500 0.0562 0.0627 0.0696 0.0768 0.0844 0.0925 0.1011 0.1102 0.1201 0.1307 0.1423 0.1549 0.1688 0.1843 0.2018 0.2218 0.2453 0.2736 0.3088 0.3547 0.4175 0.5000 0.5825 0.6453 0.6912 0.7264 0.7547 0.7782 0.7982 0.8157 0.8312 0.8451 0.8577 0.8693 0.8799 0.8898 0.8989 0.9075 0.9156 0.9232 0.9304 0.9373 0.9438 0.9500 0.9559 0.9616 0.9670 0.9723 0.9773 0.9822 0.9869 0.9914 0.9958 1.0000"/><feFuncB type="table" tableValues="0.0000 0.0042 0.0086 0.0131 0.0178 0.0227 0.0277 0.0330 0.0384 0.0441 0.0500 0.0562 0.0627 0.0696 0.0768 0.0844 0.0925 0.1011 0.1102 0.1201 0.1307 0.1423 0.1549 0.1688 0.1843 0.2018 0.2218 0.2453 0.2736 0.3088 0.3547 0.4175 0.5000 0.5825 0.6453 0.6912 0.7264 0.7547 0.7782 0.7982 0.8157 0.8312 0.8451 0.8577 0.8693 0.8799 0.8898 0.8989 0.9075 0.9156 0.9232 0.9304 0.9373 0.9438 0.9500 0.9559 0.9616 0.9670 0.9723 0.9773 0.9822 0.9869 0.9914 0.9958 1.0000"/></feComponentTransfer>
<feComponentTransfer in="SourceGraphic" result="a"><feFuncR type="table" tableValues="0.3009 0.3505 0.4048 0.4633 0.5251 0.5889 0.6536 0.7177 0.7797 0.8379 0.8902 0.9346 0.9689 0.9911 0.9999 0.9946 0.9756 0.9442 0.9021 0.8516 0.7947 0.7335 0.6697 0.6051 0.5409 0.4785 0.4191 0.3636 0.3128 0.2672 0.2268 0.1915 0.1612 0.1352 0.1133 0.0947 0.0791 0.0660 0.0550 0.0459 0.0383 0.0319 0.0266 0.0221 0.0184 0.0154 0.0128 0.0107 0.0089 0.0074 0.0062 0.0051 0.0043 0.0036 0.0030 0.0025 0.0021 0.0017 0.0014 0.0012 0.0010 0.0008 0.0007 0.0006 0.0005"/><feFuncG type="table" tableValues="0.3009 0.3505 0.4048 0.4633 0.5251 0.5889 0.6536 0.7177 0.7797 0.8379 0.8902 0.9346 0.9689 0.9911 0.9999 0.9946 0.9756 0.9442 0.9021 0.8516 0.7947 0.7335 0.6697 0.6051 0.5409 0.4785 0.4191 0.3636 0.3128 0.2672 0.2268 0.1915 0.1612 0.1352 0.1133 0.0947 0.0791 0.0660 0.0550 0.0459 0.0383 0.0319 0.0266 0.0221 0.0184 0.0154 0.0128 0.0107 0.0089 0.0074 0.0062 0.0051 0.0043 0.0036 0.0030 0.0025 0.0021 0.0017 0.0014 0.0012 0.0010 0.0008 0.0007 0.0006 0.0005"/><feFuncB type="table" tableValues="0.3009 0.3505 0.4048 0.4633 0.5251 0.5889 0.6536 0.7177 0.7797 0.8379 0.8902 0.9346 0.9689 0.9911 0.9999 0.9946 0.9756 0.9442 0.9021 0.8516 0.7947 0.7335 0.6697 0.6051 0.5409 0.4785 0.4191 0.3636 0.3128 0.2672 0.2268 0.1915 0.1612 0.1352 0.1133 0.0947 0.0791 0.0660 0.0550 0.0459 0.0383 0.0319 0.0266 0.0221 0.0184 0.0154 0.0128 0.0107 0.0089 0.0074 0.0062 0.0051 0.0043 0.0036 0.0030 0.0025 0.0021 0.0017 0.0014 0.0012 0.0010 0.0008 0.0007 0.0006 0.0005"/><feFuncA type="linear" slope="0" intercept="1"/></feComponentTransfer>
<feComposite in="a" in2="n" operator="arithmetic" k1="1" k2="-0.5" k3="0" k4="0.5" result="p"/>
<feComposite in="SourceGraphic" in2="p" operator="arithmetic" k1="0" k2="1" k3="0.6396" k4="-0.3198" result="d"/>
<feComponentTransfer in="d"><feFuncR type="table" tableValues="0.2670 0.2726 0.2770 0.2803 0.2823 0.2832 0.2829 0.2814 0.2788 0.2752 0.2706 0.2651 0.2590 0.2522 0.2450 0.2374 0.2278 0.2201 0.2124 0.2049 0.1976 0.1906 0.1839 0.1774 0.1712 0.1651 0.1592 0.1534 0.1476 0.1419 0.1364 0.1312 0.1254 0.1218 0.1197 0.1197 0.1223 0.1281 0.1373 0.1501 0.1664 0.1858 0.2080 0.2328 0.2599 0.2889 0.3198 0.3524 0.3952 0.4310 0.4681 0.5063 0.5455 0.5857 0.6266 0.6681 0.7099 0.7519 0.7938 0.8353 0.8762 0.9162 0.9553 0.9932"/><feFuncG type="table" tableValues="0.0049 0.0256 0.0503 0.0734 0.0950 0.1157 0.1359 0.1558 0.1755 0.1949 0.2141 0.2330 0.2515 0.2698 0.2877 0.3052 0.3266 0.3433 0.3597 0.3757 0.3915 0.4071 0.4224 0.4375 0.4525 0.4674 0.4822 0.4970 0.5117 0.5265 0.5412 0.5559 0.5743 0.5891 0.6038 0.6185 0.6332 0.6477 0.6623 0.6766 0.6909 0.7049 0.7187 0.7322 0.7455 0.7584 0.7709 0.7830 0.7975 0.8085 0.8189 0.8288 0.8380 0.8467 0.8546 0.8620 0.8688 0.8750 0.8807 0.8860 0.8911 0.8961 0.9011 0.9062"/><feFuncB type="table" tableValues="0.3294 0.3531 0.3757 0.3972 0.4173 0.4361 0.4534 0.4692 0.4834 0.4960 0.5071 0.5166 0.5247 0.5316 0.5373 0.5419 0.5465 0.5494 0.5517 0.5535 0.5550 0.5561 0.5569 0.5576 0.5580 0.5581 0.5581 0.5577 0.5570 0.5560 0.5545 0.5525 0.5491 0.5456 0.5414 0.5363 0.5304 0.5235 0.5156 0.5066 0.4965 0.4853 0.4729 0.4593 0.4445 0.4284 0.4112 0.3926 0.3678 0.3465 0.3240 0.3004 0.2756 0.2499 0.2234 0.1963 0.1693 0.1432 0.1200 0.1026 0.0953 0.1007 0.1181 0.1439"/><feFuncA type="linear" slope="0" intercept="1"/></feComponentTransfer>
<feConvolveMatrix order="3" kernelMatrix="1 2 1 2 12 2 1 2 1" edgeMode="duplicate"/>
</filter><radialGradient id="g6_0"><stop offset="0.000" stop-color="rgb(237,237,237)"/><stop offset="0.005" stop-color="rgb(226,226,226)"/><stop offset="0.009" stop-color="rgb(217,217,217)"/><stop offset="0.016" stop-color="rgb(205,205,205)"/><stop offset="0.031" stop-color="rgb(186,186,186)"/><stop offset="0.047" stop-color="rgb(176,176,176)"/><stop offset="0.078" stop-color="rgb(165,165,165)"/><stop offset="0.109" stop-color="rgb(158,158,158)"/><stop offset="0.141" stop-color="rgb(151,151,151)"/><stop offset="0.188" stop-color="rgb(144,144,144)"/><stop offset="0.272" stop-color="rgb(133,133,133)"/><stop offset="0.381" stop-color="rgb(122,122,122)"/><stop offset="0.562" stop-color="rgb(104,104,104)"/><stop offset="0.781" stop-color="rgb(82,82,82)"/><stop offset="1.000" stop-color="rgb(56,56,56)"/></radialGradient><radialGradient id="g6_1"><stop offset="0.000" stop-color="rgb(205,205,205)"/><stop offset="0.011" stop-color="rgb(205,205,205)"/><stop offset="0.033" stop-color="rgb(204,204,204)"/><stop offset="0.062" stop-color="rgb(204,204,204)"/><stop offset="0.099" stop-color="rgb(203,203,203)"/><stop offset="0.141" stop-color="rgb(201,201,201)"/><stop offset="0.189" stop-color="rgb(197,197,197)"/><stop offset="0.242" stop-color="rgb(193,193,193)"/><stop offset="0.299" stop-color="rgb(186,186,186)"/><stop offset="0.361" stop-color="rgb(178,178,178)"/><stop offset="0.428" stop-color="rgb(167,167,167)"/><stop offset="0.498" stop-color="rgb(154,154,154)"/><stop offset="0.573" stop-color="rgb(137,137,137)"/><stop offset="0.651" stop-color="rgb(117,117,117)"/><stop offset="0.733" stop-color="rgb(95,95,95)"/><stop offset="0.819" stop-color="rgb(72,72,72)"/><stop offset="0.908" stop-color="rgb(60,60,60)"/><stop offset="1.000" stop-color="rgb(57,57,57)"/></radialGradient><radialGradient id="g6_2"><stop offset="0.000" stop-color="rgb(213,213,213)"/><stop offset="0.214" stop-color="rgb(192,192,192)"/><stop offset="0.429" stop-color="rgb(170,170,170)"/><stop offset="0.643" stop-color="rgb(152,152,152)"/><stop offset="0.857" stop-color="rgb(137,137,137)"/><stop offset="1.000" stop-color="rgb(56,56,56)"/></radialGradient><radialGradient id="g6_3"><stop offset="0.000" stop-color="rgb(244,244,244)"/><stop offset="0.083" stop-color="rgb(222,222,222)"/><stop offset="0.167" stop-color="rgb(200,200,200)"/><stop offset="0.333" stop-color="rgb(174,174,174)"/><stop offset="0.500" stop-color="rgb(157,157,157)"/><stop offset="0.667" stop-color="rgb(144,144,144)"/><stop offset="0.833" stop-color="rgb(133,133,133)"/><stop offset="1.000" stop-color="rgb(56,56,56)"/></radialGradient><radialGradient id="g6_4"><stop offset="0.000" stop-color="rgb(250,250,250)"/><stop offset="0.088" stop-color="rgb(231,231,231)"/><stop offset="0.176" stop-color="rgb(207,207,207)"/><stop offset="0.294" stop-color="rgb(187,187,187)"/><stop offset="0.471" stop-color="rgb(170,170,170)"/><stop offset="0.647" stop-color="rgb(154,154,154)"/><stop offset="0.824" stop-color="rgb(139,139,139)"/><stop offset="1.000" stop-color="rgb(56,56,56)"/></radialGradient><radialGradient id="g6_5"><stop offset="0.000" stop-color="rgb(187,187,187)"/><stop offset="0.011" stop-color="rgb(187,187,187)"/><stop offset="0.033" stop-color="rgb(187,187,187)"/><stop offset="0.062" stop-color="rgb(186,186,186)"/><stop offset="0.099" stop-color="rgb(185,185,185)"/><stop offset="0.141" stop-color="rgb(183,183,183)"/><stop offset="0.189" stop-color="rgb(180,180,180)"/><stop offset="0.242" stop-color="rgb(176,176,176)"/><stop offset="0.299" stop-color="rgb(170,170,170)"/><stop offset="0.361" stop-color="rgb(163,163,163)"/><stop offset="0.428" stop-color="rgb(153,153,153)"/><stop offset="0.498" stop-color="rgb(141,141,141)"/><stop offset="0.573" stop-color="rgb(126,126,126)"/><stop offset="0.651" stop-color="rgb(108,108,108)"/><stop offset="0.733" stop-color="rgb(88,88,88)"/><stop offset="0.819" stop-color="rgb(70,70,70)"/><stop offset="0.908" stop-color="rgb(60,60,60)"/><stop offset="1.000" stop-color="rgb(57,57,57)"/></radialGradient><radialGradient id="g6_6"><stop offset="0.000" stop-color="rgb(187,187,187)"/><stop offset="0.011" stop-color="rgb(187,187,187)"/><stop offset="0.033" stop-color="rgb(187,187,187)"/><stop offset="0.062" stop-color="rgb(186,186,186)"/><stop offset="0.099" stop-color="rgb(185,185,185)"/><stop offset="0.141" stop-color="rgb(183,183,183)"/><stop offset="0.189" stop-color="rgb(180,180,180)"/><stop offset="0.242" stop-color="rgb(176,176,176)"/><stop offset="0.299" stop-color="rgb(170,170,170)"/><stop offset="0.361" stop-color="rgb(163,163,163)"/><stop offset="0.428" stop-color="rgb(153,153,153)"/><stop offset="0.498" stop-color="rgb(141,141,141)"/><stop offset="0.573" stop-color="rgb(126,126,126)"/><stop offset="0.651" stop-color="rgb(108,108,108)"/><stop offset="0.733" stop-color="rgb(88,88,88)"/><stop offset="0.819" stop-color="rgb(70,70,70)"/><stop offset="0.908" stop-color="rgb(60,60,60)"/><stop offset="1.000" stop-color="rgb(57,57,57)"/></radialGradient></defs><g filter="url(#f6)" style="isolation:isolate"><rect x="0" y="0" width="173.30" height="173.30" fill="rgb(56,56,56)"/><ellipse cx="87.00" cy="86.60" rx="320.00" ry="304.00" transform="rotate(0.0 87.00 86.60)" fill="url(#g6_0)" style="mix-blend-mode:lighten"/><ellipse cx="57.40" cy="18.60" rx="3.32" ry="3.32" transform="rotate(0.0 57.40 18.60)" fill="url(#g6_1)" style="mix-blend-mode:lighten"/><ellipse cx="1.00" cy="40.60" rx="14.00" ry="7.70" transform="rotate(90.0 1.00 40.60)" fill="url(#g6_2)" style="mix-blend-mode:lighten"/><ellipse cx="10.80" cy="114.80" rx="18.00" ry="7.20" transform="rotate(90.0 10.80 114.80)" fill="url(#g6_3)" style="mix-blend-mode:lighten"/><ellipse cx="117.50" cy="151.70" rx="17.00" ry="16.15" transform="rotate(0.0 117.50 151.70)" fill="url(#g6_4)" style="mix-blend-mode:lighten"/><ellipse cx="57.40" cy="135.90" rx="3.16" ry="3.16" transform="rotate(0.0 57.40 135.90)" fill="url(#g6_5)" style="mix-blend-mode:lighten"/><ellipse cx="110.00" cy="119.40" rx="3.16" ry="3.16" transform="rotate(0.0 110.00 119.40)" fill="url(#g6_6)" style="mix-blend-mode:lighten"/></g></svg>
<div class="axclip" style="left:43.20px;top:737.85px;width:173.30px;height:172.75px"><div class="ann" style="left:1.80px;top:158.30px">arcsinh(100x image)</div><div class="kpc" style="left:101.30px;top:135.80px">3 kpc</div><div class="bar" style="left:145.10px;top:153.50px;width:12.40px"></div></div>
<div class="ytl" style="left:-12.30px;top:903.90px">0</div>
<div class="ytl" style="left:-12.30px;top:875.11px">50</div>
<div class="ytl" style="left:-12.30px;top:846.32px">100</div>
<div class="ytl" style="left:-12.30px;top:817.52px">150</div>
<div class="ytl" style="left:-12.30px;top:788.73px">200</div>
<div class="ytl" style="left:-12.30px;top:759.94px">250</div>
<div class="xtl" style="left:13.20px;top:913.60px">0</div>
<div class="xtl" style="left:70.97px;top:913.60px">100</div>
<div class="xtl" style="left:128.73px;top:913.60px">200</div>
<div class="xl" style="left:43.20px;top:928.90px;width:173.30px">x (pixel)</div>
<div class="yl" style="left:6.20px;top:824.22px">y (pixel)</div>
<div class="cb" style="left:230.30px;top:737.85px;width:8.60px;height:172.75px;background:linear-gradient(to top,#440154 0.0%,#471365 5.0%,#482475 10.0%,#463480 15.0%,#414487 20.0%,#3b528b 25.0%,#355f8d 30.0%,#2f6c8e 35.0%,#2a788e 40.0%,#25848e 45.0%,#21918c 50.0%,#1e9c89 55.0%,#22a884 60.0%,#2fb47c 65.0%,#44bf70 70.0%,#5ec962 75.0%,#7ad151 80.0%,#9bd93c 85.0%,#bddf26 90.0%,#dfe318 95.0%,#fde725 100.0%)"></div>
<div class="ctl" style="left:244.40px;top:895.83px">−2</div>
<div class="ctl" style="left:244.40px;top:866.27px">0</div>
<div class="ctl" style="left:244.40px;top:836.72px">2</div>
<div class="ctl" style="left:244.40px;top:807.16px">4</div>
<div class="ctl" style="left:244.40px;top:777.61px">6</div>
<div class="ctl" style="left:244.40px;top:748.05px">8</div>
<svg style="left:0;top:0" width="561" height="946"><path d="M43.20 18.05H216.50V190.80H43.20ZM43.20 190.80h-3.5M43.20 162.01h-3.5M43.20 133.22h-3.5M43.20 104.43h-3.5M43.20 75.63h-3.5M43.20 46.84h-3.5M43.20 190.80v3.5M100.97 190.80v3.5M158.73 190.80v3.5M230.30 18.05H238.90V190.80H230.30ZM238.90 169.61h3.5M238.90 140.57h3.5M238.90 111.54h3.5M238.90 82.50h3.5M238.90 53.47h3.5M238.90 24.44h3.5M334.30 18.05H507.60V190.80H334.30ZM334.30 190.80h-3.5M334.30 162.01h-3.5M334.30 133.22h-3.5M334.30 104.43h-3.5M334.30 75.63h-3.5M334.30 46.84h-3.5M334.30 190.80v3.5M392.07 190.80v3.5M449.83 190.80v3.5M521.40 18.05H530.00V190.80H521.40ZM530.00 167.84h3.5M530.00 136.17h3.5M530.00 104.50h3.5M530.00 72.84h3.5M530.00 41.17h3.5M43.20 257.85H216.50V430.60H43.20ZM43.20 430.60h-3.5M43.20 401.81h-3.5M43.20 373.02h-3.5M43.20 344.23h-3.5M43.20 315.43h-3.5M43.20 286.64h-3.5M43.20 430.60v3.5M100.97 430.60v3.5M158.73 430.60v3.5M230.30 257.85H238.90V430.60H230.30ZM238.90 415.94h3.5M238.90 382.92h3.5M238.90 349.90h3.5M238.90 316.89h3.5M238.90 283.87h3.5M334.30 257.85H507.60V430.60H334.30ZM334.30 430.60h-3.5M334.30 401.81h-3.5M334.30 373.02h-3.5M334.30 344.23h-3.5M334.30 315.43h-3.5M334.30 286.64h-3.5M334.30 430.60v3.5M392.07 430.60v3.5M449.83 430.60v3.5M521.40 257.85H530.00V430.60H521.40ZM530.00 417.78h3.5M530.00 387.97h3.5M530.00 358.16h3.5M530.00 328.35h3.5M530.00 298.54h3.5M530.00 268.73h3.5M43.20 497.85H216.50V670.60H43.20ZM43.20 670.60h-3.5M43.20 641.81h-3.5M43.20 613.02h-3.5M43.20 584.23h-3.5M43.20 555.43h-3.5M43.20 526.64h-3.5M43.20 670.60v3.5M100.97 670.60v3.5M158.73 670.60v3.5M230.30 497.85H238.90V670.60H230.30ZM238.90 642.00h3.5M238.90 612.97h3.5M238.90 583.93h3.5M238.90 554.90h3.5M238.90 525.87h3.5M334.30 497.85H507.60V670.60H334.30ZM334.30 670.60h-3.5M334.30 641.81h-3.5M334.30 613.02h-3.5M334.30 584.23h-3.5M334.30 555.43h-3.5M334.30 526.64h-3.5M334.30 670.60v3.5M392.07 670.60v3.5M449.83 670.60v3.5M521.40 497.85H530.00V670.60H521.40ZM530.00 650.91h3.5M530.00 618.10h3.5M530.00 585.29h3.5M530.00 552.48h3.5M530.00 519.67h3.5M43.20 737.85H216.50V910.60H43.20ZM43.20 910.60h-3.5M43.20 881.81h-3.5M43.20 853.02h-3.5M43.20 824.22h-3.5M43.20 795.43h-3.5M43.20 766.64h-3.5M43.20 910.60v3.5M100.97 910.60v3.5M158.73 910.60v3.5M230.30 737.85H238.90V910.60H230.30ZM238.90 902.03h3.5M238.90 872.47h3.5M238.90 842.92h3.5M238.90 813.36h3.5M238.90 783.81h3.5M238.90 754.25h3.5" fill="none" stroke="#222" stroke-width="0.85"/></svg>
</body></html>
